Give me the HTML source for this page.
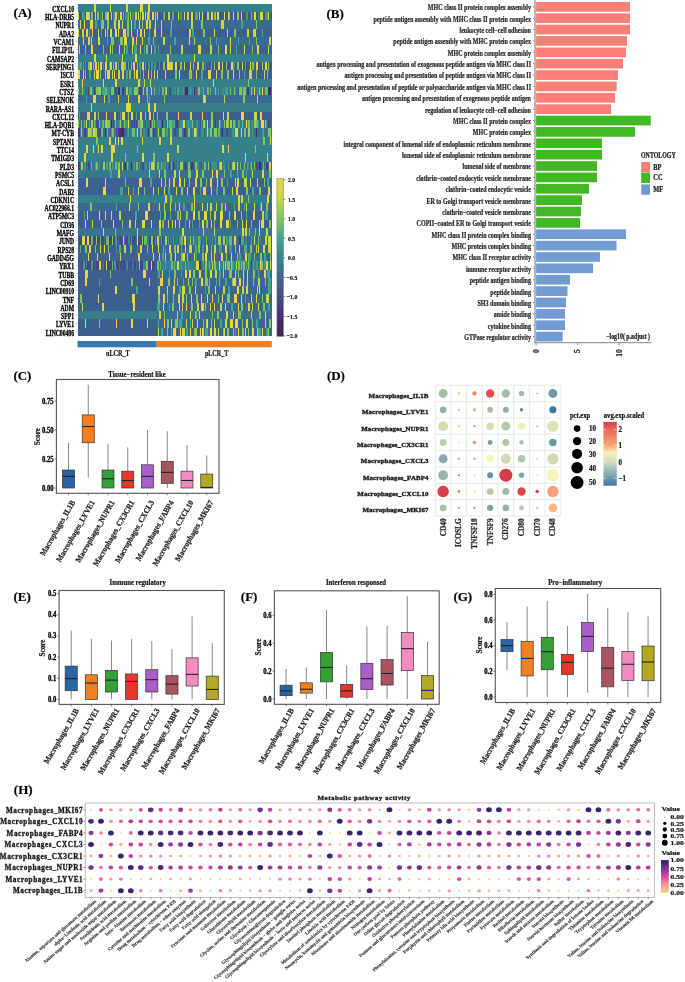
<!DOCTYPE html>
<html><head><meta charset="utf-8"><style>
html,body{margin:0;padding:0;background:#fff;width:685px;height:982px;overflow:hidden}
svg{display:block;will-change:transform;filter:blur(0.3px)}
text{font-family:"Liberation Serif",serif;font-weight:bold;stroke:#222;stroke-width:0.22px}
</style></head><body>
<svg width="685" height="982" viewBox="0 0 685 982">
<text transform="translate(13.60,17.20)" font-size="13" text-anchor="start" fill="#000">(A)</text>
<g shape-rendering="crispEdges">
<rect x="77.50" y="3.80" width="79.20" height="8.50" fill="#35808b"/>
<rect x="156.70" y="3.80" width="115.10" height="8.50" fill="#35808b"/>
<rect x="94.25" y="3.80" width="1.50" height="8.50" fill="#f0d43e"/>
<rect x="109.55" y="3.80" width="1.50" height="8.50" fill="#f0d43e"/>
<rect x="126.35" y="3.80" width="1.50" height="8.50" fill="#f0d43e"/>
<rect x="140.25" y="3.80" width="1.50" height="8.50" fill="#f0d43e"/>
<rect x="142.00" y="3.80" width="1.00" height="8.50" fill="#c8d840"/>
<rect x="148.25" y="3.80" width="1.50" height="8.50" fill="#f0d43e"/>
<rect x="77.50" y="12.11" width="79.20" height="8.50" fill="#3e5a8d"/>
<rect x="156.70" y="12.11" width="115.10" height="8.50" fill="#3e5a8d"/>
<rect x="77.50" y="12.11" width="1.00" height="8.50" fill="#c8d840"/>
<rect x="81.51" y="12.11" width="1.00" height="8.50" fill="#4dae7e"/>
<rect x="82.51" y="12.11" width="2.00" height="8.50" fill="#3b9a89"/>
<rect x="85.51" y="12.11" width="2.00" height="8.50" fill="#f0d43e"/>
<rect x="87.52" y="12.11" width="2.00" height="8.50" fill="#c8d840"/>
<rect x="90.52" y="12.11" width="2.00" height="8.50" fill="#82c858"/>
<rect x="94.53" y="12.11" width="1.00" height="8.50" fill="#f0d43e"/>
<rect x="96.53" y="12.11" width="2.00" height="8.50" fill="#82c858"/>
<rect x="99.53" y="12.11" width="1.00" height="8.50" fill="#3b9a89"/>
<rect x="101.54" y="12.11" width="1.00" height="8.50" fill="#82c858"/>
<rect x="104.54" y="12.11" width="2.00" height="8.50" fill="#82c858"/>
<rect x="106.54" y="12.11" width="2.00" height="8.50" fill="#c8d840"/>
<rect x="110.55" y="12.11" width="1.00" height="8.50" fill="#f0d43e"/>
<rect x="112.55" y="12.11" width="2.00" height="8.50" fill="#3b9a89"/>
<rect x="114.56" y="12.11" width="2.00" height="8.50" fill="#f0d43e"/>
<rect x="117.56" y="12.11" width="1.00" height="8.50" fill="#3b9a89"/>
<rect x="119.56" y="12.11" width="2.00" height="8.50" fill="#f0d43e"/>
<rect x="122.57" y="12.11" width="1.00" height="8.50" fill="#82c858"/>
<rect x="124.57" y="12.11" width="3.00" height="8.50" fill="#3b9a89"/>
<rect x="127.58" y="12.11" width="1.00" height="8.50" fill="#82c858"/>
<rect x="129.58" y="12.11" width="1.00" height="8.50" fill="#c8d840"/>
<rect x="131.58" y="12.11" width="2.00" height="8.50" fill="#3b9a89"/>
<rect x="134.59" y="12.11" width="2.00" height="8.50" fill="#c8d840"/>
<rect x="137.59" y="12.11" width="1.00" height="8.50" fill="#f0d43e"/>
<rect x="139.60" y="12.11" width="1.00" height="8.50" fill="#82c858"/>
<rect x="141.60" y="12.11" width="2.00" height="8.50" fill="#c8d840"/>
<rect x="144.60" y="12.11" width="1.00" height="8.50" fill="#f0d43e"/>
<rect x="146.61" y="12.11" width="2.00" height="8.50" fill="#c8d840"/>
<rect x="148.61" y="12.11" width="1.00" height="8.50" fill="#82c858"/>
<rect x="151.61" y="12.11" width="2.00" height="8.50" fill="#f0d43e"/>
<rect x="154.62" y="12.11" width="1.00" height="8.50" fill="#c8d840"/>
<rect x="156.62" y="12.11" width="1.00" height="8.50" fill="#f0d43e"/>
<rect x="162.63" y="12.11" width="1.00" height="8.50" fill="#3b9a89"/>
<rect x="163.63" y="12.11" width="1.00" height="8.50" fill="#82c858"/>
<rect x="167.64" y="12.11" width="2.00" height="8.50" fill="#c8d840"/>
<rect x="171.65" y="12.11" width="2.00" height="8.50" fill="#4dae7e"/>
<rect x="177.65" y="12.11" width="1.00" height="8.50" fill="#f0d43e"/>
<rect x="179.66" y="12.11" width="2.00" height="8.50" fill="#3b9a89"/>
<rect x="183.66" y="12.11" width="1.00" height="8.50" fill="#f0d43e"/>
<rect x="186.67" y="12.11" width="2.00" height="8.50" fill="#c8d840"/>
<rect x="190.67" y="12.11" width="2.00" height="8.50" fill="#f0d43e"/>
<rect x="194.68" y="12.11" width="3.00" height="8.50" fill="#4dae7e"/>
<rect x="198.69" y="12.11" width="1.00" height="8.50" fill="#f0d43e"/>
<rect x="201.69" y="12.11" width="1.00" height="8.50" fill="#f0d43e"/>
<rect x="206.70" y="12.11" width="2.00" height="8.50" fill="#c8d840"/>
<rect x="210.71" y="12.11" width="2.00" height="8.50" fill="#f0d43e"/>
<rect x="213.71" y="12.11" width="2.00" height="8.50" fill="#82c858"/>
<rect x="216.71" y="12.11" width="2.00" height="8.50" fill="#f0d43e"/>
<rect x="223.73" y="12.11" width="1.00" height="8.50" fill="#f0d43e"/>
<rect x="227.73" y="12.11" width="1.00" height="8.50" fill="#f0d43e"/>
<rect x="228.73" y="12.11" width="1.00" height="8.50" fill="#82c858"/>
<rect x="232.74" y="12.11" width="1.00" height="8.50" fill="#f0d43e"/>
<rect x="236.75" y="12.11" width="2.00" height="8.50" fill="#82c858"/>
<rect x="240.75" y="12.11" width="1.00" height="8.50" fill="#f0d43e"/>
<rect x="245.76" y="12.11" width="2.00" height="8.50" fill="#3b9a89"/>
<rect x="250.77" y="12.11" width="1.00" height="8.50" fill="#82c858"/>
<rect x="253.77" y="12.11" width="2.00" height="8.50" fill="#f0d43e"/>
<rect x="257.78" y="12.11" width="1.00" height="8.50" fill="#3b9a89"/>
<rect x="259.78" y="12.11" width="3.00" height="8.50" fill="#f0d43e"/>
<rect x="264.79" y="12.11" width="3.00" height="8.50" fill="#3b9a89"/>
<rect x="267.79" y="12.11" width="1.00" height="8.50" fill="#f0d43e"/>
<rect x="77.50" y="20.41" width="79.20" height="8.50" fill="#396b8f"/>
<rect x="156.70" y="20.41" width="115.10" height="8.50" fill="#396b8f"/>
<rect x="79.50" y="20.41" width="1.00" height="8.50" fill="#c8d840"/>
<rect x="83.51" y="20.41" width="1.00" height="8.50" fill="#f0d43e"/>
<rect x="89.52" y="20.41" width="3.00" height="8.50" fill="#f0d43e"/>
<rect x="94.53" y="20.41" width="2.00" height="8.50" fill="#40a888"/>
<rect x="100.54" y="20.41" width="3.00" height="8.50" fill="#82c858"/>
<rect x="106.54" y="20.41" width="2.00" height="8.50" fill="#82c858"/>
<rect x="113.56" y="20.41" width="2.00" height="8.50" fill="#c8d840"/>
<rect x="117.56" y="20.41" width="2.00" height="8.50" fill="#f0d43e"/>
<rect x="121.57" y="20.41" width="1.00" height="8.50" fill="#f0d43e"/>
<rect x="126.58" y="20.41" width="2.00" height="8.50" fill="#82c858"/>
<rect x="130.58" y="20.41" width="1.00" height="8.50" fill="#f0d43e"/>
<rect x="133.59" y="20.41" width="2.00" height="8.50" fill="#40a888"/>
<rect x="138.59" y="20.41" width="1.00" height="8.50" fill="#f0d43e"/>
<rect x="141.60" y="20.41" width="1.00" height="8.50" fill="#82c858"/>
<rect x="145.61" y="20.41" width="2.00" height="8.50" fill="#f0d43e"/>
<rect x="148.61" y="20.41" width="2.00" height="8.50" fill="#c8d840"/>
<rect x="154.62" y="20.41" width="1.00" height="8.50" fill="#f0d43e"/>
<rect x="160.63" y="20.41" width="1.00" height="8.50" fill="#c8d840"/>
<rect x="170.64" y="20.41" width="1.00" height="8.50" fill="#82c858"/>
<rect x="190.67" y="20.41" width="2.00" height="8.50" fill="#c8d840"/>
<rect x="200.69" y="20.41" width="2.00" height="8.50" fill="#82c858"/>
<rect x="220.72" y="20.41" width="3.00" height="8.50" fill="#c8d840"/>
<rect x="240.75" y="20.41" width="2.00" height="8.50" fill="#40a888"/>
<rect x="255.78" y="20.41" width="1.00" height="8.50" fill="#82c858"/>
<rect x="77.50" y="28.71" width="79.20" height="8.50" fill="#3c608e"/>
<rect x="156.70" y="28.71" width="115.10" height="8.50" fill="#3c608e"/>
<rect x="77.50" y="28.71" width="1.00" height="8.50" fill="#f0d43e"/>
<rect x="81.51" y="28.71" width="2.00" height="8.50" fill="#c8d840"/>
<rect x="85.51" y="28.71" width="2.00" height="8.50" fill="#f0d43e"/>
<rect x="88.52" y="28.71" width="1.00" height="8.50" fill="#40a888"/>
<rect x="91.52" y="28.71" width="1.00" height="8.50" fill="#f0d43e"/>
<rect x="97.53" y="28.71" width="1.00" height="8.50" fill="#f0d43e"/>
<rect x="100.54" y="28.71" width="1.00" height="8.50" fill="#40a888"/>
<rect x="104.54" y="28.71" width="1.00" height="8.50" fill="#f0d43e"/>
<rect x="106.54" y="28.71" width="1.00" height="8.50" fill="#82c858"/>
<rect x="109.55" y="28.71" width="2.00" height="8.50" fill="#f0d43e"/>
<rect x="114.56" y="28.71" width="2.00" height="8.50" fill="#f0d43e"/>
<rect x="117.56" y="28.71" width="1.00" height="8.50" fill="#f0d43e"/>
<rect x="122.57" y="28.71" width="3.00" height="8.50" fill="#f0d43e"/>
<rect x="126.58" y="28.71" width="2.00" height="8.50" fill="#82c858"/>
<rect x="130.58" y="28.71" width="1.00" height="8.50" fill="#f0d43e"/>
<rect x="136.59" y="28.71" width="1.00" height="8.50" fill="#c8d840"/>
<rect x="139.60" y="28.71" width="2.00" height="8.50" fill="#f0d43e"/>
<rect x="143.60" y="28.71" width="1.00" height="8.50" fill="#f0d43e"/>
<rect x="148.61" y="28.71" width="1.00" height="8.50" fill="#40a888"/>
<rect x="153.62" y="28.71" width="2.00" height="8.50" fill="#f0d43e"/>
<rect x="160.63" y="28.71" width="1.00" height="8.50" fill="#f0d43e"/>
<rect x="169.64" y="28.71" width="2.00" height="8.50" fill="#40a888"/>
<rect x="188.67" y="28.71" width="2.00" height="8.50" fill="#f0d43e"/>
<rect x="191.68" y="28.71" width="2.00" height="8.50" fill="#40a888"/>
<rect x="202.69" y="28.71" width="2.00" height="8.50" fill="#82c858"/>
<rect x="213.71" y="28.71" width="1.00" height="8.50" fill="#f0d43e"/>
<rect x="226.73" y="28.71" width="1.00" height="8.50" fill="#c8d840"/>
<rect x="233.74" y="28.71" width="2.00" height="8.50" fill="#82c858"/>
<rect x="246.76" y="28.71" width="2.00" height="8.50" fill="#c8d840"/>
<rect x="252.77" y="28.71" width="3.00" height="8.50" fill="#c8d840"/>
<rect x="261.78" y="28.71" width="1.00" height="8.50" fill="#40a888"/>
<rect x="77.50" y="37.02" width="79.20" height="8.50" fill="#396b8f"/>
<rect x="156.70" y="37.02" width="115.10" height="8.50" fill="#396b8f"/>
<rect x="82.51" y="37.02" width="1.00" height="8.50" fill="#f0d43e"/>
<rect x="87.52" y="37.02" width="2.00" height="8.50" fill="#f0d43e"/>
<rect x="90.52" y="37.02" width="1.00" height="8.50" fill="#c8d840"/>
<rect x="97.53" y="37.02" width="2.00" height="8.50" fill="#f0d43e"/>
<rect x="106.54" y="37.02" width="1.00" height="8.50" fill="#40a888"/>
<rect x="110.55" y="37.02" width="3.00" height="8.50" fill="#82c858"/>
<rect x="119.56" y="37.02" width="3.00" height="8.50" fill="#82c858"/>
<rect x="123.57" y="37.02" width="3.00" height="8.50" fill="#f0d43e"/>
<rect x="131.58" y="37.02" width="2.00" height="8.50" fill="#f0d43e"/>
<rect x="135.59" y="37.02" width="1.00" height="8.50" fill="#f0d43e"/>
<rect x="141.60" y="37.02" width="1.00" height="8.50" fill="#f0d43e"/>
<rect x="147.61" y="37.02" width="2.00" height="8.50" fill="#40a888"/>
<rect x="152.62" y="37.02" width="1.00" height="8.50" fill="#82c858"/>
<rect x="162.63" y="37.02" width="2.00" height="8.50" fill="#c8d840"/>
<rect x="173.65" y="37.02" width="2.00" height="8.50" fill="#40a888"/>
<rect x="188.67" y="37.02" width="1.00" height="8.50" fill="#f0d43e"/>
<rect x="193.68" y="37.02" width="1.00" height="8.50" fill="#c8d840"/>
<rect x="209.70" y="37.02" width="1.00" height="8.50" fill="#82c858"/>
<rect x="215.71" y="37.02" width="1.00" height="8.50" fill="#40a888"/>
<rect x="229.74" y="37.02" width="1.00" height="8.50" fill="#f0d43e"/>
<rect x="237.75" y="37.02" width="1.00" height="8.50" fill="#40a888"/>
<rect x="248.76" y="37.02" width="1.00" height="8.50" fill="#40a888"/>
<rect x="255.78" y="37.02" width="1.00" height="8.50" fill="#82c858"/>
<rect x="268.80" y="37.02" width="2.00" height="8.50" fill="#c8d840"/>
<rect x="77.50" y="45.32" width="79.20" height="8.50" fill="#3c638f"/>
<rect x="156.70" y="45.32" width="115.10" height="8.50" fill="#3c638f"/>
<rect x="78.50" y="45.32" width="1.00" height="8.50" fill="#f0d43e"/>
<rect x="84.51" y="45.32" width="1.00" height="8.50" fill="#82c858"/>
<rect x="90.52" y="45.32" width="2.00" height="8.50" fill="#f0d43e"/>
<rect x="102.54" y="45.32" width="1.00" height="8.50" fill="#82c858"/>
<rect x="109.55" y="45.32" width="1.00" height="8.50" fill="#f0d43e"/>
<rect x="111.55" y="45.32" width="1.00" height="8.50" fill="#82c858"/>
<rect x="118.56" y="45.32" width="1.00" height="8.50" fill="#f0d43e"/>
<rect x="123.57" y="45.32" width="1.00" height="8.50" fill="#c8d840"/>
<rect x="125.57" y="45.32" width="2.00" height="8.50" fill="#40a888"/>
<rect x="131.58" y="45.32" width="1.00" height="8.50" fill="#f0d43e"/>
<rect x="133.59" y="45.32" width="3.00" height="8.50" fill="#40a888"/>
<rect x="139.60" y="45.32" width="1.00" height="8.50" fill="#f0d43e"/>
<rect x="143.60" y="45.32" width="1.00" height="8.50" fill="#40a888"/>
<rect x="145.61" y="45.32" width="2.00" height="8.50" fill="#82c858"/>
<rect x="150.61" y="45.32" width="1.00" height="8.50" fill="#f0d43e"/>
<rect x="153.62" y="45.32" width="2.00" height="8.50" fill="#40a888"/>
<rect x="157.62" y="45.32" width="1.00" height="8.50" fill="#40a888"/>
<rect x="169.64" y="45.32" width="1.00" height="8.50" fill="#82c858"/>
<rect x="180.66" y="45.32" width="2.00" height="8.50" fill="#c8d840"/>
<rect x="197.69" y="45.32" width="3.00" height="8.50" fill="#f0d43e"/>
<rect x="209.70" y="45.32" width="2.00" height="8.50" fill="#c8d840"/>
<rect x="217.72" y="45.32" width="1.00" height="8.50" fill="#82c858"/>
<rect x="224.73" y="45.32" width="2.00" height="8.50" fill="#f0d43e"/>
<rect x="229.74" y="45.32" width="1.00" height="8.50" fill="#c8d840"/>
<rect x="235.74" y="45.32" width="1.00" height="8.50" fill="#40a888"/>
<rect x="243.76" y="45.32" width="1.00" height="8.50" fill="#f0d43e"/>
<rect x="251.77" y="45.32" width="1.00" height="8.50" fill="#82c858"/>
<rect x="256.78" y="45.32" width="2.00" height="8.50" fill="#f0d43e"/>
<rect x="267.79" y="45.32" width="1.00" height="8.50" fill="#c8d840"/>
<rect x="77.50" y="53.63" width="79.20" height="8.50" fill="#35808b"/>
<rect x="156.70" y="53.63" width="115.10" height="8.50" fill="#35808b"/>
<rect x="94.25" y="53.63" width="1.50" height="8.50" fill="#f0d43e"/>
<rect x="105.95" y="53.63" width="1.50" height="8.50" fill="#c8d840"/>
<rect x="121.65" y="53.63" width="1.50" height="8.50" fill="#f0d43e"/>
<rect x="135.15" y="53.63" width="1.50" height="8.50" fill="#f0d43e"/>
<rect x="167.25" y="53.63" width="1.50" height="8.50" fill="#f0d43e"/>
<rect x="193.95" y="53.63" width="1.50" height="8.50" fill="#f0d43e"/>
<rect x="77.50" y="61.93" width="79.20" height="8.50" fill="#3e5a8d"/>
<rect x="156.70" y="61.93" width="115.10" height="8.50" fill="#3e5a8d"/>
<rect x="77.50" y="61.93" width="2.00" height="8.50" fill="#3b9a89"/>
<rect x="79.50" y="61.93" width="2.00" height="8.50" fill="#4dae7e"/>
<rect x="82.51" y="61.93" width="1.00" height="8.50" fill="#4dae7e"/>
<rect x="84.51" y="61.93" width="1.00" height="8.50" fill="#3b9a89"/>
<rect x="87.52" y="61.93" width="2.00" height="8.50" fill="#82c858"/>
<rect x="89.52" y="61.93" width="2.00" height="8.50" fill="#f0d43e"/>
<rect x="92.52" y="61.93" width="1.00" height="8.50" fill="#82c858"/>
<rect x="94.53" y="61.93" width="2.00" height="8.50" fill="#f0d43e"/>
<rect x="97.53" y="61.93" width="1.00" height="8.50" fill="#c8d840"/>
<rect x="99.53" y="61.93" width="2.00" height="8.50" fill="#f0d43e"/>
<rect x="102.54" y="61.93" width="1.00" height="8.50" fill="#3b9a89"/>
<rect x="104.54" y="61.93" width="2.00" height="8.50" fill="#f0d43e"/>
<rect x="108.55" y="61.93" width="1.00" height="8.50" fill="#4dae7e"/>
<rect x="109.55" y="61.93" width="2.00" height="8.50" fill="#c8d840"/>
<rect x="112.55" y="61.93" width="1.00" height="8.50" fill="#82c858"/>
<rect x="114.56" y="61.93" width="2.00" height="8.50" fill="#c8d840"/>
<rect x="117.56" y="61.93" width="1.00" height="8.50" fill="#4dae7e"/>
<rect x="120.57" y="61.93" width="3.00" height="8.50" fill="#c8d840"/>
<rect x="123.57" y="61.93" width="2.00" height="8.50" fill="#82c858"/>
<rect x="127.58" y="61.93" width="1.00" height="8.50" fill="#4dae7e"/>
<rect x="130.58" y="61.93" width="1.00" height="8.50" fill="#82c858"/>
<rect x="132.59" y="61.93" width="2.00" height="8.50" fill="#f0d43e"/>
<rect x="136.59" y="61.93" width="1.00" height="8.50" fill="#82c858"/>
<rect x="138.59" y="61.93" width="2.00" height="8.50" fill="#3b9a89"/>
<rect x="141.60" y="61.93" width="2.00" height="8.50" fill="#f0d43e"/>
<rect x="144.60" y="61.93" width="1.00" height="8.50" fill="#4dae7e"/>
<rect x="147.61" y="61.93" width="2.00" height="8.50" fill="#3b9a89"/>
<rect x="150.61" y="61.93" width="2.00" height="8.50" fill="#3b9a89"/>
<rect x="153.62" y="61.93" width="2.00" height="8.50" fill="#3b9a89"/>
<rect x="158.63" y="61.93" width="1.00" height="8.50" fill="#3b9a89"/>
<rect x="162.63" y="61.93" width="2.00" height="8.50" fill="#82c858"/>
<rect x="166.64" y="61.93" width="3.00" height="8.50" fill="#f0d43e"/>
<rect x="169.64" y="61.93" width="3.00" height="8.50" fill="#c8d840"/>
<rect x="174.65" y="61.93" width="2.00" height="8.50" fill="#f0d43e"/>
<rect x="179.66" y="61.93" width="2.00" height="8.50" fill="#82c858"/>
<rect x="183.66" y="61.93" width="1.00" height="8.50" fill="#c8d840"/>
<rect x="189.67" y="61.93" width="1.00" height="8.50" fill="#f0d43e"/>
<rect x="192.68" y="61.93" width="1.00" height="8.50" fill="#82c858"/>
<rect x="196.68" y="61.93" width="2.00" height="8.50" fill="#f0d43e"/>
<rect x="201.69" y="61.93" width="2.00" height="8.50" fill="#82c858"/>
<rect x="204.70" y="61.93" width="1.00" height="8.50" fill="#3b9a89"/>
<rect x="210.71" y="61.93" width="1.00" height="8.50" fill="#4dae7e"/>
<rect x="213.71" y="61.93" width="1.00" height="8.50" fill="#82c858"/>
<rect x="217.72" y="61.93" width="2.00" height="8.50" fill="#f0d43e"/>
<rect x="221.72" y="61.93" width="1.00" height="8.50" fill="#f0d43e"/>
<rect x="225.73" y="61.93" width="1.00" height="8.50" fill="#82c858"/>
<rect x="230.74" y="61.93" width="2.00" height="8.50" fill="#f0d43e"/>
<rect x="232.74" y="61.93" width="2.00" height="8.50" fill="#3b9a89"/>
<rect x="236.75" y="61.93" width="2.00" height="8.50" fill="#82c858"/>
<rect x="241.75" y="61.93" width="1.00" height="8.50" fill="#f0d43e"/>
<rect x="244.76" y="61.93" width="1.00" height="8.50" fill="#4dae7e"/>
<rect x="249.77" y="61.93" width="1.00" height="8.50" fill="#f0d43e"/>
<rect x="251.77" y="61.93" width="2.00" height="8.50" fill="#82c858"/>
<rect x="255.78" y="61.93" width="2.00" height="8.50" fill="#f0d43e"/>
<rect x="261.78" y="61.93" width="1.00" height="8.50" fill="#c8d840"/>
<rect x="264.79" y="61.93" width="2.00" height="8.50" fill="#f0d43e"/>
<rect x="267.79" y="61.93" width="1.00" height="8.50" fill="#82c858"/>
<rect x="77.50" y="70.24" width="79.20" height="8.50" fill="#3c608e"/>
<rect x="156.70" y="70.24" width="115.10" height="8.50" fill="#3c608e"/>
<rect x="77.50" y="70.24" width="2.00" height="8.50" fill="#f0d43e"/>
<rect x="82.51" y="70.24" width="1.00" height="8.50" fill="#f0d43e"/>
<rect x="84.51" y="70.24" width="1.00" height="8.50" fill="#82c858"/>
<rect x="88.52" y="70.24" width="2.00" height="8.50" fill="#40a888"/>
<rect x="93.52" y="70.24" width="1.00" height="8.50" fill="#c8d840"/>
<rect x="95.53" y="70.24" width="3.00" height="8.50" fill="#f0d43e"/>
<rect x="99.53" y="70.24" width="1.00" height="8.50" fill="#82c858"/>
<rect x="104.54" y="70.24" width="1.00" height="8.50" fill="#c8d840"/>
<rect x="106.54" y="70.24" width="3.00" height="8.50" fill="#f0d43e"/>
<rect x="111.55" y="70.24" width="1.00" height="8.50" fill="#c8d840"/>
<rect x="113.56" y="70.24" width="1.00" height="8.50" fill="#f0d43e"/>
<rect x="117.56" y="70.24" width="2.00" height="8.50" fill="#c8d840"/>
<rect x="121.57" y="70.24" width="2.00" height="8.50" fill="#f0d43e"/>
<rect x="125.57" y="70.24" width="2.00" height="8.50" fill="#40a888"/>
<rect x="128.58" y="70.24" width="2.00" height="8.50" fill="#82c858"/>
<rect x="133.59" y="70.24" width="1.00" height="8.50" fill="#f0d43e"/>
<rect x="135.59" y="70.24" width="2.00" height="8.50" fill="#f0d43e"/>
<rect x="139.60" y="70.24" width="1.00" height="8.50" fill="#40a888"/>
<rect x="142.60" y="70.24" width="1.00" height="8.50" fill="#82c858"/>
<rect x="147.61" y="70.24" width="1.00" height="8.50" fill="#f0d43e"/>
<rect x="150.61" y="70.24" width="1.00" height="8.50" fill="#82c858"/>
<rect x="153.62" y="70.24" width="1.00" height="8.50" fill="#f0d43e"/>
<rect x="156.62" y="70.24" width="1.00" height="8.50" fill="#c8d840"/>
<rect x="164.63" y="70.24" width="1.00" height="8.50" fill="#f0d43e"/>
<rect x="174.65" y="70.24" width="2.00" height="8.50" fill="#82c858"/>
<rect x="178.66" y="70.24" width="1.00" height="8.50" fill="#f0d43e"/>
<rect x="188.67" y="70.24" width="3.00" height="8.50" fill="#82c858"/>
<rect x="195.68" y="70.24" width="1.00" height="8.50" fill="#f0d43e"/>
<rect x="200.69" y="70.24" width="2.00" height="8.50" fill="#40a888"/>
<rect x="207.70" y="70.24" width="3.00" height="8.50" fill="#f0d43e"/>
<rect x="215.71" y="70.24" width="1.00" height="8.50" fill="#f0d43e"/>
<rect x="220.72" y="70.24" width="2.00" height="8.50" fill="#82c858"/>
<rect x="226.73" y="70.24" width="2.00" height="8.50" fill="#82c858"/>
<rect x="232.74" y="70.24" width="1.00" height="8.50" fill="#f0d43e"/>
<rect x="238.75" y="70.24" width="1.00" height="8.50" fill="#82c858"/>
<rect x="243.76" y="70.24" width="1.00" height="8.50" fill="#40a888"/>
<rect x="248.76" y="70.24" width="3.00" height="8.50" fill="#c8d840"/>
<rect x="255.78" y="70.24" width="1.00" height="8.50" fill="#82c858"/>
<rect x="263.79" y="70.24" width="1.00" height="8.50" fill="#c8d840"/>
<rect x="266.79" y="70.24" width="1.00" height="8.50" fill="#82c858"/>
<rect x="77.50" y="78.55" width="79.20" height="8.50" fill="#35808b"/>
<rect x="156.70" y="78.55" width="115.10" height="8.50" fill="#35808b"/>
<rect x="81.85" y="78.55" width="1.50" height="8.50" fill="#f0d43e"/>
<rect x="102.95" y="78.55" width="1.50" height="8.50" fill="#f0d43e"/>
<rect x="115.35" y="78.55" width="1.50" height="8.50" fill="#f0d43e"/>
<rect x="137.80" y="78.55" width="2.00" height="8.50" fill="#f0d43e"/>
<rect x="143.85" y="78.55" width="1.50" height="8.50" fill="#c8d840"/>
<rect x="149.75" y="78.55" width="1.50" height="8.50" fill="#f0d43e"/>
<rect x="212.95" y="78.55" width="1.50" height="8.50" fill="#f0d43e"/>
<rect x="247.95" y="78.55" width="1.50" height="8.50" fill="#82c858"/>
<rect x="77.50" y="86.85" width="79.20" height="8.50" fill="#367a8c"/>
<rect x="156.70" y="86.85" width="115.10" height="8.50" fill="#367a8c"/>
<rect x="77.50" y="86.85" width="1.00" height="8.50" fill="#75c262"/>
<rect x="81.51" y="86.85" width="1.00" height="8.50" fill="#82c858"/>
<rect x="83.51" y="86.85" width="1.00" height="8.50" fill="#399489"/>
<rect x="84.51" y="86.85" width="2.00" height="8.50" fill="#3a6890"/>
<rect x="87.52" y="86.85" width="1.00" height="8.50" fill="#424d8a"/>
<rect x="89.52" y="86.85" width="2.00" height="8.50" fill="#82c858"/>
<rect x="91.52" y="86.85" width="1.00" height="8.50" fill="#368d8a"/>
<rect x="93.52" y="86.85" width="1.00" height="8.50" fill="#473884"/>
<rect x="95.53" y="86.85" width="3.00" height="8.50" fill="#82c858"/>
<rect x="98.53" y="86.85" width="2.00" height="8.50" fill="#9ece4e"/>
<rect x="101.54" y="86.85" width="3.00" height="8.50" fill="#40a888"/>
<rect x="104.54" y="86.85" width="2.00" height="8.50" fill="#68bb6b"/>
<rect x="106.54" y="86.85" width="1.00" height="8.50" fill="#368d8a"/>
<rect x="107.55" y="86.85" width="1.00" height="8.50" fill="#3b9a89"/>
<rect x="108.55" y="86.85" width="1.00" height="8.50" fill="#399489"/>
<rect x="110.55" y="86.85" width="3.00" height="8.50" fill="#75c262"/>
<rect x="113.56" y="86.85" width="1.00" height="8.50" fill="#3a6890"/>
<rect x="114.56" y="86.85" width="2.00" height="8.50" fill="#424d8a"/>
<rect x="117.56" y="86.85" width="2.00" height="8.50" fill="#472876"/>
<rect x="119.56" y="86.85" width="2.00" height="8.50" fill="#3b9a89"/>
<rect x="121.57" y="86.85" width="2.00" height="8.50" fill="#473884"/>
<rect x="124.57" y="86.85" width="1.00" height="8.50" fill="#3a6890"/>
<rect x="125.57" y="86.85" width="2.00" height="8.50" fill="#9ece4e"/>
<rect x="128.58" y="86.85" width="3.00" height="8.50" fill="#40a888"/>
<rect x="131.58" y="86.85" width="1.00" height="8.50" fill="#3a6890"/>
<rect x="132.59" y="86.85" width="1.00" height="8.50" fill="#368d8a"/>
<rect x="133.59" y="86.85" width="1.00" height="8.50" fill="#9ece4e"/>
<rect x="134.59" y="86.85" width="3.00" height="8.50" fill="#82c858"/>
<rect x="138.59" y="86.85" width="3.00" height="8.50" fill="#424d8a"/>
<rect x="142.60" y="86.85" width="1.00" height="8.50" fill="#9ece4e"/>
<rect x="143.60" y="86.85" width="2.00" height="8.50" fill="#3a6890"/>
<rect x="145.61" y="86.85" width="2.00" height="8.50" fill="#82c858"/>
<rect x="147.61" y="86.85" width="1.00" height="8.50" fill="#3a6890"/>
<rect x="150.61" y="86.85" width="1.00" height="8.50" fill="#d0d740"/>
<rect x="153.62" y="86.85" width="1.00" height="8.50" fill="#68bb6b"/>
<rect x="155.62" y="86.85" width="1.00" height="8.50" fill="#368d8a"/>
<rect x="158.63" y="86.85" width="1.00" height="8.50" fill="#399489"/>
<rect x="159.63" y="86.85" width="1.00" height="8.50" fill="#3a6890"/>
<rect x="161.63" y="86.85" width="2.00" height="8.50" fill="#68bb6b"/>
<rect x="163.63" y="86.85" width="1.00" height="8.50" fill="#3a6890"/>
<rect x="164.63" y="86.85" width="2.00" height="8.50" fill="#9ece4e"/>
<rect x="168.64" y="86.85" width="2.00" height="8.50" fill="#424d8a"/>
<rect x="171.65" y="86.85" width="1.00" height="8.50" fill="#368d8a"/>
<rect x="173.65" y="86.85" width="2.00" height="8.50" fill="#399489"/>
<rect x="175.65" y="86.85" width="1.00" height="8.50" fill="#3a6890"/>
<rect x="176.65" y="86.85" width="2.00" height="8.50" fill="#40a888"/>
<rect x="179.66" y="86.85" width="1.00" height="8.50" fill="#368d8a"/>
<rect x="181.66" y="86.85" width="2.00" height="8.50" fill="#399489"/>
<rect x="184.67" y="86.85" width="3.00" height="8.50" fill="#472876"/>
<rect x="187.67" y="86.85" width="1.00" height="8.50" fill="#368d8a"/>
<rect x="188.67" y="86.85" width="3.00" height="8.50" fill="#399489"/>
<rect x="191.68" y="86.85" width="1.00" height="8.50" fill="#3a6890"/>
<rect x="192.68" y="86.85" width="1.00" height="8.50" fill="#3b9a89"/>
<rect x="193.68" y="86.85" width="1.00" height="8.50" fill="#472876"/>
<rect x="194.68" y="86.85" width="2.00" height="8.50" fill="#3a6890"/>
<rect x="197.69" y="86.85" width="2.00" height="8.50" fill="#82c858"/>
<rect x="200.69" y="86.85" width="1.00" height="8.50" fill="#3b9a89"/>
<rect x="202.69" y="86.85" width="1.00" height="8.50" fill="#68bb6b"/>
<rect x="206.70" y="86.85" width="2.00" height="8.50" fill="#75c262"/>
<rect x="208.70" y="86.85" width="1.00" height="8.50" fill="#3a6890"/>
<rect x="209.70" y="86.85" width="1.00" height="8.50" fill="#68bb6b"/>
<rect x="214.71" y="86.85" width="1.00" height="8.50" fill="#82c858"/>
<rect x="217.72" y="86.85" width="1.00" height="8.50" fill="#40a888"/>
<rect x="218.72" y="86.85" width="1.00" height="8.50" fill="#3a6890"/>
<rect x="221.72" y="86.85" width="1.00" height="8.50" fill="#368d8a"/>
<rect x="222.72" y="86.85" width="1.00" height="8.50" fill="#399489"/>
<rect x="224.73" y="86.85" width="3.00" height="8.50" fill="#40a888"/>
<rect x="229.74" y="86.85" width="1.00" height="8.50" fill="#82c858"/>
<rect x="233.74" y="86.85" width="1.00" height="8.50" fill="#75c262"/>
<rect x="234.74" y="86.85" width="1.00" height="8.50" fill="#368d8a"/>
<rect x="237.75" y="86.85" width="1.00" height="8.50" fill="#424d8a"/>
<rect x="238.75" y="86.85" width="3.00" height="8.50" fill="#82c858"/>
<rect x="242.76" y="86.85" width="3.00" height="8.50" fill="#82c858"/>
<rect x="246.76" y="86.85" width="2.00" height="8.50" fill="#473884"/>
<rect x="250.77" y="86.85" width="1.00" height="8.50" fill="#9ece4e"/>
<rect x="251.77" y="86.85" width="1.00" height="8.50" fill="#368d8a"/>
<rect x="253.77" y="86.85" width="1.00" height="8.50" fill="#f0d43e"/>
<rect x="256.78" y="86.85" width="1.00" height="8.50" fill="#3b9a89"/>
<rect x="258.78" y="86.85" width="1.00" height="8.50" fill="#82c858"/>
<rect x="259.78" y="86.85" width="1.00" height="8.50" fill="#3b9a89"/>
<rect x="261.78" y="86.85" width="1.00" height="8.50" fill="#f0d43e"/>
<rect x="264.79" y="86.85" width="3.00" height="8.50" fill="#68bb6b"/>
<rect x="267.79" y="86.85" width="3.00" height="8.50" fill="#472876"/>
<rect x="77.50" y="95.15" width="79.20" height="8.50" fill="#396b8f"/>
<rect x="156.70" y="95.15" width="115.10" height="8.50" fill="#396b8f"/>
<rect x="85.51" y="95.15" width="1.00" height="8.50" fill="#40a888"/>
<rect x="92.52" y="95.15" width="3.00" height="8.50" fill="#f0d43e"/>
<rect x="103.54" y="95.15" width="1.00" height="8.50" fill="#f0d43e"/>
<rect x="107.55" y="95.15" width="2.00" height="8.50" fill="#40a888"/>
<rect x="117.56" y="95.15" width="1.00" height="8.50" fill="#f0d43e"/>
<rect x="127.58" y="95.15" width="1.00" height="8.50" fill="#f0d43e"/>
<rect x="137.59" y="95.15" width="2.00" height="8.50" fill="#f0d43e"/>
<rect x="146.61" y="95.15" width="1.00" height="8.50" fill="#82c858"/>
<rect x="148.61" y="95.15" width="1.00" height="8.50" fill="#40a888"/>
<rect x="163.63" y="95.15" width="1.00" height="8.50" fill="#82c858"/>
<rect x="202.69" y="95.15" width="3.00" height="8.50" fill="#c8d840"/>
<rect x="223.73" y="95.15" width="1.00" height="8.50" fill="#c8d840"/>
<rect x="242.76" y="95.15" width="2.00" height="8.50" fill="#82c858"/>
<rect x="256.78" y="95.15" width="1.00" height="8.50" fill="#c8d840"/>
<rect x="77.50" y="103.46" width="79.20" height="8.50" fill="#35808b"/>
<rect x="156.70" y="103.46" width="115.10" height="8.50" fill="#35808b"/>
<rect x="90.55" y="103.46" width="1.50" height="8.50" fill="#f0d43e"/>
<rect x="126.25" y="103.46" width="4.50" height="8.50" fill="#f0d43e"/>
<rect x="148.25" y="103.46" width="1.50" height="8.50" fill="#f0d43e"/>
<rect x="154.05" y="103.46" width="1.50" height="8.50" fill="#f0d43e"/>
<rect x="77.50" y="111.77" width="79.20" height="8.50" fill="#3c608e"/>
<rect x="156.70" y="111.77" width="115.10" height="8.50" fill="#3c608e"/>
<rect x="78.50" y="111.77" width="1.00" height="8.50" fill="#40a888"/>
<rect x="86.51" y="111.77" width="3.00" height="8.50" fill="#f0d43e"/>
<rect x="93.52" y="111.77" width="2.00" height="8.50" fill="#c8d840"/>
<rect x="97.53" y="111.77" width="1.00" height="8.50" fill="#82c858"/>
<rect x="105.54" y="111.77" width="1.00" height="8.50" fill="#f0d43e"/>
<rect x="113.56" y="111.77" width="2.00" height="8.50" fill="#f0d43e"/>
<rect x="119.56" y="111.77" width="1.00" height="8.50" fill="#40a888"/>
<rect x="121.57" y="111.77" width="3.00" height="8.50" fill="#f0d43e"/>
<rect x="127.58" y="111.77" width="1.00" height="8.50" fill="#82c858"/>
<rect x="130.58" y="111.77" width="2.00" height="8.50" fill="#f0d43e"/>
<rect x="135.59" y="111.77" width="1.00" height="8.50" fill="#40a888"/>
<rect x="139.60" y="111.77" width="2.00" height="8.50" fill="#f0d43e"/>
<rect x="144.60" y="111.77" width="1.00" height="8.50" fill="#82c858"/>
<rect x="148.61" y="111.77" width="2.00" height="8.50" fill="#f0d43e"/>
<rect x="152.62" y="111.77" width="1.00" height="8.50" fill="#82c858"/>
<rect x="156.62" y="111.77" width="1.00" height="8.50" fill="#82c858"/>
<rect x="165.64" y="111.77" width="2.00" height="8.50" fill="#82c858"/>
<rect x="177.65" y="111.77" width="1.00" height="8.50" fill="#f0d43e"/>
<rect x="189.67" y="111.77" width="2.00" height="8.50" fill="#c8d840"/>
<rect x="201.69" y="111.77" width="1.00" height="8.50" fill="#f0d43e"/>
<rect x="210.71" y="111.77" width="2.00" height="8.50" fill="#82c858"/>
<rect x="222.72" y="111.77" width="1.00" height="8.50" fill="#f0d43e"/>
<rect x="226.73" y="111.77" width="2.00" height="8.50" fill="#c8d840"/>
<rect x="240.75" y="111.77" width="3.00" height="8.50" fill="#f0d43e"/>
<rect x="253.77" y="111.77" width="3.00" height="8.50" fill="#c8d840"/>
<rect x="259.78" y="111.77" width="2.00" height="8.50" fill="#f0d43e"/>
<rect x="77.50" y="120.07" width="79.20" height="8.50" fill="#38748e"/>
<rect x="156.70" y="120.07" width="115.10" height="8.50" fill="#38748e"/>
<rect x="77.50" y="120.07" width="1.00" height="8.50" fill="#82c858"/>
<rect x="80.50" y="120.07" width="1.00" height="8.50" fill="#75c262"/>
<rect x="83.51" y="120.07" width="1.00" height="8.50" fill="#68bb6b"/>
<rect x="85.51" y="120.07" width="1.00" height="8.50" fill="#d0d740"/>
<rect x="87.52" y="120.07" width="1.00" height="8.50" fill="#3c638f"/>
<rect x="88.52" y="120.07" width="1.00" height="8.50" fill="#40a888"/>
<rect x="90.52" y="120.07" width="2.00" height="8.50" fill="#9ece4e"/>
<rect x="93.52" y="120.07" width="1.00" height="8.50" fill="#75c262"/>
<rect x="94.53" y="120.07" width="1.00" height="8.50" fill="#399489"/>
<rect x="95.53" y="120.07" width="3.00" height="8.50" fill="#424d8a"/>
<rect x="98.53" y="120.07" width="1.00" height="8.50" fill="#75c262"/>
<rect x="101.54" y="120.07" width="2.00" height="8.50" fill="#68bb6b"/>
<rect x="104.54" y="120.07" width="2.00" height="8.50" fill="#9ece4e"/>
<rect x="106.54" y="120.07" width="3.00" height="8.50" fill="#82c858"/>
<rect x="110.55" y="120.07" width="1.00" height="8.50" fill="#472876"/>
<rect x="112.55" y="120.07" width="1.00" height="8.50" fill="#424d8a"/>
<rect x="114.56" y="120.07" width="1.00" height="8.50" fill="#75c262"/>
<rect x="115.56" y="120.07" width="1.00" height="8.50" fill="#34868a"/>
<rect x="117.56" y="120.07" width="2.00" height="8.50" fill="#399489"/>
<rect x="119.56" y="120.07" width="1.00" height="8.50" fill="#9ece4e"/>
<rect x="123.57" y="120.07" width="1.00" height="8.50" fill="#82c858"/>
<rect x="124.57" y="120.07" width="3.00" height="8.50" fill="#399489"/>
<rect x="127.58" y="120.07" width="1.00" height="8.50" fill="#f0d43e"/>
<rect x="128.58" y="120.07" width="1.00" height="8.50" fill="#34868a"/>
<rect x="130.58" y="120.07" width="2.00" height="8.50" fill="#424d8a"/>
<rect x="133.59" y="120.07" width="1.00" height="8.50" fill="#473884"/>
<rect x="135.59" y="120.07" width="2.00" height="8.50" fill="#424d8a"/>
<rect x="137.59" y="120.07" width="3.00" height="8.50" fill="#68bb6b"/>
<rect x="140.60" y="120.07" width="2.00" height="8.50" fill="#9ece4e"/>
<rect x="144.60" y="120.07" width="1.00" height="8.50" fill="#424d8a"/>
<rect x="145.61" y="120.07" width="1.00" height="8.50" fill="#399489"/>
<rect x="149.61" y="120.07" width="1.00" height="8.50" fill="#472876"/>
<rect x="150.61" y="120.07" width="1.00" height="8.50" fill="#34868a"/>
<rect x="151.61" y="120.07" width="1.00" height="8.50" fill="#82c858"/>
<rect x="152.62" y="120.07" width="1.00" height="8.50" fill="#399489"/>
<rect x="153.62" y="120.07" width="1.00" height="8.50" fill="#75c262"/>
<rect x="156.62" y="120.07" width="4.01" height="8.50" fill="#399489"/>
<rect x="161.63" y="120.07" width="1.00" height="8.50" fill="#472876"/>
<rect x="163.63" y="120.07" width="1.00" height="8.50" fill="#399489"/>
<rect x="166.64" y="120.07" width="1.00" height="8.50" fill="#9ece4e"/>
<rect x="167.64" y="120.07" width="1.00" height="8.50" fill="#399489"/>
<rect x="168.64" y="120.07" width="3.00" height="8.50" fill="#68bb6b"/>
<rect x="171.65" y="120.07" width="3.00" height="8.50" fill="#40a888"/>
<rect x="174.65" y="120.07" width="1.00" height="8.50" fill="#3c638f"/>
<rect x="175.65" y="120.07" width="2.00" height="8.50" fill="#473884"/>
<rect x="179.66" y="120.07" width="3.00" height="8.50" fill="#399489"/>
<rect x="182.66" y="120.07" width="2.00" height="8.50" fill="#f0d43e"/>
<rect x="184.67" y="120.07" width="1.00" height="8.50" fill="#3c638f"/>
<rect x="185.67" y="120.07" width="5.01" height="8.50" fill="#399489"/>
<rect x="190.67" y="120.07" width="1.00" height="8.50" fill="#34868a"/>
<rect x="191.68" y="120.07" width="1.00" height="8.50" fill="#75c262"/>
<rect x="195.68" y="120.07" width="2.00" height="8.50" fill="#399489"/>
<rect x="199.69" y="120.07" width="1.00" height="8.50" fill="#424d8a"/>
<rect x="200.69" y="120.07" width="1.00" height="8.50" fill="#399489"/>
<rect x="202.69" y="120.07" width="2.00" height="8.50" fill="#9ece4e"/>
<rect x="204.70" y="120.07" width="1.00" height="8.50" fill="#399489"/>
<rect x="206.70" y="120.07" width="1.00" height="8.50" fill="#d0d740"/>
<rect x="207.70" y="120.07" width="1.00" height="8.50" fill="#3c638f"/>
<rect x="210.71" y="120.07" width="2.00" height="8.50" fill="#9ece4e"/>
<rect x="212.71" y="120.07" width="1.00" height="8.50" fill="#3c638f"/>
<rect x="214.71" y="120.07" width="1.00" height="8.50" fill="#473884"/>
<rect x="216.71" y="120.07" width="1.00" height="8.50" fill="#3c638f"/>
<rect x="218.72" y="120.07" width="1.00" height="8.50" fill="#9ece4e"/>
<rect x="219.72" y="120.07" width="1.00" height="8.50" fill="#399489"/>
<rect x="223.73" y="120.07" width="1.00" height="8.50" fill="#82c858"/>
<rect x="225.73" y="120.07" width="3.00" height="8.50" fill="#9ece4e"/>
<rect x="228.73" y="120.07" width="1.00" height="8.50" fill="#3c638f"/>
<rect x="229.74" y="120.07" width="2.00" height="8.50" fill="#9ece4e"/>
<rect x="231.74" y="120.07" width="1.00" height="8.50" fill="#3c638f"/>
<rect x="232.74" y="120.07" width="2.00" height="8.50" fill="#75c262"/>
<rect x="234.74" y="120.07" width="1.00" height="8.50" fill="#399489"/>
<rect x="235.74" y="120.07" width="1.00" height="8.50" fill="#3c638f"/>
<rect x="237.75" y="120.07" width="2.00" height="8.50" fill="#40a888"/>
<rect x="241.75" y="120.07" width="1.00" height="8.50" fill="#68bb6b"/>
<rect x="245.76" y="120.07" width="1.00" height="8.50" fill="#f0d43e"/>
<rect x="246.76" y="120.07" width="1.00" height="8.50" fill="#399489"/>
<rect x="247.76" y="120.07" width="2.00" height="8.50" fill="#75c262"/>
<rect x="249.77" y="120.07" width="1.00" height="8.50" fill="#3c638f"/>
<rect x="250.77" y="120.07" width="2.00" height="8.50" fill="#399489"/>
<rect x="253.77" y="120.07" width="2.00" height="8.50" fill="#9ece4e"/>
<rect x="255.78" y="120.07" width="2.00" height="8.50" fill="#75c262"/>
<rect x="257.78" y="120.07" width="1.00" height="8.50" fill="#399489"/>
<rect x="260.78" y="120.07" width="3.00" height="8.50" fill="#f0d43e"/>
<rect x="264.79" y="120.07" width="1.00" height="8.50" fill="#9ece4e"/>
<rect x="265.79" y="120.07" width="1.00" height="8.50" fill="#399489"/>
<rect x="267.79" y="120.07" width="3.00" height="8.50" fill="#424d8a"/>
<rect x="77.50" y="128.38" width="79.20" height="8.50" fill="#38718e"/>
<rect x="156.70" y="128.38" width="115.10" height="8.50" fill="#38718e"/>
<rect x="77.50" y="128.38" width="2.00" height="8.50" fill="#473884"/>
<rect x="80.50" y="128.38" width="1.00" height="8.50" fill="#d0d740"/>
<rect x="82.51" y="128.38" width="1.00" height="8.50" fill="#35838b"/>
<rect x="83.51" y="128.38" width="2.00" height="8.50" fill="#424d8a"/>
<rect x="86.51" y="128.38" width="1.00" height="8.50" fill="#389089"/>
<rect x="87.52" y="128.38" width="1.00" height="8.50" fill="#f0d43e"/>
<rect x="88.52" y="128.38" width="3.00" height="8.50" fill="#9ece4e"/>
<rect x="91.52" y="128.38" width="1.00" height="8.50" fill="#389089"/>
<rect x="92.52" y="128.38" width="2.00" height="8.50" fill="#d0d740"/>
<rect x="94.53" y="128.38" width="2.00" height="8.50" fill="#9ece4e"/>
<rect x="97.53" y="128.38" width="3.00" height="8.50" fill="#424d8a"/>
<rect x="100.54" y="128.38" width="2.00" height="8.50" fill="#68bb6b"/>
<rect x="104.54" y="128.38" width="1.00" height="8.50" fill="#472876"/>
<rect x="106.54" y="128.38" width="1.00" height="8.50" fill="#68bb6b"/>
<rect x="110.55" y="128.38" width="1.00" height="8.50" fill="#399489"/>
<rect x="111.55" y="128.38" width="2.00" height="8.50" fill="#75c262"/>
<rect x="114.56" y="128.38" width="1.00" height="8.50" fill="#35838b"/>
<rect x="115.56" y="128.38" width="1.00" height="8.50" fill="#424d8a"/>
<rect x="117.56" y="128.38" width="3.00" height="8.50" fill="#473884"/>
<rect x="120.57" y="128.38" width="3.00" height="8.50" fill="#472876"/>
<rect x="123.57" y="128.38" width="1.00" height="8.50" fill="#3c608e"/>
<rect x="126.58" y="128.38" width="1.00" height="8.50" fill="#399489"/>
<rect x="127.58" y="128.38" width="1.00" height="8.50" fill="#40a888"/>
<rect x="130.58" y="128.38" width="1.00" height="8.50" fill="#389089"/>
<rect x="131.58" y="128.38" width="3.00" height="8.50" fill="#68bb6b"/>
<rect x="134.59" y="128.38" width="1.00" height="8.50" fill="#35838b"/>
<rect x="135.59" y="128.38" width="1.00" height="8.50" fill="#389089"/>
<rect x="136.59" y="128.38" width="1.00" height="8.50" fill="#f0d43e"/>
<rect x="139.60" y="128.38" width="2.00" height="8.50" fill="#75c262"/>
<rect x="141.60" y="128.38" width="1.00" height="8.50" fill="#3c608e"/>
<rect x="142.60" y="128.38" width="1.00" height="8.50" fill="#389089"/>
<rect x="143.60" y="128.38" width="1.00" height="8.50" fill="#399489"/>
<rect x="144.60" y="128.38" width="2.00" height="8.50" fill="#35838b"/>
<rect x="147.61" y="128.38" width="1.00" height="8.50" fill="#472876"/>
<rect x="149.61" y="128.38" width="2.00" height="8.50" fill="#82c858"/>
<rect x="151.61" y="128.38" width="1.00" height="8.50" fill="#389089"/>
<rect x="152.62" y="128.38" width="3.00" height="8.50" fill="#424d8a"/>
<rect x="156.62" y="128.38" width="1.00" height="8.50" fill="#35838b"/>
<rect x="157.62" y="128.38" width="1.00" height="8.50" fill="#9ece4e"/>
<rect x="159.63" y="128.38" width="2.00" height="8.50" fill="#3c608e"/>
<rect x="161.63" y="128.38" width="3.00" height="8.50" fill="#82c858"/>
<rect x="165.64" y="128.38" width="2.00" height="8.50" fill="#40a888"/>
<rect x="169.64" y="128.38" width="2.00" height="8.50" fill="#9ece4e"/>
<rect x="173.65" y="128.38" width="2.00" height="8.50" fill="#424d8a"/>
<rect x="178.66" y="128.38" width="3.00" height="8.50" fill="#75c262"/>
<rect x="183.66" y="128.38" width="2.00" height="8.50" fill="#473884"/>
<rect x="187.67" y="128.38" width="2.00" height="8.50" fill="#82c858"/>
<rect x="191.68" y="128.38" width="1.00" height="8.50" fill="#389089"/>
<rect x="193.68" y="128.38" width="2.00" height="8.50" fill="#f0d43e"/>
<rect x="195.68" y="128.38" width="1.00" height="8.50" fill="#68bb6b"/>
<rect x="196.68" y="128.38" width="1.00" height="8.50" fill="#389089"/>
<rect x="198.69" y="128.38" width="1.00" height="8.50" fill="#3c608e"/>
<rect x="200.69" y="128.38" width="2.00" height="8.50" fill="#399489"/>
<rect x="202.69" y="128.38" width="1.00" height="8.50" fill="#389089"/>
<rect x="205.70" y="128.38" width="1.00" height="8.50" fill="#35838b"/>
<rect x="206.70" y="128.38" width="1.00" height="8.50" fill="#d0d740"/>
<rect x="207.70" y="128.38" width="2.00" height="8.50" fill="#389089"/>
<rect x="209.70" y="128.38" width="2.00" height="8.50" fill="#75c262"/>
<rect x="212.71" y="128.38" width="1.00" height="8.50" fill="#35838b"/>
<rect x="213.71" y="128.38" width="3.00" height="8.50" fill="#82c858"/>
<rect x="217.72" y="128.38" width="2.00" height="8.50" fill="#68bb6b"/>
<rect x="220.72" y="128.38" width="1.00" height="8.50" fill="#3c608e"/>
<rect x="221.72" y="128.38" width="1.00" height="8.50" fill="#472876"/>
<rect x="225.73" y="128.38" width="2.00" height="8.50" fill="#424d8a"/>
<rect x="231.74" y="128.38" width="2.00" height="8.50" fill="#399489"/>
<rect x="233.74" y="128.38" width="1.00" height="8.50" fill="#35838b"/>
<rect x="234.74" y="128.38" width="3.00" height="8.50" fill="#f0d43e"/>
<rect x="237.75" y="128.38" width="1.00" height="8.50" fill="#35838b"/>
<rect x="239.75" y="128.38" width="1.00" height="8.50" fill="#35838b"/>
<rect x="240.75" y="128.38" width="1.00" height="8.50" fill="#d0d740"/>
<rect x="243.76" y="128.38" width="2.00" height="8.50" fill="#75c262"/>
<rect x="247.76" y="128.38" width="2.00" height="8.50" fill="#9ece4e"/>
<rect x="251.77" y="128.38" width="1.00" height="8.50" fill="#40a888"/>
<rect x="255.78" y="128.38" width="1.00" height="8.50" fill="#472876"/>
<rect x="261.78" y="128.38" width="1.00" height="8.50" fill="#399489"/>
<rect x="262.79" y="128.38" width="1.00" height="8.50" fill="#40a888"/>
<rect x="266.79" y="128.38" width="1.00" height="8.50" fill="#35838b"/>
<rect x="267.79" y="128.38" width="3.00" height="8.50" fill="#82c858"/>
<rect x="270.80" y="128.38" width="1.00" height="8.50" fill="#35838b"/>
<rect x="77.50" y="136.68" width="79.20" height="8.50" fill="#35808b"/>
<rect x="156.70" y="136.68" width="115.10" height="8.50" fill="#35808b"/>
<rect x="96.45" y="136.68" width="1.50" height="8.50" fill="#82c858"/>
<rect x="109.20" y="136.68" width="2.20" height="8.50" fill="#f0d43e"/>
<rect x="114.80" y="136.68" width="1.20" height="8.50" fill="#f0d43e"/>
<rect x="117.70" y="136.68" width="1.20" height="8.50" fill="#f0d43e"/>
<rect x="121.00" y="136.68" width="2.00" height="8.50" fill="#f0d43e"/>
<rect x="141.65" y="136.68" width="1.50" height="8.50" fill="#f0d43e"/>
<rect x="159.25" y="136.68" width="1.50" height="8.50" fill="#f0d43e"/>
<rect x="170.15" y="136.68" width="1.50" height="8.50" fill="#c8d840"/>
<rect x="263.25" y="136.68" width="1.50" height="8.50" fill="#82c858"/>
<rect x="270.00" y="136.68" width="1.20" height="8.50" fill="#f0d43e"/>
<rect x="77.50" y="144.99" width="79.20" height="8.50" fill="#35808b"/>
<rect x="156.70" y="144.99" width="115.10" height="8.50" fill="#35808b"/>
<rect x="86.25" y="144.99" width="1.50" height="8.50" fill="#f0d43e"/>
<rect x="92.75" y="144.99" width="1.50" height="8.50" fill="#f0d43e"/>
<rect x="97.85" y="144.99" width="1.50" height="8.50" fill="#f0d43e"/>
<rect x="101.25" y="144.99" width="1.50" height="8.50" fill="#f0d43e"/>
<rect x="111.00" y="144.99" width="4.40" height="8.50" fill="#f0d43e"/>
<rect x="136.55" y="144.99" width="1.50" height="8.50" fill="#82c858"/>
<rect x="177.25" y="144.99" width="1.50" height="8.50" fill="#c8d840"/>
<rect x="222.45" y="144.99" width="1.50" height="8.50" fill="#f0d43e"/>
<rect x="227.95" y="144.99" width="1.50" height="8.50" fill="#f0d43e"/>
<rect x="254.85" y="144.99" width="1.50" height="8.50" fill="#82c858"/>
<rect x="77.50" y="153.29" width="79.20" height="8.50" fill="#35808b"/>
<rect x="156.70" y="153.29" width="115.10" height="8.50" fill="#35808b"/>
<rect x="84.05" y="153.29" width="1.50" height="8.50" fill="#f0d43e"/>
<rect x="111.05" y="153.29" width="1.50" height="8.50" fill="#f0d43e"/>
<rect x="124.85" y="153.29" width="1.50" height="8.50" fill="#82c858"/>
<rect x="142.45" y="153.29" width="1.50" height="8.50" fill="#f0d43e"/>
<rect x="153.35" y="153.29" width="1.50" height="8.50" fill="#82c858"/>
<rect x="167.25" y="153.29" width="1.50" height="8.50" fill="#f0d43e"/>
<rect x="244.75" y="153.29" width="1.50" height="8.50" fill="#f0d43e"/>
<rect x="266.55" y="153.29" width="1.50" height="8.50" fill="#f0d43e"/>
<rect x="77.50" y="161.59" width="79.20" height="8.50" fill="#38718e"/>
<rect x="156.70" y="161.59" width="115.10" height="8.50" fill="#38718e"/>
<rect x="77.50" y="161.59" width="2.00" height="8.50" fill="#473884"/>
<rect x="80.50" y="161.59" width="2.00" height="8.50" fill="#9ece4e"/>
<rect x="83.51" y="161.59" width="2.00" height="8.50" fill="#399489"/>
<rect x="87.52" y="161.59" width="2.00" height="8.50" fill="#424d8a"/>
<rect x="90.52" y="161.59" width="1.00" height="8.50" fill="#75c262"/>
<rect x="92.52" y="161.59" width="1.00" height="8.50" fill="#35838b"/>
<rect x="94.53" y="161.59" width="1.00" height="8.50" fill="#40a888"/>
<rect x="95.53" y="161.59" width="2.00" height="8.50" fill="#75c262"/>
<rect x="98.53" y="161.59" width="1.00" height="8.50" fill="#399489"/>
<rect x="102.54" y="161.59" width="2.00" height="8.50" fill="#9ece4e"/>
<rect x="105.54" y="161.59" width="2.00" height="8.50" fill="#40a888"/>
<rect x="108.55" y="161.59" width="2.00" height="8.50" fill="#75c262"/>
<rect x="111.55" y="161.59" width="1.00" height="8.50" fill="#40a888"/>
<rect x="112.55" y="161.59" width="1.00" height="8.50" fill="#35838b"/>
<rect x="114.56" y="161.59" width="2.00" height="8.50" fill="#75c262"/>
<rect x="116.56" y="161.59" width="1.00" height="8.50" fill="#35838b"/>
<rect x="117.56" y="161.59" width="2.00" height="8.50" fill="#82c858"/>
<rect x="121.57" y="161.59" width="1.00" height="8.50" fill="#f0d43e"/>
<rect x="123.57" y="161.59" width="2.00" height="8.50" fill="#473884"/>
<rect x="126.58" y="161.59" width="1.00" height="8.50" fill="#68bb6b"/>
<rect x="127.58" y="161.59" width="1.00" height="8.50" fill="#389089"/>
<rect x="130.58" y="161.59" width="1.00" height="8.50" fill="#473884"/>
<rect x="132.59" y="161.59" width="1.00" height="8.50" fill="#35838b"/>
<rect x="133.59" y="161.59" width="1.00" height="8.50" fill="#40a888"/>
<rect x="135.59" y="161.59" width="2.00" height="8.50" fill="#75c262"/>
<rect x="138.59" y="161.59" width="1.00" height="8.50" fill="#399489"/>
<rect x="141.60" y="161.59" width="2.00" height="8.50" fill="#424d8a"/>
<rect x="144.60" y="161.59" width="2.00" height="8.50" fill="#399489"/>
<rect x="148.61" y="161.59" width="1.00" height="8.50" fill="#82c858"/>
<rect x="150.61" y="161.59" width="3.00" height="8.50" fill="#d0d740"/>
<rect x="153.62" y="161.59" width="1.00" height="8.50" fill="#82c858"/>
<rect x="154.62" y="161.59" width="1.00" height="8.50" fill="#3c608e"/>
<rect x="156.62" y="161.59" width="2.00" height="8.50" fill="#68bb6b"/>
<rect x="158.63" y="161.59" width="2.00" height="8.50" fill="#35838b"/>
<rect x="160.63" y="161.59" width="1.00" height="8.50" fill="#75c262"/>
<rect x="161.63" y="161.59" width="1.00" height="8.50" fill="#35838b"/>
<rect x="162.63" y="161.59" width="3.00" height="8.50" fill="#399489"/>
<rect x="166.64" y="161.59" width="1.00" height="8.50" fill="#389089"/>
<rect x="168.64" y="161.59" width="1.00" height="8.50" fill="#473884"/>
<rect x="170.64" y="161.59" width="1.00" height="8.50" fill="#68bb6b"/>
<rect x="172.65" y="161.59" width="1.00" height="8.50" fill="#473884"/>
<rect x="176.65" y="161.59" width="1.00" height="8.50" fill="#399489"/>
<rect x="179.66" y="161.59" width="3.00" height="8.50" fill="#9ece4e"/>
<rect x="183.66" y="161.59" width="1.00" height="8.50" fill="#3c608e"/>
<rect x="184.67" y="161.59" width="1.00" height="8.50" fill="#473884"/>
<rect x="185.67" y="161.59" width="1.00" height="8.50" fill="#3c608e"/>
<rect x="187.67" y="161.59" width="2.00" height="8.50" fill="#75c262"/>
<rect x="190.67" y="161.59" width="2.00" height="8.50" fill="#473884"/>
<rect x="192.68" y="161.59" width="1.00" height="8.50" fill="#3c608e"/>
<rect x="194.68" y="161.59" width="2.00" height="8.50" fill="#75c262"/>
<rect x="196.68" y="161.59" width="1.00" height="8.50" fill="#399489"/>
<rect x="197.69" y="161.59" width="1.00" height="8.50" fill="#35838b"/>
<rect x="200.69" y="161.59" width="1.00" height="8.50" fill="#424d8a"/>
<rect x="201.69" y="161.59" width="1.00" height="8.50" fill="#389089"/>
<rect x="203.69" y="161.59" width="2.00" height="8.50" fill="#75c262"/>
<rect x="207.70" y="161.59" width="1.00" height="8.50" fill="#9ece4e"/>
<rect x="209.70" y="161.59" width="1.00" height="8.50" fill="#3c608e"/>
<rect x="210.71" y="161.59" width="1.00" height="8.50" fill="#35838b"/>
<rect x="211.71" y="161.59" width="1.00" height="8.50" fill="#40a888"/>
<rect x="212.71" y="161.59" width="1.00" height="8.50" fill="#389089"/>
<rect x="213.71" y="161.59" width="3.00" height="8.50" fill="#399489"/>
<rect x="218.72" y="161.59" width="1.00" height="8.50" fill="#68bb6b"/>
<rect x="219.72" y="161.59" width="2.00" height="8.50" fill="#f0d43e"/>
<rect x="222.72" y="161.59" width="2.00" height="8.50" fill="#399489"/>
<rect x="227.73" y="161.59" width="1.00" height="8.50" fill="#40a888"/>
<rect x="229.74" y="161.59" width="1.00" height="8.50" fill="#3c608e"/>
<rect x="231.74" y="161.59" width="1.00" height="8.50" fill="#82c858"/>
<rect x="232.74" y="161.59" width="2.00" height="8.50" fill="#d0d740"/>
<rect x="236.75" y="161.59" width="1.00" height="8.50" fill="#f0d43e"/>
<rect x="239.75" y="161.59" width="1.00" height="8.50" fill="#68bb6b"/>
<rect x="243.76" y="161.59" width="1.00" height="8.50" fill="#75c262"/>
<rect x="244.76" y="161.59" width="1.00" height="8.50" fill="#35838b"/>
<rect x="246.76" y="161.59" width="1.00" height="8.50" fill="#40a888"/>
<rect x="247.76" y="161.59" width="1.00" height="8.50" fill="#389089"/>
<rect x="249.77" y="161.59" width="1.00" height="8.50" fill="#389089"/>
<rect x="250.77" y="161.59" width="1.00" height="8.50" fill="#82c858"/>
<rect x="253.77" y="161.59" width="1.00" height="8.50" fill="#82c858"/>
<rect x="255.78" y="161.59" width="2.00" height="8.50" fill="#424d8a"/>
<rect x="258.78" y="161.59" width="2.00" height="8.50" fill="#472876"/>
<rect x="262.79" y="161.59" width="1.00" height="8.50" fill="#75c262"/>
<rect x="264.79" y="161.59" width="1.00" height="8.50" fill="#389089"/>
<rect x="265.79" y="161.59" width="2.00" height="8.50" fill="#473884"/>
<rect x="268.80" y="161.59" width="2.00" height="8.50" fill="#d0d740"/>
<rect x="77.50" y="169.90" width="79.20" height="8.50" fill="#367a8c"/>
<rect x="156.70" y="169.90" width="115.10" height="8.50" fill="#38718e"/>
<rect x="109.55" y="169.90" width="2.00" height="8.50" fill="#40a888"/>
<rect x="117.56" y="169.90" width="2.00" height="8.50" fill="#f0d43e"/>
<rect x="148.61" y="169.90" width="1.00" height="8.50" fill="#f0d43e"/>
<rect x="156.62" y="169.90" width="2.00" height="8.50" fill="#38718e"/>
<rect x="158.63" y="169.90" width="1.00" height="8.50" fill="#f0d43e"/>
<rect x="163.63" y="169.90" width="2.00" height="8.50" fill="#82c858"/>
<rect x="173.65" y="169.90" width="2.00" height="8.50" fill="#c8d840"/>
<rect x="178.66" y="169.90" width="1.00" height="8.50" fill="#f0d43e"/>
<rect x="187.67" y="169.90" width="3.00" height="8.50" fill="#82c858"/>
<rect x="195.68" y="169.90" width="2.00" height="8.50" fill="#f0d43e"/>
<rect x="201.69" y="169.90" width="2.00" height="8.50" fill="#82c858"/>
<rect x="211.71" y="169.90" width="1.00" height="8.50" fill="#f0d43e"/>
<rect x="215.71" y="169.90" width="2.00" height="8.50" fill="#f0d43e"/>
<rect x="223.73" y="169.90" width="1.00" height="8.50" fill="#82c858"/>
<rect x="229.74" y="169.90" width="2.00" height="8.50" fill="#40a888"/>
<rect x="236.75" y="169.90" width="1.00" height="8.50" fill="#40a888"/>
<rect x="241.75" y="169.90" width="2.00" height="8.50" fill="#82c858"/>
<rect x="245.76" y="169.90" width="1.00" height="8.50" fill="#40a888"/>
<rect x="251.77" y="169.90" width="1.00" height="8.50" fill="#c8d840"/>
<rect x="261.78" y="169.90" width="2.00" height="8.50" fill="#f0d43e"/>
<rect x="268.80" y="169.90" width="2.00" height="8.50" fill="#82c858"/>
<rect x="77.50" y="178.21" width="79.20" height="8.50" fill="#3c638f"/>
<rect x="156.70" y="178.21" width="115.10" height="8.50" fill="#3c638f"/>
<rect x="85.51" y="178.21" width="2.00" height="8.50" fill="#f0d43e"/>
<rect x="104.54" y="178.21" width="1.00" height="8.50" fill="#f0d43e"/>
<rect x="124.57" y="178.21" width="1.00" height="8.50" fill="#82c858"/>
<rect x="138.59" y="178.21" width="3.00" height="8.50" fill="#f0d43e"/>
<rect x="149.61" y="178.21" width="2.00" height="8.50" fill="#40a888"/>
<rect x="160.63" y="178.21" width="1.00" height="8.50" fill="#c8d840"/>
<rect x="164.63" y="178.21" width="1.00" height="8.50" fill="#c8d840"/>
<rect x="168.64" y="178.21" width="1.00" height="8.50" fill="#f0d43e"/>
<rect x="172.65" y="178.21" width="2.00" height="8.50" fill="#c8d840"/>
<rect x="178.66" y="178.21" width="2.00" height="8.50" fill="#f0d43e"/>
<rect x="183.66" y="178.21" width="1.00" height="8.50" fill="#c8d840"/>
<rect x="188.67" y="178.21" width="1.00" height="8.50" fill="#82c858"/>
<rect x="194.68" y="178.21" width="2.00" height="8.50" fill="#f0d43e"/>
<rect x="199.69" y="178.21" width="2.00" height="8.50" fill="#82c858"/>
<rect x="205.70" y="178.21" width="1.00" height="8.50" fill="#82c858"/>
<rect x="209.70" y="178.21" width="2.00" height="8.50" fill="#f0d43e"/>
<rect x="216.71" y="178.21" width="1.00" height="8.50" fill="#f0d43e"/>
<rect x="220.72" y="178.21" width="2.00" height="8.50" fill="#82c858"/>
<rect x="226.73" y="178.21" width="1.00" height="8.50" fill="#40a888"/>
<rect x="234.74" y="178.21" width="1.00" height="8.50" fill="#f0d43e"/>
<rect x="236.75" y="178.21" width="2.00" height="8.50" fill="#f0d43e"/>
<rect x="243.76" y="178.21" width="3.00" height="8.50" fill="#c8d840"/>
<rect x="249.77" y="178.21" width="1.00" height="8.50" fill="#f0d43e"/>
<rect x="256.78" y="178.21" width="1.00" height="8.50" fill="#c8d840"/>
<rect x="263.79" y="178.21" width="1.00" height="8.50" fill="#82c858"/>
<rect x="266.79" y="178.21" width="2.00" height="8.50" fill="#40a888"/>
<rect x="77.50" y="186.51" width="79.20" height="8.50" fill="#3c638f"/>
<rect x="156.70" y="186.51" width="115.10" height="8.50" fill="#3c638f"/>
<rect x="102.54" y="186.51" width="3.00" height="8.50" fill="#f0d43e"/>
<rect x="119.56" y="186.51" width="3.00" height="8.50" fill="#40a888"/>
<rect x="127.58" y="186.51" width="1.00" height="8.50" fill="#c8d840"/>
<rect x="132.59" y="186.51" width="1.00" height="8.50" fill="#40a888"/>
<rect x="137.59" y="186.51" width="1.00" height="8.50" fill="#f0d43e"/>
<rect x="143.60" y="186.51" width="1.00" height="8.50" fill="#82c858"/>
<rect x="152.62" y="186.51" width="1.00" height="8.50" fill="#f0d43e"/>
<rect x="157.62" y="186.51" width="1.00" height="8.50" fill="#82c858"/>
<rect x="163.63" y="186.51" width="1.00" height="8.50" fill="#f0d43e"/>
<rect x="167.64" y="186.51" width="2.00" height="8.50" fill="#40a888"/>
<rect x="175.65" y="186.51" width="1.00" height="8.50" fill="#f0d43e"/>
<rect x="180.66" y="186.51" width="2.00" height="8.50" fill="#82c858"/>
<rect x="186.67" y="186.51" width="1.00" height="8.50" fill="#f0d43e"/>
<rect x="192.68" y="186.51" width="2.00" height="8.50" fill="#f0d43e"/>
<rect x="199.69" y="186.51" width="1.00" height="8.50" fill="#40a888"/>
<rect x="202.69" y="186.51" width="3.00" height="8.50" fill="#f0d43e"/>
<rect x="210.71" y="186.51" width="1.00" height="8.50" fill="#f0d43e"/>
<rect x="215.71" y="186.51" width="2.00" height="8.50" fill="#40a888"/>
<rect x="222.72" y="186.51" width="2.00" height="8.50" fill="#82c858"/>
<rect x="231.74" y="186.51" width="1.00" height="8.50" fill="#f0d43e"/>
<rect x="235.74" y="186.51" width="2.00" height="8.50" fill="#f0d43e"/>
<rect x="245.76" y="186.51" width="2.00" height="8.50" fill="#82c858"/>
<rect x="251.77" y="186.51" width="2.00" height="8.50" fill="#40a888"/>
<rect x="258.78" y="186.51" width="2.00" height="8.50" fill="#82c858"/>
<rect x="267.79" y="186.51" width="2.00" height="8.50" fill="#f0d43e"/>
<rect x="77.50" y="194.81" width="79.20" height="8.50" fill="#35808b"/>
<rect x="156.70" y="194.81" width="115.10" height="8.50" fill="#367d8c"/>
<rect x="129.95" y="194.81" width="1.50" height="8.50" fill="#f0d43e"/>
<rect x="165.05" y="194.81" width="1.50" height="8.50" fill="#f0d43e"/>
<rect x="170.15" y="194.81" width="1.50" height="8.50" fill="#82c858"/>
<rect x="193.95" y="194.81" width="1.50" height="8.50" fill="#c8d840"/>
<rect x="238.45" y="194.81" width="1.50" height="8.50" fill="#f0d43e"/>
<rect x="241.45" y="194.81" width="1.50" height="8.50" fill="#c8d840"/>
<rect x="247.95" y="194.81" width="1.50" height="8.50" fill="#82c858"/>
<rect x="267.40" y="194.81" width="2.00" height="8.50" fill="#f0d43e"/>
<rect x="77.50" y="203.12" width="79.20" height="8.50" fill="#396b8f"/>
<rect x="156.70" y="203.12" width="115.10" height="8.50" fill="#396b8f"/>
<rect x="89.52" y="203.12" width="2.00" height="8.50" fill="#82c858"/>
<rect x="115.56" y="203.12" width="1.00" height="8.50" fill="#40a888"/>
<rect x="128.58" y="203.12" width="1.00" height="8.50" fill="#f0d43e"/>
<rect x="137.59" y="203.12" width="1.00" height="8.50" fill="#82c858"/>
<rect x="147.61" y="203.12" width="2.00" height="8.50" fill="#f0d43e"/>
<rect x="158.63" y="203.12" width="1.00" height="8.50" fill="#f0d43e"/>
<rect x="163.63" y="203.12" width="1.00" height="8.50" fill="#c8d840"/>
<rect x="169.64" y="203.12" width="1.00" height="8.50" fill="#f0d43e"/>
<rect x="174.65" y="203.12" width="1.00" height="8.50" fill="#82c858"/>
<rect x="178.66" y="203.12" width="1.00" height="8.50" fill="#f0d43e"/>
<rect x="182.66" y="203.12" width="2.00" height="8.50" fill="#40a888"/>
<rect x="190.67" y="203.12" width="2.00" height="8.50" fill="#82c858"/>
<rect x="193.68" y="203.12" width="1.00" height="8.50" fill="#f0d43e"/>
<rect x="201.69" y="203.12" width="1.00" height="8.50" fill="#f0d43e"/>
<rect x="206.70" y="203.12" width="1.00" height="8.50" fill="#f0d43e"/>
<rect x="209.70" y="203.12" width="2.00" height="8.50" fill="#c8d840"/>
<rect x="215.71" y="203.12" width="1.00" height="8.50" fill="#c8d840"/>
<rect x="220.72" y="203.12" width="2.00" height="8.50" fill="#82c858"/>
<rect x="224.73" y="203.12" width="1.00" height="8.50" fill="#f0d43e"/>
<rect x="233.74" y="203.12" width="1.00" height="8.50" fill="#40a888"/>
<rect x="237.75" y="203.12" width="2.00" height="8.50" fill="#f0d43e"/>
<rect x="243.76" y="203.12" width="1.00" height="8.50" fill="#40a888"/>
<rect x="245.76" y="203.12" width="1.00" height="8.50" fill="#c8d840"/>
<rect x="253.77" y="203.12" width="1.00" height="8.50" fill="#f0d43e"/>
<rect x="259.78" y="203.12" width="1.00" height="8.50" fill="#40a888"/>
<rect x="260.78" y="203.12" width="1.00" height="8.50" fill="#f0d43e"/>
<rect x="265.79" y="203.12" width="2.00" height="8.50" fill="#82c858"/>
<rect x="77.50" y="211.43" width="79.20" height="8.50" fill="#3c608e"/>
<rect x="156.70" y="211.43" width="115.10" height="8.50" fill="#3c608e"/>
<rect x="83.51" y="211.43" width="1.00" height="8.50" fill="#40a888"/>
<rect x="86.51" y="211.43" width="1.00" height="8.50" fill="#c8d840"/>
<rect x="98.53" y="211.43" width="1.00" height="8.50" fill="#f0d43e"/>
<rect x="104.54" y="211.43" width="1.00" height="8.50" fill="#c8d840"/>
<rect x="110.55" y="211.43" width="1.00" height="8.50" fill="#c8d840"/>
<rect x="118.56" y="211.43" width="2.00" height="8.50" fill="#c8d840"/>
<rect x="134.59" y="211.43" width="2.00" height="8.50" fill="#40a888"/>
<rect x="144.60" y="211.43" width="3.00" height="8.50" fill="#f0d43e"/>
<rect x="159.63" y="211.43" width="1.00" height="8.50" fill="#40a888"/>
<rect x="163.63" y="211.43" width="2.00" height="8.50" fill="#82c858"/>
<rect x="169.64" y="211.43" width="1.00" height="8.50" fill="#40a888"/>
<rect x="176.65" y="211.43" width="2.00" height="8.50" fill="#82c858"/>
<rect x="179.66" y="211.43" width="1.00" height="8.50" fill="#f0d43e"/>
<rect x="185.67" y="211.43" width="2.00" height="8.50" fill="#82c858"/>
<rect x="192.68" y="211.43" width="2.00" height="8.50" fill="#f0d43e"/>
<rect x="197.69" y="211.43" width="2.00" height="8.50" fill="#82c858"/>
<rect x="203.69" y="211.43" width="3.00" height="8.50" fill="#f0d43e"/>
<rect x="209.70" y="211.43" width="1.00" height="8.50" fill="#82c858"/>
<rect x="213.71" y="211.43" width="2.00" height="8.50" fill="#c8d840"/>
<rect x="219.72" y="211.43" width="3.00" height="8.50" fill="#f0d43e"/>
<rect x="228.73" y="211.43" width="1.00" height="8.50" fill="#82c858"/>
<rect x="233.74" y="211.43" width="2.00" height="8.50" fill="#f0d43e"/>
<rect x="240.75" y="211.43" width="1.00" height="8.50" fill="#82c858"/>
<rect x="245.76" y="211.43" width="1.00" height="8.50" fill="#40a888"/>
<rect x="252.77" y="211.43" width="2.00" height="8.50" fill="#f0d43e"/>
<rect x="261.78" y="211.43" width="2.00" height="8.50" fill="#c8d840"/>
<rect x="264.79" y="211.43" width="3.00" height="8.50" fill="#40a888"/>
<rect x="77.50" y="219.73" width="79.20" height="8.50" fill="#3c608e"/>
<rect x="156.70" y="219.73" width="115.10" height="8.50" fill="#3c608e"/>
<rect x="84.51" y="219.73" width="1.00" height="8.50" fill="#f0d43e"/>
<rect x="91.52" y="219.73" width="1.00" height="8.50" fill="#c8d840"/>
<rect x="100.54" y="219.73" width="1.00" height="8.50" fill="#82c858"/>
<rect x="112.55" y="219.73" width="1.00" height="8.50" fill="#f0d43e"/>
<rect x="121.57" y="219.73" width="1.00" height="8.50" fill="#82c858"/>
<rect x="128.58" y="219.73" width="2.00" height="8.50" fill="#f0d43e"/>
<rect x="134.59" y="219.73" width="1.00" height="8.50" fill="#c8d840"/>
<rect x="141.60" y="219.73" width="3.00" height="8.50" fill="#f0d43e"/>
<rect x="150.61" y="219.73" width="1.00" height="8.50" fill="#f0d43e"/>
<rect x="158.63" y="219.73" width="2.00" height="8.50" fill="#f0d43e"/>
<rect x="161.63" y="219.73" width="2.00" height="8.50" fill="#82c858"/>
<rect x="167.64" y="219.73" width="1.00" height="8.50" fill="#c8d840"/>
<rect x="171.65" y="219.73" width="1.00" height="8.50" fill="#f0d43e"/>
<rect x="174.65" y="219.73" width="1.00" height="8.50" fill="#f0d43e"/>
<rect x="178.66" y="219.73" width="1.00" height="8.50" fill="#c8d840"/>
<rect x="184.67" y="219.73" width="1.00" height="8.50" fill="#40a888"/>
<rect x="188.67" y="219.73" width="1.00" height="8.50" fill="#f0d43e"/>
<rect x="191.68" y="219.73" width="1.00" height="8.50" fill="#40a888"/>
<rect x="198.69" y="219.73" width="1.00" height="8.50" fill="#40a888"/>
<rect x="201.69" y="219.73" width="2.00" height="8.50" fill="#f0d43e"/>
<rect x="205.70" y="219.73" width="2.00" height="8.50" fill="#82c858"/>
<rect x="210.71" y="219.73" width="1.00" height="8.50" fill="#f0d43e"/>
<rect x="213.71" y="219.73" width="1.00" height="8.50" fill="#82c858"/>
<rect x="219.72" y="219.73" width="2.00" height="8.50" fill="#f0d43e"/>
<rect x="225.73" y="219.73" width="3.00" height="8.50" fill="#f0d43e"/>
<rect x="229.74" y="219.73" width="1.00" height="8.50" fill="#40a888"/>
<rect x="236.75" y="219.73" width="1.00" height="8.50" fill="#82c858"/>
<rect x="241.75" y="219.73" width="1.00" height="8.50" fill="#f0d43e"/>
<rect x="245.76" y="219.73" width="1.00" height="8.50" fill="#f0d43e"/>
<rect x="250.77" y="219.73" width="1.00" height="8.50" fill="#82c858"/>
<rect x="258.78" y="219.73" width="1.00" height="8.50" fill="#c8d840"/>
<rect x="260.78" y="219.73" width="3.00" height="8.50" fill="#f0d43e"/>
<rect x="268.80" y="219.73" width="2.00" height="8.50" fill="#82c858"/>
<rect x="77.50" y="228.03" width="79.20" height="8.50" fill="#38748e"/>
<rect x="156.70" y="228.03" width="115.10" height="8.50" fill="#38748e"/>
<rect x="102.95" y="228.03" width="1.50" height="8.50" fill="#f0d43e"/>
<rect x="114.65" y="228.03" width="1.50" height="8.50" fill="#82c858"/>
<rect x="136.55" y="228.03" width="1.50" height="8.50" fill="#f0d43e"/>
<rect x="159.25" y="228.03" width="1.50" height="8.50" fill="#82c858"/>
<rect x="182.25" y="228.03" width="1.50" height="8.50" fill="#f0d43e"/>
<rect x="202.75" y="228.03" width="1.50" height="8.50" fill="#c8d840"/>
<rect x="213.65" y="228.03" width="1.50" height="8.50" fill="#f0d43e"/>
<rect x="242.15" y="228.03" width="1.50" height="8.50" fill="#f0d43e"/>
<rect x="245.05" y="228.03" width="1.50" height="8.50" fill="#c8d840"/>
<rect x="248.75" y="228.03" width="1.50" height="8.50" fill="#82c858"/>
<rect x="254.55" y="228.03" width="1.50" height="8.50" fill="#82c858"/>
<rect x="258.95" y="228.03" width="1.50" height="8.50" fill="#f0d43e"/>
<rect x="266.25" y="228.03" width="1.50" height="8.50" fill="#c8d840"/>
<rect x="77.50" y="236.34" width="79.20" height="8.50" fill="#434a89"/>
<rect x="156.70" y="236.34" width="115.10" height="8.50" fill="#396b8f"/>
<rect x="77.50" y="236.34" width="1.00" height="8.50" fill="#3a6890"/>
<rect x="81.51" y="236.34" width="3.00" height="8.50" fill="#f0d43e"/>
<rect x="86.51" y="236.34" width="2.00" height="8.50" fill="#f0d43e"/>
<rect x="90.52" y="236.34" width="2.00" height="8.50" fill="#68bb6b"/>
<rect x="95.53" y="236.34" width="1.00" height="8.50" fill="#90cb53"/>
<rect x="99.53" y="236.34" width="1.00" height="8.50" fill="#68bb6b"/>
<rect x="103.54" y="236.34" width="1.00" height="8.50" fill="#367a8c"/>
<rect x="105.54" y="236.34" width="3.00" height="8.50" fill="#68bb6b"/>
<rect x="111.55" y="236.34" width="1.00" height="8.50" fill="#90cb53"/>
<rect x="114.56" y="236.34" width="2.00" height="8.50" fill="#3ea188"/>
<rect x="117.56" y="236.34" width="1.00" height="8.50" fill="#367a8c"/>
<rect x="122.57" y="236.34" width="1.00" height="8.50" fill="#f0d43e"/>
<rect x="123.57" y="236.34" width="1.00" height="8.50" fill="#3a6890"/>
<rect x="127.58" y="236.34" width="2.00" height="8.50" fill="#368d8a"/>
<rect x="130.58" y="236.34" width="1.00" height="8.50" fill="#3ea188"/>
<rect x="135.59" y="236.34" width="1.00" height="8.50" fill="#3a6890"/>
<rect x="136.59" y="236.34" width="1.00" height="8.50" fill="#f0d43e"/>
<rect x="141.60" y="236.34" width="1.00" height="8.50" fill="#90cb53"/>
<rect x="143.60" y="236.34" width="3.00" height="8.50" fill="#68bb6b"/>
<rect x="146.61" y="236.34" width="2.00" height="8.50" fill="#367a8c"/>
<rect x="150.61" y="236.34" width="2.00" height="8.50" fill="#90cb53"/>
<rect x="154.62" y="236.34" width="1.00" height="8.50" fill="#3ea188"/>
<rect x="156.62" y="236.34" width="2.00" height="8.50" fill="#d0d740"/>
<rect x="160.63" y="236.34" width="1.00" height="8.50" fill="#40a888"/>
<rect x="161.63" y="236.34" width="1.00" height="8.50" fill="#473884"/>
<rect x="164.63" y="236.34" width="2.00" height="8.50" fill="#9ece4e"/>
<rect x="167.64" y="236.34" width="1.00" height="8.50" fill="#3b9a89"/>
<rect x="169.64" y="236.34" width="1.00" height="8.50" fill="#34868a"/>
<rect x="172.65" y="236.34" width="1.00" height="8.50" fill="#40a888"/>
<rect x="175.65" y="236.34" width="1.00" height="8.50" fill="#34868a"/>
<rect x="178.66" y="236.34" width="2.00" height="8.50" fill="#3b9a89"/>
<rect x="180.66" y="236.34" width="2.00" height="8.50" fill="#68bb6b"/>
<rect x="183.66" y="236.34" width="2.00" height="8.50" fill="#f0d43e"/>
<rect x="187.67" y="236.34" width="1.00" height="8.50" fill="#34868a"/>
<rect x="189.67" y="236.34" width="1.00" height="8.50" fill="#9ece4e"/>
<rect x="192.68" y="236.34" width="1.00" height="8.50" fill="#82c858"/>
<rect x="194.68" y="236.34" width="2.00" height="8.50" fill="#34868a"/>
<rect x="197.69" y="236.34" width="2.00" height="8.50" fill="#68bb6b"/>
<rect x="199.69" y="236.34" width="1.00" height="8.50" fill="#3b9a89"/>
<rect x="202.69" y="236.34" width="1.00" height="8.50" fill="#34868a"/>
<rect x="205.70" y="236.34" width="1.00" height="8.50" fill="#68bb6b"/>
<rect x="208.70" y="236.34" width="1.00" height="8.50" fill="#34868a"/>
<rect x="211.71" y="236.34" width="1.00" height="8.50" fill="#40a888"/>
<rect x="214.71" y="236.34" width="1.00" height="8.50" fill="#40a888"/>
<rect x="217.72" y="236.34" width="3.00" height="8.50" fill="#9ece4e"/>
<rect x="222.72" y="236.34" width="2.00" height="8.50" fill="#9ece4e"/>
<rect x="225.73" y="236.34" width="2.00" height="8.50" fill="#40a888"/>
<rect x="228.73" y="236.34" width="3.00" height="8.50" fill="#68bb6b"/>
<rect x="233.74" y="236.34" width="2.00" height="8.50" fill="#f0d43e"/>
<rect x="238.75" y="236.34" width="2.00" height="8.50" fill="#473884"/>
<rect x="240.75" y="236.34" width="3.00" height="8.50" fill="#40a888"/>
<rect x="244.76" y="236.34" width="2.00" height="8.50" fill="#34868a"/>
<rect x="250.77" y="236.34" width="1.00" height="8.50" fill="#40a888"/>
<rect x="253.77" y="236.34" width="1.00" height="8.50" fill="#f0d43e"/>
<rect x="257.78" y="236.34" width="1.00" height="8.50" fill="#68bb6b"/>
<rect x="259.78" y="236.34" width="1.00" height="8.50" fill="#34868a"/>
<rect x="264.79" y="236.34" width="2.00" height="8.50" fill="#d0d740"/>
<rect x="267.79" y="236.34" width="3.00" height="8.50" fill="#d0d740"/>
<rect x="77.50" y="244.65" width="79.20" height="8.50" fill="#3d5d8e"/>
<rect x="156.70" y="244.65" width="115.10" height="8.50" fill="#3b658f"/>
<rect x="79.50" y="244.65" width="1.00" height="8.50" fill="#4dae7e"/>
<rect x="84.51" y="244.65" width="2.00" height="8.50" fill="#82c858"/>
<rect x="88.52" y="244.65" width="2.00" height="8.50" fill="#f0d43e"/>
<rect x="94.53" y="244.65" width="1.00" height="8.50" fill="#82c858"/>
<rect x="99.53" y="244.65" width="1.00" height="8.50" fill="#c8d840"/>
<rect x="103.54" y="244.65" width="1.00" height="8.50" fill="#f0d43e"/>
<rect x="107.55" y="244.65" width="1.00" height="8.50" fill="#82c858"/>
<rect x="115.56" y="244.65" width="1.00" height="8.50" fill="#3b9a89"/>
<rect x="118.56" y="244.65" width="2.00" height="8.50" fill="#4dae7e"/>
<rect x="123.57" y="244.65" width="2.00" height="8.50" fill="#c8d840"/>
<rect x="129.58" y="244.65" width="2.00" height="8.50" fill="#82c858"/>
<rect x="136.59" y="244.65" width="1.00" height="8.50" fill="#3b9a89"/>
<rect x="139.60" y="244.65" width="2.00" height="8.50" fill="#f0d43e"/>
<rect x="146.61" y="244.65" width="1.00" height="8.50" fill="#82c858"/>
<rect x="151.61" y="244.65" width="1.00" height="8.50" fill="#f0d43e"/>
<rect x="156.62" y="244.65" width="1.00" height="8.50" fill="#3b658f"/>
<rect x="157.62" y="244.65" width="1.00" height="8.50" fill="#f0d43e"/>
<rect x="162.63" y="244.65" width="1.00" height="8.50" fill="#4dae7e"/>
<rect x="164.63" y="244.65" width="1.00" height="8.50" fill="#3b9a89"/>
<rect x="168.64" y="244.65" width="2.00" height="8.50" fill="#f0d43e"/>
<rect x="173.65" y="244.65" width="2.00" height="8.50" fill="#82c858"/>
<rect x="176.65" y="244.65" width="2.00" height="8.50" fill="#c8d840"/>
<rect x="180.66" y="244.65" width="1.00" height="8.50" fill="#4dae7e"/>
<rect x="184.67" y="244.65" width="1.00" height="8.50" fill="#f0d43e"/>
<rect x="188.67" y="244.65" width="3.00" height="8.50" fill="#c8d840"/>
<rect x="194.68" y="244.65" width="2.00" height="8.50" fill="#4dae7e"/>
<rect x="197.69" y="244.65" width="2.00" height="8.50" fill="#82c858"/>
<rect x="201.69" y="244.65" width="2.00" height="8.50" fill="#3b9a89"/>
<rect x="205.70" y="244.65" width="2.00" height="8.50" fill="#f0d43e"/>
<rect x="210.71" y="244.65" width="1.00" height="8.50" fill="#82c858"/>
<rect x="213.71" y="244.65" width="2.00" height="8.50" fill="#c8d840"/>
<rect x="218.72" y="244.65" width="3.00" height="8.50" fill="#3b9a89"/>
<rect x="224.73" y="244.65" width="2.00" height="8.50" fill="#f0d43e"/>
<rect x="228.73" y="244.65" width="3.00" height="8.50" fill="#3b9a89"/>
<rect x="234.74" y="244.65" width="1.00" height="8.50" fill="#82c858"/>
<rect x="238.75" y="244.65" width="1.00" height="8.50" fill="#f0d43e"/>
<rect x="243.76" y="244.65" width="3.00" height="8.50" fill="#4dae7e"/>
<rect x="249.77" y="244.65" width="2.00" height="8.50" fill="#82c858"/>
<rect x="255.78" y="244.65" width="1.00" height="8.50" fill="#c8d840"/>
<rect x="257.78" y="244.65" width="1.00" height="8.50" fill="#f0d43e"/>
<rect x="262.79" y="244.65" width="2.00" height="8.50" fill="#f0d43e"/>
<rect x="267.79" y="244.65" width="3.00" height="8.50" fill="#c8d840"/>
<rect x="77.50" y="252.95" width="79.20" height="8.50" fill="#3b658f"/>
<rect x="156.70" y="252.95" width="115.10" height="8.50" fill="#3a6890"/>
<rect x="87.52" y="252.95" width="1.00" height="8.50" fill="#f0d43e"/>
<rect x="96.53" y="252.95" width="1.00" height="8.50" fill="#c8d840"/>
<rect x="108.55" y="252.95" width="1.00" height="8.50" fill="#f0d43e"/>
<rect x="119.56" y="252.95" width="1.00" height="8.50" fill="#c8d840"/>
<rect x="137.59" y="252.95" width="2.00" height="8.50" fill="#f0d43e"/>
<rect x="152.62" y="252.95" width="1.00" height="8.50" fill="#f0d43e"/>
<rect x="156.62" y="252.95" width="2.00" height="8.50" fill="#3a6890"/>
<rect x="158.63" y="252.95" width="1.00" height="8.50" fill="#f0d43e"/>
<rect x="161.63" y="252.95" width="2.00" height="8.50" fill="#40a888"/>
<rect x="164.63" y="252.95" width="1.00" height="8.50" fill="#c8d840"/>
<rect x="169.64" y="252.95" width="2.00" height="8.50" fill="#82c858"/>
<rect x="174.65" y="252.95" width="1.00" height="8.50" fill="#f0d43e"/>
<rect x="180.66" y="252.95" width="2.00" height="8.50" fill="#82c858"/>
<rect x="182.66" y="252.95" width="2.00" height="8.50" fill="#f0d43e"/>
<rect x="186.67" y="252.95" width="1.00" height="8.50" fill="#82c858"/>
<rect x="193.68" y="252.95" width="1.00" height="8.50" fill="#f0d43e"/>
<rect x="195.68" y="252.95" width="1.00" height="8.50" fill="#40a888"/>
<rect x="201.69" y="252.95" width="2.00" height="8.50" fill="#82c858"/>
<rect x="204.70" y="252.95" width="2.00" height="8.50" fill="#f0d43e"/>
<rect x="210.71" y="252.95" width="1.00" height="8.50" fill="#c8d840"/>
<rect x="213.71" y="252.95" width="1.00" height="8.50" fill="#f0d43e"/>
<rect x="220.72" y="252.95" width="2.00" height="8.50" fill="#f0d43e"/>
<rect x="225.73" y="252.95" width="1.00" height="8.50" fill="#82c858"/>
<rect x="230.74" y="252.95" width="1.00" height="8.50" fill="#f0d43e"/>
<rect x="236.75" y="252.95" width="1.00" height="8.50" fill="#82c858"/>
<rect x="238.75" y="252.95" width="2.00" height="8.50" fill="#40a888"/>
<rect x="244.76" y="252.95" width="2.00" height="8.50" fill="#f0d43e"/>
<rect x="247.76" y="252.95" width="3.00" height="8.50" fill="#40a888"/>
<rect x="253.77" y="252.95" width="1.00" height="8.50" fill="#82c858"/>
<rect x="259.78" y="252.95" width="2.00" height="8.50" fill="#82c858"/>
<rect x="263.79" y="252.95" width="2.00" height="8.50" fill="#40a888"/>
<rect x="269.80" y="252.95" width="1.00" height="8.50" fill="#82c858"/>
<rect x="77.50" y="261.25" width="79.20" height="8.50" fill="#444688"/>
<rect x="156.70" y="261.25" width="115.10" height="8.50" fill="#35808b"/>
<rect x="78.50" y="261.25" width="2.00" height="8.50" fill="#3a6890"/>
<rect x="82.51" y="261.25" width="2.00" height="8.50" fill="#3ea188"/>
<rect x="85.51" y="261.25" width="1.00" height="8.50" fill="#368d8a"/>
<rect x="90.52" y="261.25" width="2.00" height="8.50" fill="#3ea188"/>
<rect x="94.53" y="261.25" width="1.00" height="8.50" fill="#3a6890"/>
<rect x="98.53" y="261.25" width="2.00" height="8.50" fill="#f0d43e"/>
<rect x="101.54" y="261.25" width="2.00" height="8.50" fill="#367a8c"/>
<rect x="105.54" y="261.25" width="1.00" height="8.50" fill="#f0d43e"/>
<rect x="111.55" y="261.25" width="1.00" height="8.50" fill="#68bb6b"/>
<rect x="113.56" y="261.25" width="2.00" height="8.50" fill="#3ea188"/>
<rect x="118.56" y="261.25" width="1.00" height="8.50" fill="#367a8c"/>
<rect x="121.57" y="261.25" width="1.00" height="8.50" fill="#3a6890"/>
<rect x="125.57" y="261.25" width="2.00" height="8.50" fill="#368d8a"/>
<rect x="128.58" y="261.25" width="1.00" height="8.50" fill="#3a6890"/>
<rect x="131.58" y="261.25" width="2.00" height="8.50" fill="#367a8c"/>
<rect x="135.59" y="261.25" width="2.00" height="8.50" fill="#3a6890"/>
<rect x="138.59" y="261.25" width="1.00" height="8.50" fill="#90cb53"/>
<rect x="142.60" y="261.25" width="3.00" height="8.50" fill="#368d8a"/>
<rect x="145.61" y="261.25" width="2.00" height="8.50" fill="#90cb53"/>
<rect x="150.61" y="261.25" width="1.00" height="8.50" fill="#f0d43e"/>
<rect x="154.62" y="261.25" width="1.00" height="8.50" fill="#367a8c"/>
<rect x="156.62" y="261.25" width="2.00" height="8.50" fill="#82c858"/>
<rect x="159.63" y="261.25" width="1.00" height="8.50" fill="#68bb6b"/>
<rect x="162.63" y="261.25" width="1.00" height="8.50" fill="#34868a"/>
<rect x="164.63" y="261.25" width="1.00" height="8.50" fill="#40a888"/>
<rect x="168.64" y="261.25" width="1.00" height="8.50" fill="#34868a"/>
<rect x="170.64" y="261.25" width="2.00" height="8.50" fill="#68bb6b"/>
<rect x="173.65" y="261.25" width="1.00" height="8.50" fill="#68bb6b"/>
<rect x="176.65" y="261.25" width="2.00" height="8.50" fill="#d0d740"/>
<rect x="179.66" y="261.25" width="2.00" height="8.50" fill="#3b9a89"/>
<rect x="181.66" y="261.25" width="2.00" height="8.50" fill="#34868a"/>
<rect x="184.67" y="261.25" width="1.00" height="8.50" fill="#68bb6b"/>
<rect x="187.67" y="261.25" width="1.00" height="8.50" fill="#40a888"/>
<rect x="190.67" y="261.25" width="3.00" height="8.50" fill="#34868a"/>
<rect x="194.68" y="261.25" width="1.00" height="8.50" fill="#34868a"/>
<rect x="195.68" y="261.25" width="3.00" height="8.50" fill="#f0d43e"/>
<rect x="198.69" y="261.25" width="2.00" height="8.50" fill="#473884"/>
<rect x="202.69" y="261.25" width="1.00" height="8.50" fill="#40a888"/>
<rect x="204.70" y="261.25" width="2.00" height="8.50" fill="#82c858"/>
<rect x="208.70" y="261.25" width="1.00" height="8.50" fill="#68bb6b"/>
<rect x="211.71" y="261.25" width="1.00" height="8.50" fill="#d0d740"/>
<rect x="213.71" y="261.25" width="2.00" height="8.50" fill="#82c858"/>
<rect x="216.71" y="261.25" width="1.00" height="8.50" fill="#34868a"/>
<rect x="218.72" y="261.25" width="1.00" height="8.50" fill="#f0d43e"/>
<rect x="222.72" y="261.25" width="1.00" height="8.50" fill="#9ece4e"/>
<rect x="224.73" y="261.25" width="1.00" height="8.50" fill="#d0d740"/>
<rect x="226.73" y="261.25" width="3.00" height="8.50" fill="#82c858"/>
<rect x="230.74" y="261.25" width="1.00" height="8.50" fill="#9ece4e"/>
<rect x="231.74" y="261.25" width="2.00" height="8.50" fill="#40a888"/>
<rect x="235.74" y="261.25" width="1.00" height="8.50" fill="#d0d740"/>
<rect x="237.75" y="261.25" width="2.00" height="8.50" fill="#82c858"/>
<rect x="240.75" y="261.25" width="1.00" height="8.50" fill="#9ece4e"/>
<rect x="242.76" y="261.25" width="2.00" height="8.50" fill="#82c858"/>
<rect x="245.76" y="261.25" width="1.00" height="8.50" fill="#40a888"/>
<rect x="247.76" y="261.25" width="1.00" height="8.50" fill="#82c858"/>
<rect x="250.77" y="261.25" width="1.00" height="8.50" fill="#473884"/>
<rect x="252.77" y="261.25" width="1.00" height="8.50" fill="#40a888"/>
<rect x="255.78" y="261.25" width="2.00" height="8.50" fill="#3b9a89"/>
<rect x="259.78" y="261.25" width="1.00" height="8.50" fill="#f0d43e"/>
<rect x="260.78" y="261.25" width="2.00" height="8.50" fill="#82c858"/>
<rect x="263.79" y="261.25" width="2.00" height="8.50" fill="#3b9a89"/>
<rect x="265.79" y="261.25" width="2.00" height="8.50" fill="#f0d43e"/>
<rect x="269.80" y="261.25" width="1.00" height="8.50" fill="#d0d740"/>
<rect x="77.50" y="269.56" width="79.20" height="8.50" fill="#3c608e"/>
<rect x="156.70" y="269.56" width="115.10" height="8.50" fill="#3a6890"/>
<rect x="84.51" y="269.56" width="3.00" height="8.50" fill="#f0d43e"/>
<rect x="109.55" y="269.56" width="1.00" height="8.50" fill="#82c858"/>
<rect x="142.60" y="269.56" width="3.00" height="8.50" fill="#f0d43e"/>
<rect x="156.62" y="269.56" width="1.00" height="8.50" fill="#3a6890"/>
<rect x="157.62" y="269.56" width="2.00" height="8.50" fill="#40a888"/>
<rect x="161.63" y="269.56" width="1.00" height="8.50" fill="#f0d43e"/>
<rect x="168.64" y="269.56" width="1.00" height="8.50" fill="#40a888"/>
<rect x="173.65" y="269.56" width="2.00" height="8.50" fill="#82c858"/>
<rect x="180.66" y="269.56" width="1.00" height="8.50" fill="#40a888"/>
<rect x="184.67" y="269.56" width="2.00" height="8.50" fill="#f0d43e"/>
<rect x="188.67" y="269.56" width="2.00" height="8.50" fill="#f0d43e"/>
<rect x="192.68" y="269.56" width="2.00" height="8.50" fill="#82c858"/>
<rect x="198.69" y="269.56" width="2.00" height="8.50" fill="#f0d43e"/>
<rect x="204.70" y="269.56" width="2.00" height="8.50" fill="#82c858"/>
<rect x="209.70" y="269.56" width="2.00" height="8.50" fill="#f0d43e"/>
<rect x="214.71" y="269.56" width="2.00" height="8.50" fill="#c8d840"/>
<rect x="218.72" y="269.56" width="2.00" height="8.50" fill="#40a888"/>
<rect x="222.72" y="269.56" width="1.00" height="8.50" fill="#c8d840"/>
<rect x="228.73" y="269.56" width="3.00" height="8.50" fill="#82c858"/>
<rect x="234.74" y="269.56" width="1.00" height="8.50" fill="#c8d840"/>
<rect x="237.75" y="269.56" width="1.00" height="8.50" fill="#82c858"/>
<rect x="242.76" y="269.56" width="1.00" height="8.50" fill="#f0d43e"/>
<rect x="246.76" y="269.56" width="1.00" height="8.50" fill="#f0d43e"/>
<rect x="252.77" y="269.56" width="2.00" height="8.50" fill="#82c858"/>
<rect x="257.78" y="269.56" width="1.00" height="8.50" fill="#40a888"/>
<rect x="263.79" y="269.56" width="2.00" height="8.50" fill="#f0d43e"/>
<rect x="266.79" y="269.56" width="3.00" height="8.50" fill="#40a888"/>
<rect x="77.50" y="277.87" width="79.20" height="8.50" fill="#3c608e"/>
<rect x="156.70" y="277.87" width="115.10" height="8.50" fill="#3a6890"/>
<rect x="84.51" y="277.87" width="2.00" height="8.50" fill="#f0d43e"/>
<rect x="98.53" y="277.87" width="1.00" height="8.50" fill="#40a888"/>
<rect x="130.58" y="277.87" width="2.00" height="8.50" fill="#82c858"/>
<rect x="148.61" y="277.87" width="1.00" height="8.50" fill="#f0d43e"/>
<rect x="156.62" y="277.87" width="3.00" height="8.50" fill="#3a6890"/>
<rect x="159.63" y="277.87" width="3.00" height="8.50" fill="#f0d43e"/>
<rect x="167.64" y="277.87" width="2.00" height="8.50" fill="#82c858"/>
<rect x="173.65" y="277.87" width="1.00" height="8.50" fill="#f0d43e"/>
<rect x="176.65" y="277.87" width="1.00" height="8.50" fill="#82c858"/>
<rect x="182.66" y="277.87" width="1.00" height="8.50" fill="#40a888"/>
<rect x="187.67" y="277.87" width="1.00" height="8.50" fill="#c8d840"/>
<rect x="191.68" y="277.87" width="1.00" height="8.50" fill="#82c858"/>
<rect x="194.68" y="277.87" width="2.00" height="8.50" fill="#40a888"/>
<rect x="200.69" y="277.87" width="2.00" height="8.50" fill="#f0d43e"/>
<rect x="204.70" y="277.87" width="3.00" height="8.50" fill="#82c858"/>
<rect x="208.70" y="277.87" width="1.00" height="8.50" fill="#82c858"/>
<rect x="215.71" y="277.87" width="1.00" height="8.50" fill="#40a888"/>
<rect x="218.72" y="277.87" width="1.00" height="8.50" fill="#82c858"/>
<rect x="224.73" y="277.87" width="2.00" height="8.50" fill="#40a888"/>
<rect x="231.74" y="277.87" width="1.00" height="8.50" fill="#82c858"/>
<rect x="232.74" y="277.87" width="3.00" height="8.50" fill="#f0d43e"/>
<rect x="238.75" y="277.87" width="2.00" height="8.50" fill="#f0d43e"/>
<rect x="242.76" y="277.87" width="1.00" height="8.50" fill="#c8d840"/>
<rect x="246.76" y="277.87" width="1.00" height="8.50" fill="#f0d43e"/>
<rect x="252.77" y="277.87" width="1.00" height="8.50" fill="#82c858"/>
<rect x="257.78" y="277.87" width="2.00" height="8.50" fill="#c8d840"/>
<rect x="264.79" y="277.87" width="1.00" height="8.50" fill="#82c858"/>
<rect x="267.79" y="277.87" width="3.00" height="8.50" fill="#40a888"/>
<rect x="77.50" y="286.17" width="79.20" height="8.50" fill="#3c608e"/>
<rect x="156.70" y="286.17" width="115.10" height="8.50" fill="#3a6890"/>
<rect x="114.56" y="286.17" width="2.00" height="8.50" fill="#f0d43e"/>
<rect x="135.59" y="286.17" width="2.00" height="8.50" fill="#40a888"/>
<rect x="156.62" y="286.17" width="1.00" height="8.50" fill="#3a6890"/>
<rect x="157.62" y="286.17" width="2.00" height="8.50" fill="#f0d43e"/>
<rect x="166.64" y="286.17" width="1.00" height="8.50" fill="#c8d840"/>
<rect x="172.65" y="286.17" width="2.00" height="8.50" fill="#f0d43e"/>
<rect x="178.66" y="286.17" width="2.00" height="8.50" fill="#40a888"/>
<rect x="181.66" y="286.17" width="3.00" height="8.50" fill="#f0d43e"/>
<rect x="188.67" y="286.17" width="2.00" height="8.50" fill="#82c858"/>
<rect x="194.68" y="286.17" width="1.00" height="8.50" fill="#f0d43e"/>
<rect x="204.70" y="286.17" width="1.00" height="8.50" fill="#40a888"/>
<rect x="207.70" y="286.17" width="2.00" height="8.50" fill="#82c858"/>
<rect x="214.71" y="286.17" width="1.00" height="8.50" fill="#f0d43e"/>
<rect x="222.72" y="286.17" width="2.00" height="8.50" fill="#c8d840"/>
<rect x="227.73" y="286.17" width="2.00" height="8.50" fill="#40a888"/>
<rect x="236.75" y="286.17" width="2.00" height="8.50" fill="#f0d43e"/>
<rect x="241.75" y="286.17" width="2.00" height="8.50" fill="#c8d840"/>
<rect x="245.76" y="286.17" width="2.00" height="8.50" fill="#f0d43e"/>
<rect x="256.78" y="286.17" width="1.00" height="8.50" fill="#c8d840"/>
<rect x="258.78" y="286.17" width="1.00" height="8.50" fill="#f0d43e"/>
<rect x="267.79" y="286.17" width="3.00" height="8.50" fill="#40a888"/>
<rect x="77.50" y="294.48" width="79.20" height="8.50" fill="#3c608e"/>
<rect x="156.70" y="294.48" width="115.10" height="8.50" fill="#3a6890"/>
<rect x="79.50" y="294.48" width="2.00" height="8.50" fill="#82c858"/>
<rect x="97.53" y="294.48" width="1.00" height="8.50" fill="#f0d43e"/>
<rect x="131.58" y="294.48" width="3.00" height="8.50" fill="#f0d43e"/>
<rect x="156.62" y="294.48" width="1.00" height="8.50" fill="#3a6890"/>
<rect x="157.62" y="294.48" width="2.00" height="8.50" fill="#82c858"/>
<rect x="162.63" y="294.48" width="2.00" height="8.50" fill="#f0d43e"/>
<rect x="166.64" y="294.48" width="1.00" height="8.50" fill="#82c858"/>
<rect x="172.65" y="294.48" width="1.00" height="8.50" fill="#82c858"/>
<rect x="177.65" y="294.48" width="2.00" height="8.50" fill="#f0d43e"/>
<rect x="181.66" y="294.48" width="2.00" height="8.50" fill="#c8d840"/>
<rect x="185.67" y="294.48" width="1.00" height="8.50" fill="#82c858"/>
<rect x="190.67" y="294.48" width="1.00" height="8.50" fill="#f0d43e"/>
<rect x="195.68" y="294.48" width="2.00" height="8.50" fill="#82c858"/>
<rect x="200.69" y="294.48" width="1.00" height="8.50" fill="#f0d43e"/>
<rect x="206.70" y="294.48" width="1.00" height="8.50" fill="#f0d43e"/>
<rect x="211.71" y="294.48" width="1.00" height="8.50" fill="#f0d43e"/>
<rect x="217.72" y="294.48" width="1.00" height="8.50" fill="#82c858"/>
<rect x="221.72" y="294.48" width="1.00" height="8.50" fill="#f0d43e"/>
<rect x="226.73" y="294.48" width="3.00" height="8.50" fill="#82c858"/>
<rect x="233.74" y="294.48" width="3.00" height="8.50" fill="#f0d43e"/>
<rect x="240.75" y="294.48" width="1.00" height="8.50" fill="#f0d43e"/>
<rect x="244.76" y="294.48" width="1.00" height="8.50" fill="#40a888"/>
<rect x="250.77" y="294.48" width="1.00" height="8.50" fill="#c8d840"/>
<rect x="255.78" y="294.48" width="1.00" height="8.50" fill="#f0d43e"/>
<rect x="261.78" y="294.48" width="1.00" height="8.50" fill="#82c858"/>
<rect x="265.79" y="294.48" width="3.00" height="8.50" fill="#c8d840"/>
<rect x="77.50" y="302.78" width="79.20" height="8.50" fill="#3c608e"/>
<rect x="156.70" y="302.78" width="115.10" height="8.50" fill="#3a6890"/>
<rect x="81.51" y="302.78" width="1.00" height="8.50" fill="#f0d43e"/>
<rect x="101.54" y="302.78" width="2.00" height="8.50" fill="#f0d43e"/>
<rect x="132.59" y="302.78" width="2.00" height="8.50" fill="#f0d43e"/>
<rect x="156.62" y="302.78" width="3.00" height="8.50" fill="#40a888"/>
<rect x="162.63" y="302.78" width="1.00" height="8.50" fill="#f0d43e"/>
<rect x="168.64" y="302.78" width="1.00" height="8.50" fill="#40a888"/>
<rect x="171.65" y="302.78" width="2.00" height="8.50" fill="#82c858"/>
<rect x="178.66" y="302.78" width="1.00" height="8.50" fill="#f0d43e"/>
<rect x="181.66" y="302.78" width="1.00" height="8.50" fill="#c8d840"/>
<rect x="185.67" y="302.78" width="1.00" height="8.50" fill="#f0d43e"/>
<rect x="190.67" y="302.78" width="2.00" height="8.50" fill="#82c858"/>
<rect x="196.68" y="302.78" width="2.00" height="8.50" fill="#c8d840"/>
<rect x="200.69" y="302.78" width="3.00" height="8.50" fill="#f0d43e"/>
<rect x="204.70" y="302.78" width="1.00" height="8.50" fill="#82c858"/>
<rect x="209.70" y="302.78" width="1.00" height="8.50" fill="#c8d840"/>
<rect x="213.71" y="302.78" width="1.00" height="8.50" fill="#f0d43e"/>
<rect x="219.72" y="302.78" width="2.00" height="8.50" fill="#c8d840"/>
<rect x="224.73" y="302.78" width="1.00" height="8.50" fill="#f0d43e"/>
<rect x="230.74" y="302.78" width="2.00" height="8.50" fill="#40a888"/>
<rect x="237.75" y="302.78" width="1.00" height="8.50" fill="#f0d43e"/>
<rect x="240.75" y="302.78" width="2.00" height="8.50" fill="#82c858"/>
<rect x="247.76" y="302.78" width="2.00" height="8.50" fill="#f0d43e"/>
<rect x="251.77" y="302.78" width="1.00" height="8.50" fill="#c8d840"/>
<rect x="257.78" y="302.78" width="1.00" height="8.50" fill="#f0d43e"/>
<rect x="262.79" y="302.78" width="2.00" height="8.50" fill="#82c858"/>
<rect x="267.79" y="302.78" width="2.00" height="8.50" fill="#40a888"/>
<rect x="77.50" y="311.08" width="79.20" height="8.50" fill="#35808b"/>
<rect x="156.70" y="311.08" width="115.10" height="8.50" fill="#396e8f"/>
<rect x="156.62" y="311.08" width="2.00" height="8.50" fill="#396e8f"/>
<rect x="158.63" y="311.08" width="2.00" height="8.50" fill="#f0d43e"/>
<rect x="163.63" y="311.08" width="1.00" height="8.50" fill="#82c858"/>
<rect x="176.65" y="311.08" width="1.00" height="8.50" fill="#c8d840"/>
<rect x="180.66" y="311.08" width="2.00" height="8.50" fill="#40a888"/>
<rect x="189.67" y="311.08" width="1.00" height="8.50" fill="#f0d43e"/>
<rect x="194.68" y="311.08" width="2.00" height="8.50" fill="#82c858"/>
<rect x="198.69" y="311.08" width="1.00" height="8.50" fill="#f0d43e"/>
<rect x="211.71" y="311.08" width="1.00" height="8.50" fill="#82c858"/>
<rect x="216.71" y="311.08" width="2.00" height="8.50" fill="#82c858"/>
<rect x="225.73" y="311.08" width="2.00" height="8.50" fill="#f0d43e"/>
<rect x="232.74" y="311.08" width="1.00" height="8.50" fill="#f0d43e"/>
<rect x="237.75" y="311.08" width="3.00" height="8.50" fill="#82c858"/>
<rect x="250.77" y="311.08" width="1.00" height="8.50" fill="#c8d840"/>
<rect x="258.78" y="311.08" width="2.00" height="8.50" fill="#82c858"/>
<rect x="264.79" y="311.08" width="1.00" height="8.50" fill="#f0d43e"/>
<rect x="77.50" y="319.39" width="79.20" height="8.50" fill="#3c608e"/>
<rect x="156.70" y="319.39" width="115.10" height="8.50" fill="#3a6890"/>
<rect x="84.51" y="319.39" width="1.00" height="8.50" fill="#f0d43e"/>
<rect x="98.53" y="319.39" width="1.00" height="8.50" fill="#82c858"/>
<rect x="115.56" y="319.39" width="1.00" height="8.50" fill="#f0d43e"/>
<rect x="130.58" y="319.39" width="2.00" height="8.50" fill="#f0d43e"/>
<rect x="146.61" y="319.39" width="1.00" height="8.50" fill="#f0d43e"/>
<rect x="156.62" y="319.39" width="1.00" height="8.50" fill="#3a6890"/>
<rect x="157.62" y="319.39" width="1.00" height="8.50" fill="#40a888"/>
<rect x="163.63" y="319.39" width="1.00" height="8.50" fill="#f0d43e"/>
<rect x="166.64" y="319.39" width="2.00" height="8.50" fill="#82c858"/>
<rect x="170.64" y="319.39" width="1.00" height="8.50" fill="#f0d43e"/>
<rect x="174.65" y="319.39" width="3.00" height="8.50" fill="#82c858"/>
<rect x="178.66" y="319.39" width="3.00" height="8.50" fill="#40a888"/>
<rect x="185.67" y="319.39" width="1.00" height="8.50" fill="#c8d840"/>
<rect x="189.67" y="319.39" width="1.00" height="8.50" fill="#40a888"/>
<rect x="191.68" y="319.39" width="1.00" height="8.50" fill="#c8d840"/>
<rect x="196.68" y="319.39" width="1.00" height="8.50" fill="#f0d43e"/>
<rect x="202.69" y="319.39" width="1.00" height="8.50" fill="#82c858"/>
<rect x="205.70" y="319.39" width="2.00" height="8.50" fill="#f0d43e"/>
<rect x="210.71" y="319.39" width="1.00" height="8.50" fill="#82c858"/>
<rect x="213.71" y="319.39" width="1.00" height="8.50" fill="#c8d840"/>
<rect x="219.72" y="319.39" width="2.00" height="8.50" fill="#40a888"/>
<rect x="224.73" y="319.39" width="2.00" height="8.50" fill="#c8d840"/>
<rect x="229.74" y="319.39" width="3.00" height="8.50" fill="#f0d43e"/>
<rect x="234.74" y="319.39" width="3.00" height="8.50" fill="#f0d43e"/>
<rect x="241.75" y="319.39" width="1.00" height="8.50" fill="#82c858"/>
<rect x="245.76" y="319.39" width="2.00" height="8.50" fill="#f0d43e"/>
<rect x="251.77" y="319.39" width="1.00" height="8.50" fill="#82c858"/>
<rect x="255.78" y="319.39" width="2.00" height="8.50" fill="#40a888"/>
<rect x="264.79" y="319.39" width="1.00" height="8.50" fill="#c8d840"/>
<rect x="268.80" y="319.39" width="2.00" height="8.50" fill="#82c858"/>
<rect x="77.50" y="327.69" width="79.20" height="8.50" fill="#3c608e"/>
<rect x="156.70" y="327.69" width="115.10" height="8.50" fill="#3a6890"/>
<rect x="156.62" y="327.69" width="1.00" height="8.50" fill="#3a6890"/>
<rect x="157.62" y="327.69" width="1.00" height="8.50" fill="#c8d840"/>
<rect x="160.63" y="327.69" width="2.00" height="8.50" fill="#40a888"/>
<rect x="166.64" y="327.69" width="1.00" height="8.50" fill="#82c858"/>
<rect x="170.64" y="327.69" width="1.00" height="8.50" fill="#40a888"/>
<rect x="172.65" y="327.69" width="3.00" height="8.50" fill="#f0d43e"/>
<rect x="179.66" y="327.69" width="1.00" height="8.50" fill="#f0d43e"/>
<rect x="181.66" y="327.69" width="3.00" height="8.50" fill="#c8d840"/>
<rect x="185.67" y="327.69" width="2.00" height="8.50" fill="#40a888"/>
<rect x="189.67" y="327.69" width="1.00" height="8.50" fill="#f0d43e"/>
<rect x="193.68" y="327.69" width="3.00" height="8.50" fill="#82c858"/>
<rect x="199.69" y="327.69" width="1.00" height="8.50" fill="#f0d43e"/>
<rect x="201.69" y="327.69" width="2.00" height="8.50" fill="#c8d840"/>
<rect x="204.70" y="327.69" width="3.00" height="8.50" fill="#40a888"/>
<rect x="209.70" y="327.69" width="2.00" height="8.50" fill="#f0d43e"/>
<rect x="213.71" y="327.69" width="2.00" height="8.50" fill="#f0d43e"/>
<rect x="217.72" y="327.69" width="1.00" height="8.50" fill="#c8d840"/>
<rect x="222.72" y="327.69" width="1.00" height="8.50" fill="#82c858"/>
<rect x="223.73" y="327.69" width="1.00" height="8.50" fill="#f0d43e"/>
<rect x="226.73" y="327.69" width="2.00" height="8.50" fill="#82c858"/>
<rect x="232.74" y="327.69" width="1.00" height="8.50" fill="#82c858"/>
<rect x="234.74" y="327.69" width="1.00" height="8.50" fill="#40a888"/>
<rect x="237.75" y="327.69" width="1.00" height="8.50" fill="#f0d43e"/>
<rect x="241.75" y="327.69" width="2.00" height="8.50" fill="#82c858"/>
<rect x="244.76" y="327.69" width="1.00" height="8.50" fill="#c8d840"/>
<rect x="247.76" y="327.69" width="1.00" height="8.50" fill="#82c858"/>
<rect x="251.77" y="327.69" width="2.00" height="8.50" fill="#f0d43e"/>
<rect x="256.78" y="327.69" width="1.00" height="8.50" fill="#c8d840"/>
<rect x="257.78" y="327.69" width="3.00" height="8.50" fill="#40a888"/>
<rect x="261.78" y="327.69" width="1.00" height="8.50" fill="#f0d43e"/>
<rect x="265.79" y="327.69" width="2.00" height="8.50" fill="#40a888"/>
<rect x="267.79" y="327.69" width="1.00" height="8.50" fill="#82c858"/>
</g>
<text transform="translate(74.00,11.85) scale(0.757,1)" font-size="7.5" text-anchor="end" fill="#000" style="stroke:#000;stroke-width:0.32px">CXCL10</text>
<line x1="76.30" y1="7.95" x2="77.50" y2="7.95" stroke="#666" stroke-width="0.5"/>
<text transform="translate(74.00,20.16) scale(0.757,1)" font-size="7.5" text-anchor="end" fill="#000" style="stroke:#000;stroke-width:0.32px">HLA-DRB5</text>
<line x1="76.30" y1="16.26" x2="77.50" y2="16.26" stroke="#666" stroke-width="0.5"/>
<text transform="translate(74.00,28.46) scale(0.757,1)" font-size="7.5" text-anchor="end" fill="#000" style="stroke:#000;stroke-width:0.32px">NUPR1</text>
<line x1="76.30" y1="24.56" x2="77.50" y2="24.56" stroke="#666" stroke-width="0.5"/>
<text transform="translate(74.00,36.77) scale(0.757,1)" font-size="7.5" text-anchor="end" fill="#000" style="stroke:#000;stroke-width:0.32px">ADA2</text>
<line x1="76.30" y1="32.87" x2="77.50" y2="32.87" stroke="#666" stroke-width="0.5"/>
<text transform="translate(74.00,45.07) scale(0.757,1)" font-size="7.5" text-anchor="end" fill="#000" style="stroke:#000;stroke-width:0.32px">VCAM1</text>
<line x1="76.30" y1="41.17" x2="77.50" y2="41.17" stroke="#666" stroke-width="0.5"/>
<text transform="translate(74.00,53.38) scale(0.757,1)" font-size="7.5" text-anchor="end" fill="#000" style="stroke:#000;stroke-width:0.32px">FILIP1L</text>
<line x1="76.30" y1="49.48" x2="77.50" y2="49.48" stroke="#666" stroke-width="0.5"/>
<text transform="translate(74.00,61.68) scale(0.757,1)" font-size="7.5" text-anchor="end" fill="#000" style="stroke:#000;stroke-width:0.32px">CAMSAP2</text>
<line x1="76.30" y1="57.78" x2="77.50" y2="57.78" stroke="#666" stroke-width="0.5"/>
<text transform="translate(74.00,69.99) scale(0.757,1)" font-size="7.5" text-anchor="end" fill="#000" style="stroke:#000;stroke-width:0.32px">SERPING1</text>
<line x1="76.30" y1="66.09" x2="77.50" y2="66.09" stroke="#666" stroke-width="0.5"/>
<text transform="translate(74.00,78.29) scale(0.757,1)" font-size="7.5" text-anchor="end" fill="#000" style="stroke:#000;stroke-width:0.32px">ISCU</text>
<line x1="76.30" y1="74.39" x2="77.50" y2="74.39" stroke="#666" stroke-width="0.5"/>
<text transform="translate(74.00,86.60) scale(0.757,1)" font-size="7.5" text-anchor="end" fill="#000" style="stroke:#000;stroke-width:0.32px">ESR1</text>
<line x1="76.30" y1="82.70" x2="77.50" y2="82.70" stroke="#666" stroke-width="0.5"/>
<text transform="translate(74.00,94.90) scale(0.757,1)" font-size="7.5" text-anchor="end" fill="#000" style="stroke:#000;stroke-width:0.32px">CTSZ</text>
<line x1="76.30" y1="91.00" x2="77.50" y2="91.00" stroke="#666" stroke-width="0.5"/>
<text transform="translate(74.00,103.21) scale(0.757,1)" font-size="7.5" text-anchor="end" fill="#000" style="stroke:#000;stroke-width:0.32px">SELENOK</text>
<line x1="76.30" y1="99.31" x2="77.50" y2="99.31" stroke="#666" stroke-width="0.5"/>
<text transform="translate(74.00,111.51) scale(0.757,1)" font-size="7.5" text-anchor="end" fill="#000" style="stroke:#000;stroke-width:0.32px">RARA-AS1</text>
<line x1="76.30" y1="107.61" x2="77.50" y2="107.61" stroke="#666" stroke-width="0.5"/>
<text transform="translate(74.00,119.82) scale(0.757,1)" font-size="7.5" text-anchor="end" fill="#000" style="stroke:#000;stroke-width:0.32px">CXCL12</text>
<line x1="76.30" y1="115.92" x2="77.50" y2="115.92" stroke="#666" stroke-width="0.5"/>
<text transform="translate(74.00,128.12) scale(0.757,1)" font-size="7.5" text-anchor="end" fill="#000" style="stroke:#000;stroke-width:0.32px">HLA-DQB1</text>
<line x1="76.30" y1="124.22" x2="77.50" y2="124.22" stroke="#666" stroke-width="0.5"/>
<text transform="translate(74.00,136.43) scale(0.757,1)" font-size="7.5" text-anchor="end" fill="#000" style="stroke:#000;stroke-width:0.32px">MT-CYB</text>
<line x1="76.30" y1="132.53" x2="77.50" y2="132.53" stroke="#666" stroke-width="0.5"/>
<text transform="translate(74.00,144.73) scale(0.757,1)" font-size="7.5" text-anchor="end" fill="#000" style="stroke:#000;stroke-width:0.32px">SPTAN1</text>
<line x1="76.30" y1="140.83" x2="77.50" y2="140.83" stroke="#666" stroke-width="0.5"/>
<text transform="translate(74.00,153.04) scale(0.757,1)" font-size="7.5" text-anchor="end" fill="#000" style="stroke:#000;stroke-width:0.32px">TTC14</text>
<line x1="76.30" y1="149.14" x2="77.50" y2="149.14" stroke="#666" stroke-width="0.5"/>
<text transform="translate(74.00,161.34) scale(0.757,1)" font-size="7.5" text-anchor="end" fill="#000" style="stroke:#000;stroke-width:0.32px">TMIGD3</text>
<line x1="76.30" y1="157.44" x2="77.50" y2="157.44" stroke="#666" stroke-width="0.5"/>
<text transform="translate(74.00,169.65) scale(0.757,1)" font-size="7.5" text-anchor="end" fill="#000" style="stroke:#000;stroke-width:0.32px">PLD3</text>
<line x1="76.30" y1="165.75" x2="77.50" y2="165.75" stroke="#666" stroke-width="0.5"/>
<text transform="translate(74.00,177.95) scale(0.757,1)" font-size="7.5" text-anchor="end" fill="#000" style="stroke:#000;stroke-width:0.32px">PSMC5</text>
<line x1="76.30" y1="174.05" x2="77.50" y2="174.05" stroke="#666" stroke-width="0.5"/>
<text transform="translate(74.00,186.26) scale(0.757,1)" font-size="7.5" text-anchor="end" fill="#000" style="stroke:#000;stroke-width:0.32px">ACSL1</text>
<line x1="76.30" y1="182.36" x2="77.50" y2="182.36" stroke="#666" stroke-width="0.5"/>
<text transform="translate(74.00,194.56) scale(0.757,1)" font-size="7.5" text-anchor="end" fill="#000" style="stroke:#000;stroke-width:0.32px">DAB2</text>
<line x1="76.30" y1="190.66" x2="77.50" y2="190.66" stroke="#666" stroke-width="0.5"/>
<text transform="translate(74.00,202.87) scale(0.757,1)" font-size="7.5" text-anchor="end" fill="#000" style="stroke:#000;stroke-width:0.32px">CDKN1C</text>
<line x1="76.30" y1="198.97" x2="77.50" y2="198.97" stroke="#666" stroke-width="0.5"/>
<text transform="translate(74.00,211.17) scale(0.757,1)" font-size="7.5" text-anchor="end" fill="#000" style="stroke:#000;stroke-width:0.32px">AC022966.1</text>
<line x1="76.30" y1="207.27" x2="77.50" y2="207.27" stroke="#666" stroke-width="0.5"/>
<text transform="translate(74.00,219.48) scale(0.757,1)" font-size="7.5" text-anchor="end" fill="#000" style="stroke:#000;stroke-width:0.32px">ATP5MC3</text>
<line x1="76.30" y1="215.58" x2="77.50" y2="215.58" stroke="#666" stroke-width="0.5"/>
<text transform="translate(74.00,227.78) scale(0.757,1)" font-size="7.5" text-anchor="end" fill="#000" style="stroke:#000;stroke-width:0.32px">CD36</text>
<line x1="76.30" y1="223.88" x2="77.50" y2="223.88" stroke="#666" stroke-width="0.5"/>
<text transform="translate(74.00,236.09) scale(0.757,1)" font-size="7.5" text-anchor="end" fill="#000" style="stroke:#000;stroke-width:0.32px">MAFG</text>
<line x1="76.30" y1="232.19" x2="77.50" y2="232.19" stroke="#666" stroke-width="0.5"/>
<text transform="translate(74.00,244.39) scale(0.757,1)" font-size="7.5" text-anchor="end" fill="#000" style="stroke:#000;stroke-width:0.32px">JUND</text>
<line x1="76.30" y1="240.49" x2="77.50" y2="240.49" stroke="#666" stroke-width="0.5"/>
<text transform="translate(74.00,252.70) scale(0.757,1)" font-size="7.5" text-anchor="end" fill="#000" style="stroke:#000;stroke-width:0.32px">RPS28</text>
<line x1="76.30" y1="248.80" x2="77.50" y2="248.80" stroke="#666" stroke-width="0.5"/>
<text transform="translate(74.00,261.00) scale(0.757,1)" font-size="7.5" text-anchor="end" fill="#000" style="stroke:#000;stroke-width:0.32px">GADD45G</text>
<line x1="76.30" y1="257.10" x2="77.50" y2="257.10" stroke="#666" stroke-width="0.5"/>
<text transform="translate(74.00,269.31) scale(0.757,1)" font-size="7.5" text-anchor="end" fill="#000" style="stroke:#000;stroke-width:0.32px">YBX1</text>
<line x1="76.30" y1="265.41" x2="77.50" y2="265.41" stroke="#666" stroke-width="0.5"/>
<text transform="translate(74.00,277.61) scale(0.757,1)" font-size="7.5" text-anchor="end" fill="#000" style="stroke:#000;stroke-width:0.32px">TUBB</text>
<line x1="76.30" y1="273.71" x2="77.50" y2="273.71" stroke="#666" stroke-width="0.5"/>
<text transform="translate(74.00,285.92) scale(0.757,1)" font-size="7.5" text-anchor="end" fill="#000" style="stroke:#000;stroke-width:0.32px">CD69</text>
<line x1="76.30" y1="282.02" x2="77.50" y2="282.02" stroke="#666" stroke-width="0.5"/>
<text transform="translate(74.00,294.22) scale(0.757,1)" font-size="7.5" text-anchor="end" fill="#000" style="stroke:#000;stroke-width:0.32px">LINC00910</text>
<line x1="76.30" y1="290.32" x2="77.50" y2="290.32" stroke="#666" stroke-width="0.5"/>
<text transform="translate(74.00,302.53) scale(0.757,1)" font-size="7.5" text-anchor="end" fill="#000" style="stroke:#000;stroke-width:0.32px">TNF</text>
<line x1="76.30" y1="298.63" x2="77.50" y2="298.63" stroke="#666" stroke-width="0.5"/>
<text transform="translate(74.00,310.83) scale(0.757,1)" font-size="7.5" text-anchor="end" fill="#000" style="stroke:#000;stroke-width:0.32px">ADM</text>
<line x1="76.30" y1="306.93" x2="77.50" y2="306.93" stroke="#666" stroke-width="0.5"/>
<text transform="translate(74.00,319.14) scale(0.757,1)" font-size="7.5" text-anchor="end" fill="#000" style="stroke:#000;stroke-width:0.32px">SPP1</text>
<line x1="76.30" y1="315.24" x2="77.50" y2="315.24" stroke="#666" stroke-width="0.5"/>
<text transform="translate(74.00,327.44) scale(0.757,1)" font-size="7.5" text-anchor="end" fill="#000" style="stroke:#000;stroke-width:0.32px">LYVE1</text>
<line x1="76.30" y1="323.54" x2="77.50" y2="323.54" stroke="#666" stroke-width="0.5"/>
<text transform="translate(74.00,335.75) scale(0.757,1)" font-size="7.5" text-anchor="end" fill="#000" style="stroke:#000;stroke-width:0.32px">LINC00486</text>
<line x1="76.30" y1="331.85" x2="77.50" y2="331.85" stroke="#666" stroke-width="0.5"/>
<rect x="77.50" y="341.00" width="79.20" height="6.30" fill="#3a78b4"/>
<rect x="156.70" y="341.00" width="115.10" height="6.30" fill="#f07e24"/>
<text transform="translate(117.80,356.00) scale(0.850,1)" font-size="7.2" text-anchor="middle" fill="#111">nLCR_T</text>
<text transform="translate(216.60,356.00) scale(0.850,1)" font-size="7.2" text-anchor="middle" fill="#111">pLCR_T</text>
<defs><linearGradient id="gA" x1="0" y1="1" x2="0" y2="0"><stop offset="0.0" stop-color="rgb(60, 32, 80)"/><stop offset="0.125" stop-color="rgb(74, 42, 128)"/><stop offset="0.25" stop-color="rgb(66, 77, 138)"/><stop offset="0.375" stop-color="rgb(58, 104, 144)"/><stop offset="0.5" stop-color="rgb(52, 134, 138)"/><stop offset="0.625" stop-color="rgb(64, 168, 136)"/><stop offset="0.75" stop-color="rgb(130, 200, 88)"/><stop offset="0.875" stop-color="rgb(200, 216, 64)"/><stop offset="1.0" stop-color="rgb(240, 212, 62)"/></linearGradient></defs>
<rect x="276.90" y="178.50" width="6.60" height="157.90" fill="url(#gA)" stroke="#888" stroke-width="0.6"/>
<line x1="283.50" y1="179.80" x2="285.30" y2="179.80" stroke="#333" stroke-width="0.6"/>
<text transform="translate(288.00,182.20) scale(0.850,1)" font-size="6.8" text-anchor="start" fill="#111">2.0</text>
<line x1="283.50" y1="199.30" x2="285.30" y2="199.30" stroke="#333" stroke-width="0.6"/>
<text transform="translate(288.00,201.70) scale(0.850,1)" font-size="6.8" text-anchor="start" fill="#111">1.5</text>
<line x1="283.50" y1="218.80" x2="285.30" y2="218.80" stroke="#333" stroke-width="0.6"/>
<text transform="translate(288.00,221.20) scale(0.850,1)" font-size="6.8" text-anchor="start" fill="#111">1.0</text>
<line x1="283.50" y1="238.30" x2="285.30" y2="238.30" stroke="#333" stroke-width="0.6"/>
<text transform="translate(288.00,240.70) scale(0.850,1)" font-size="6.8" text-anchor="start" fill="#111">0.5</text>
<line x1="283.50" y1="257.80" x2="285.30" y2="257.80" stroke="#333" stroke-width="0.6"/>
<text transform="translate(288.00,260.20) scale(0.850,1)" font-size="6.8" text-anchor="start" fill="#111">0.0</text>
<line x1="283.50" y1="277.30" x2="285.30" y2="277.30" stroke="#333" stroke-width="0.6"/>
<text transform="translate(286.80,279.70) scale(0.850,1)" font-size="6.8" text-anchor="start" fill="#111">−0.5</text>
<line x1="283.50" y1="296.80" x2="285.30" y2="296.80" stroke="#333" stroke-width="0.6"/>
<text transform="translate(286.80,299.20) scale(0.850,1)" font-size="6.8" text-anchor="start" fill="#111">−1.0</text>
<line x1="283.50" y1="316.30" x2="285.30" y2="316.30" stroke="#333" stroke-width="0.6"/>
<text transform="translate(286.80,318.70) scale(0.850,1)" font-size="6.8" text-anchor="start" fill="#111">−1.5</text>
<line x1="283.50" y1="335.80" x2="285.30" y2="335.80" stroke="#333" stroke-width="0.6"/>
<text transform="translate(286.80,338.20) scale(0.850,1)" font-size="6.8" text-anchor="start" fill="#111">−2.0</text>
<text transform="translate(326.40,17.60)" font-size="13" text-anchor="start" fill="#000">(B)</text>
<rect x="536.10" y="2.00" width="93.90" height="9.70" fill="#fa7f78"/>
<text transform="translate(531.00,10.25) scale(0.810,1)" font-size="7.5" text-anchor="end" fill="#2a2a2a">MHC class II protein complex assembly</text>
<line x1="533.00" y1="6.85" x2="534.50" y2="6.85" stroke="#333" stroke-width="0.6"/>
<rect x="536.10" y="13.37" width="93.90" height="9.70" fill="#fa7f78"/>
<text transform="translate(531.00,21.62) scale(0.810,1)" font-size="7.5" text-anchor="end" fill="#2a2a2a">peptide antigen assembly with MHC class II protein complex</text>
<line x1="533.00" y1="18.22" x2="534.50" y2="18.22" stroke="#333" stroke-width="0.6"/>
<rect x="536.10" y="24.74" width="93.90" height="9.70" fill="#fa7f78"/>
<text transform="translate(531.00,32.99) scale(0.810,1)" font-size="7.5" text-anchor="end" fill="#2a2a2a">leukocyte cell−cell adhesion</text>
<line x1="533.00" y1="29.59" x2="534.50" y2="29.59" stroke="#333" stroke-width="0.6"/>
<rect x="536.10" y="36.11" width="90.90" height="9.70" fill="#fa7f78"/>
<text transform="translate(531.00,44.36) scale(0.810,1)" font-size="7.5" text-anchor="end" fill="#2a2a2a">peptide antigen assembly with MHC protein complex</text>
<line x1="533.00" y1="40.96" x2="534.50" y2="40.96" stroke="#333" stroke-width="0.6"/>
<rect x="536.10" y="47.48" width="89.90" height="9.70" fill="#fa7f78"/>
<text transform="translate(531.00,55.73) scale(0.810,1)" font-size="7.5" text-anchor="end" fill="#2a2a2a">MHC protein complex assembly</text>
<line x1="533.00" y1="52.33" x2="534.50" y2="52.33" stroke="#333" stroke-width="0.6"/>
<rect x="536.10" y="58.85" width="86.90" height="9.70" fill="#fa7f78"/>
<text transform="translate(531.00,67.10) scale(0.810,1)" font-size="7.5" text-anchor="end" fill="#2a2a2a">antigen processing and presentation of exogenous peptide antigen via MHC class II</text>
<line x1="533.00" y1="63.70" x2="534.50" y2="63.70" stroke="#333" stroke-width="0.6"/>
<rect x="536.10" y="70.22" width="81.90" height="9.70" fill="#fa7f78"/>
<text transform="translate(531.00,78.47) scale(0.810,1)" font-size="7.5" text-anchor="end" fill="#2a2a2a">antigen processing and presentation of peptide antigen via MHC class II</text>
<line x1="533.00" y1="75.07" x2="534.50" y2="75.07" stroke="#333" stroke-width="0.6"/>
<rect x="536.10" y="81.59" width="80.60" height="9.70" fill="#fa7f78"/>
<text transform="translate(531.00,89.84) scale(0.810,1)" font-size="7.5" text-anchor="end" fill="#2a2a2a">antigen processing and presentation of peptide or polysaccharide antigen via MHC class II</text>
<line x1="533.00" y1="86.44" x2="534.50" y2="86.44" stroke="#333" stroke-width="0.6"/>
<rect x="536.10" y="92.96" width="78.90" height="9.70" fill="#fa7f78"/>
<text transform="translate(531.00,101.21) scale(0.810,1)" font-size="7.5" text-anchor="end" fill="#2a2a2a">antigen processing and presentation of exogenous peptide antigen</text>
<line x1="533.00" y1="97.81" x2="534.50" y2="97.81" stroke="#333" stroke-width="0.6"/>
<rect x="536.10" y="104.33" width="74.90" height="9.70" fill="#fa7f78"/>
<text transform="translate(531.00,112.58) scale(0.810,1)" font-size="7.5" text-anchor="end" fill="#2a2a2a">regulation of leukocyte cell−cell adhesion</text>
<line x1="533.00" y1="109.18" x2="534.50" y2="109.18" stroke="#333" stroke-width="0.6"/>
<rect x="536.10" y="115.70" width="114.70" height="9.70" fill="#42b824"/>
<text transform="translate(531.00,123.95) scale(0.810,1)" font-size="7.5" text-anchor="end" fill="#2a2a2a">MHC class II protein complex</text>
<line x1="533.00" y1="120.55" x2="534.50" y2="120.55" stroke="#333" stroke-width="0.6"/>
<rect x="536.10" y="127.07" width="98.90" height="9.70" fill="#42b824"/>
<text transform="translate(531.00,135.32) scale(0.810,1)" font-size="7.5" text-anchor="end" fill="#2a2a2a">MHC protein complex</text>
<line x1="533.00" y1="131.92" x2="534.50" y2="131.92" stroke="#333" stroke-width="0.6"/>
<rect x="536.10" y="138.44" width="65.90" height="9.70" fill="#42b824"/>
<text transform="translate(531.00,146.69) scale(0.810,1)" font-size="7.5" text-anchor="end" fill="#2a2a2a">integral component of lumenal side of endoplasmic reticulum membrane</text>
<line x1="533.00" y1="143.29" x2="534.50" y2="143.29" stroke="#333" stroke-width="0.6"/>
<rect x="536.10" y="149.81" width="65.90" height="9.70" fill="#42b824"/>
<text transform="translate(531.00,158.06) scale(0.810,1)" font-size="7.5" text-anchor="end" fill="#2a2a2a">lumenal side of endoplasmic reticulum membrane</text>
<line x1="533.00" y1="154.66" x2="534.50" y2="154.66" stroke="#333" stroke-width="0.6"/>
<rect x="536.10" y="161.18" width="60.90" height="9.70" fill="#42b824"/>
<text transform="translate(531.00,169.43) scale(0.810,1)" font-size="7.5" text-anchor="end" fill="#2a2a2a">lumenal side of membrane</text>
<line x1="533.00" y1="166.03" x2="534.50" y2="166.03" stroke="#333" stroke-width="0.6"/>
<rect x="536.10" y="172.55" width="60.90" height="9.70" fill="#42b824"/>
<text transform="translate(531.00,180.80) scale(0.810,1)" font-size="7.5" text-anchor="end" fill="#2a2a2a">clathrin−coated endocytic vesicle membrane</text>
<line x1="533.00" y1="177.40" x2="534.50" y2="177.40" stroke="#333" stroke-width="0.6"/>
<rect x="536.10" y="183.92" width="52.90" height="9.70" fill="#42b824"/>
<text transform="translate(531.00,192.17) scale(0.810,1)" font-size="7.5" text-anchor="end" fill="#2a2a2a">clathrin−coated endocytic vesicle</text>
<line x1="533.00" y1="188.77" x2="534.50" y2="188.77" stroke="#333" stroke-width="0.6"/>
<rect x="536.10" y="195.29" width="45.90" height="9.70" fill="#42b824"/>
<text transform="translate(531.00,203.54) scale(0.810,1)" font-size="7.5" text-anchor="end" fill="#2a2a2a">ER to Golgi transport vesicle membrane</text>
<line x1="533.00" y1="200.14" x2="534.50" y2="200.14" stroke="#333" stroke-width="0.6"/>
<rect x="536.10" y="206.66" width="44.90" height="9.70" fill="#42b824"/>
<text transform="translate(531.00,214.91) scale(0.810,1)" font-size="7.5" text-anchor="end" fill="#2a2a2a">clathrin−coated vesicle membrane</text>
<line x1="533.00" y1="211.51" x2="534.50" y2="211.51" stroke="#333" stroke-width="0.6"/>
<rect x="536.10" y="218.03" width="43.90" height="9.70" fill="#42b824"/>
<text transform="translate(531.00,226.28) scale(0.810,1)" font-size="7.5" text-anchor="end" fill="#2a2a2a">COPII−coated ER to Golgi transport vesicle</text>
<line x1="533.00" y1="222.88" x2="534.50" y2="222.88" stroke="#333" stroke-width="0.6"/>
<rect x="536.10" y="229.40" width="89.90" height="9.70" fill="#739bd3"/>
<text transform="translate(531.00,237.65) scale(0.810,1)" font-size="7.5" text-anchor="end" fill="#2a2a2a">MHC class II protein complex binding</text>
<line x1="533.00" y1="234.25" x2="534.50" y2="234.25" stroke="#333" stroke-width="0.6"/>
<rect x="536.10" y="240.77" width="80.40" height="9.70" fill="#739bd3"/>
<text transform="translate(531.00,249.02) scale(0.810,1)" font-size="7.5" text-anchor="end" fill="#2a2a2a">MHC protein complex binding</text>
<line x1="533.00" y1="245.62" x2="534.50" y2="245.62" stroke="#333" stroke-width="0.6"/>
<rect x="536.10" y="252.14" width="63.90" height="9.70" fill="#739bd3"/>
<text transform="translate(531.00,260.39) scale(0.810,1)" font-size="7.5" text-anchor="end" fill="#2a2a2a">MHC class II receptor activity</text>
<line x1="533.00" y1="256.99" x2="534.50" y2="256.99" stroke="#333" stroke-width="0.6"/>
<rect x="536.10" y="263.51" width="56.90" height="9.70" fill="#739bd3"/>
<text transform="translate(531.00,271.76) scale(0.810,1)" font-size="7.5" text-anchor="end" fill="#2a2a2a">immune receptor activity</text>
<line x1="533.00" y1="268.36" x2="534.50" y2="268.36" stroke="#333" stroke-width="0.6"/>
<rect x="536.10" y="274.88" width="33.90" height="9.70" fill="#739bd3"/>
<text transform="translate(531.00,283.13) scale(0.810,1)" font-size="7.5" text-anchor="end" fill="#2a2a2a">peptide antigen binding</text>
<line x1="533.00" y1="279.73" x2="534.50" y2="279.73" stroke="#333" stroke-width="0.6"/>
<rect x="536.10" y="286.25" width="31.40" height="9.70" fill="#739bd3"/>
<text transform="translate(531.00,294.50) scale(0.810,1)" font-size="7.5" text-anchor="end" fill="#2a2a2a">peptide binding</text>
<line x1="533.00" y1="291.10" x2="534.50" y2="291.10" stroke="#333" stroke-width="0.6"/>
<rect x="536.10" y="297.62" width="29.90" height="9.70" fill="#739bd3"/>
<text transform="translate(531.00,305.87) scale(0.810,1)" font-size="7.5" text-anchor="end" fill="#2a2a2a">SH3 domain binding</text>
<line x1="533.00" y1="302.47" x2="534.50" y2="302.47" stroke="#333" stroke-width="0.6"/>
<rect x="536.10" y="308.99" width="28.90" height="9.70" fill="#739bd3"/>
<text transform="translate(531.00,317.24) scale(0.810,1)" font-size="7.5" text-anchor="end" fill="#2a2a2a">amide binding</text>
<line x1="533.00" y1="313.84" x2="534.50" y2="313.84" stroke="#333" stroke-width="0.6"/>
<rect x="536.10" y="320.36" width="28.90" height="9.70" fill="#739bd3"/>
<text transform="translate(531.00,328.61) scale(0.810,1)" font-size="7.5" text-anchor="end" fill="#2a2a2a">cytokine binding</text>
<line x1="533.00" y1="325.21" x2="534.50" y2="325.21" stroke="#333" stroke-width="0.6"/>
<rect x="536.10" y="331.73" width="26.60" height="9.70" fill="#739bd3"/>
<text transform="translate(531.00,339.98) scale(0.810,1)" font-size="7.5" text-anchor="end" fill="#2a2a2a">GTPase regulator activity</text>
<line x1="533.00" y1="336.58" x2="534.50" y2="336.58" stroke="#333" stroke-width="0.6"/>
<line x1="535.00" y1="0.00" x2="535.00" y2="343.00" stroke="#9a9a9a" stroke-width="1.4"/>
<line x1="534.30" y1="342.60" x2="651.50" y2="342.60" stroke="#9a9a9a" stroke-width="1.4"/>
<line x1="536.10" y1="343.20" x2="536.10" y2="345.20" stroke="#333" stroke-width="0.6"/>
<text transform="translate(538.50,349.20) rotate(-90)" font-size="7.5" text-anchor="end" fill="#222">0</text>
<line x1="577.60" y1="343.20" x2="577.60" y2="345.20" stroke="#333" stroke-width="0.6"/>
<text transform="translate(580.00,349.20) rotate(-90)" font-size="7.5" text-anchor="end" fill="#222">5</text>
<line x1="619.10" y1="343.20" x2="619.10" y2="345.20" stroke="#333" stroke-width="0.6"/>
<text transform="translate(621.50,349.20) rotate(-90)" font-size="7.5" text-anchor="end" fill="#222">10</text>
<text transform="translate(650.00,338.50) scale(0.780,1)" font-size="7.5" text-anchor="end" fill="#111">−log10( p.adjust )</text>
<text transform="translate(641.00,157.70) scale(0.790,1)" font-size="7.5" text-anchor="start" fill="#111">ONTOLOGY</text>
<rect x="641.20" y="162.00" width="8.80" height="10.40" fill="#fa7f78"/>
<text transform="translate(653.30,169.70) scale(0.850,1)" font-size="7.5" text-anchor="start" fill="#111">BP</text>
<rect x="641.20" y="172.60" width="8.80" height="10.40" fill="#42b824"/>
<text transform="translate(653.30,180.30) scale(0.850,1)" font-size="7.5" text-anchor="start" fill="#111">CC</text>
<rect x="641.20" y="184.40" width="8.80" height="10.40" fill="#739bd3"/>
<text transform="translate(653.30,192.10) scale(0.850,1)" font-size="7.5" text-anchor="start" fill="#111">MF</text>
<text transform="translate(13.40,380.10)" font-size="13" text-anchor="start" fill="#000">(C)</text>
<text transform="translate(137.00,377.40) scale(0.900,1)" font-size="7.5" text-anchor="middle" fill="#111">Tissue−resident like</text>
<line x1="68.50" y1="470.02" x2="68.50" y2="442.76" stroke="#555" stroke-width="0.7"/>
<line x1="68.50" y1="488.00" x2="68.50" y2="488.00" stroke="#555" stroke-width="0.7"/>
<rect x="62.50" y="470.02" width="12.00" height="17.98" fill="#2a64a4" stroke="#333" stroke-width="0.7"/>
<line x1="62.50" y1="476.40" x2="74.50" y2="476.40" stroke="#222" stroke-width="1.1"/>
<line x1="88.25" y1="414.92" x2="88.25" y2="384.76" stroke="#555" stroke-width="0.7"/>
<line x1="88.25" y1="442.76" x2="88.25" y2="477.56" stroke="#555" stroke-width="0.7"/>
<rect x="82.25" y="414.92" width="12.00" height="27.84" fill="#f47f20" stroke="#333" stroke-width="0.7"/>
<line x1="82.25" y1="426.52" x2="94.25" y2="426.52" stroke="#222" stroke-width="1.1"/>
<line x1="108.00" y1="470.02" x2="108.00" y2="443.92" stroke="#555" stroke-width="0.7"/>
<line x1="108.00" y1="488.00" x2="108.00" y2="488.00" stroke="#555" stroke-width="0.7"/>
<rect x="102.00" y="470.02" width="12.00" height="17.98" fill="#35a036" stroke="#333" stroke-width="0.7"/>
<line x1="102.00" y1="478.72" x2="114.00" y2="478.72" stroke="#222" stroke-width="1.1"/>
<line x1="127.75" y1="471.18" x2="127.75" y2="447.40" stroke="#555" stroke-width="0.7"/>
<line x1="127.75" y1="488.00" x2="127.75" y2="488.00" stroke="#555" stroke-width="0.7"/>
<rect x="121.75" y="471.18" width="12.00" height="16.82" fill="#e4382b" stroke="#333" stroke-width="0.7"/>
<line x1="121.75" y1="480.46" x2="133.75" y2="480.46" stroke="#222" stroke-width="1.1"/>
<line x1="147.50" y1="464.80" x2="147.50" y2="430.00" stroke="#555" stroke-width="0.7"/>
<line x1="147.50" y1="488.00" x2="147.50" y2="488.00" stroke="#555" stroke-width="0.7"/>
<rect x="141.50" y="464.80" width="12.00" height="23.20" fill="#ab5ec9" stroke="#333" stroke-width="0.7"/>
<line x1="141.50" y1="476.40" x2="153.50" y2="476.40" stroke="#222" stroke-width="1.1"/>
<line x1="167.25" y1="461.32" x2="167.25" y2="431.16" stroke="#555" stroke-width="0.7"/>
<line x1="167.25" y1="483.36" x2="167.25" y2="488.00" stroke="#555" stroke-width="0.7"/>
<rect x="161.25" y="461.32" width="12.00" height="22.04" fill="#a9545e" stroke="#333" stroke-width="0.7"/>
<line x1="161.25" y1="472.34" x2="173.25" y2="472.34" stroke="#222" stroke-width="1.1"/>
<line x1="187.00" y1="471.18" x2="187.00" y2="445.08" stroke="#555" stroke-width="0.7"/>
<line x1="187.00" y1="488.00" x2="187.00" y2="488.00" stroke="#555" stroke-width="0.7"/>
<rect x="181.00" y="471.18" width="12.00" height="16.82" fill="#f58ac0" stroke="#333" stroke-width="0.7"/>
<line x1="181.00" y1="480.46" x2="193.00" y2="480.46" stroke="#222" stroke-width="1.1"/>
<line x1="206.75" y1="474.08" x2="206.75" y2="455.52" stroke="#555" stroke-width="0.7"/>
<line x1="206.75" y1="488.00" x2="206.75" y2="488.00" stroke="#555" stroke-width="0.7"/>
<rect x="200.75" y="474.08" width="12.00" height="13.92" fill="#b3a824" stroke="#333" stroke-width="0.7"/>
<line x1="200.75" y1="487.42" x2="212.75" y2="487.42" stroke="#222" stroke-width="1.1"/>
<rect x="56.40" y="379.50" width="162.60" height="113.80" fill="none" stroke="#555" stroke-width="1.1"/>
<line x1="54.40" y1="488.00" x2="56.40" y2="488.00" stroke="#333" stroke-width="0.6"/>
<text transform="translate(53.60,490.60) scale(0.900,1)" font-size="7.4" text-anchor="end" fill="#000" style="stroke:#000;stroke-width:0.3px">0.00</text>
<line x1="54.40" y1="459.00" x2="56.40" y2="459.00" stroke="#333" stroke-width="0.6"/>
<text transform="translate(53.60,461.60) scale(0.900,1)" font-size="7.4" text-anchor="end" fill="#000" style="stroke:#000;stroke-width:0.3px">0.25</text>
<line x1="54.40" y1="430.00" x2="56.40" y2="430.00" stroke="#333" stroke-width="0.6"/>
<text transform="translate(53.60,432.60) scale(0.900,1)" font-size="7.4" text-anchor="end" fill="#000" style="stroke:#000;stroke-width:0.3px">0.50</text>
<line x1="54.40" y1="401.00" x2="56.40" y2="401.00" stroke="#333" stroke-width="0.6"/>
<text transform="translate(53.60,403.60) scale(0.900,1)" font-size="7.4" text-anchor="end" fill="#000" style="stroke:#000;stroke-width:0.3px">0.75</text>
<text transform="translate(40.20,436.60) rotate(-90) scale(0.950,1)" font-size="7.6" text-anchor="middle" fill="#111">Score</text>
<line x1="68.50" y1="493.30" x2="68.50" y2="495.30" stroke="#333" stroke-width="0.6"/>
<text transform="translate(75.40,502.30) rotate(-60) scale(0.920,1)" font-size="8.0" text-anchor="end" fill="#222">Macrophages_IL1B</text>
<line x1="88.25" y1="493.30" x2="88.25" y2="495.30" stroke="#333" stroke-width="0.6"/>
<text transform="translate(95.15,502.30) rotate(-60) scale(0.920,1)" font-size="8.0" text-anchor="end" fill="#222">Macrophages_LYVE1</text>
<line x1="108.00" y1="493.30" x2="108.00" y2="495.30" stroke="#333" stroke-width="0.6"/>
<text transform="translate(114.90,502.30) rotate(-60) scale(0.920,1)" font-size="8.0" text-anchor="end" fill="#222">Macrophages_NUPR1</text>
<line x1="127.75" y1="493.30" x2="127.75" y2="495.30" stroke="#333" stroke-width="0.6"/>
<text transform="translate(134.65,502.30) rotate(-60) scale(0.920,1)" font-size="8.0" text-anchor="end" fill="#222">Macrophages_CX3CR1</text>
<line x1="147.50" y1="493.30" x2="147.50" y2="495.30" stroke="#333" stroke-width="0.6"/>
<text transform="translate(154.40,502.30) rotate(-60) scale(0.920,1)" font-size="8.0" text-anchor="end" fill="#222">Macrophages_CXCL3</text>
<line x1="167.25" y1="493.30" x2="167.25" y2="495.30" stroke="#333" stroke-width="0.6"/>
<text transform="translate(174.15,502.30) rotate(-60) scale(0.920,1)" font-size="8.0" text-anchor="end" fill="#222">Macrophages_FABP4</text>
<line x1="187.00" y1="493.30" x2="187.00" y2="495.30" stroke="#333" stroke-width="0.6"/>
<text transform="translate(193.90,502.30) rotate(-60) scale(0.920,1)" font-size="8.0" text-anchor="end" fill="#222">Macrophages_CXCL10</text>
<line x1="206.75" y1="493.30" x2="206.75" y2="495.30" stroke="#333" stroke-width="0.6"/>
<text transform="translate(213.65,502.30) rotate(-60) scale(0.920,1)" font-size="8.0" text-anchor="end" fill="#222">Macrophages_MKI67</text>
<text transform="translate(13.40,601.20)" font-size="13" text-anchor="start" fill="#000">(E)</text>
<text transform="translate(137.70,585.40) scale(0.900,1)" font-size="7.5" text-anchor="middle" fill="#111">Immune regulatory</text>
<line x1="71.20" y1="666.12" x2="71.20" y2="630.50" stroke="#555" stroke-width="0.7"/>
<line x1="71.20" y1="690.71" x2="71.20" y2="699.40" stroke="#555" stroke-width="0.7"/>
<rect x="65.15" y="666.12" width="12.10" height="24.59" fill="#2a64a4" stroke="#333" stroke-width="0.7"/>
<line x1="65.15" y1="678.62" x2="77.25" y2="678.62" stroke="#222" stroke-width="1.1"/>
<line x1="91.35" y1="674.81" x2="91.35" y2="638.77" stroke="#555" stroke-width="0.7"/>
<line x1="91.35" y1="699.40" x2="91.35" y2="699.40" stroke="#555" stroke-width="0.7"/>
<rect x="85.30" y="674.81" width="12.10" height="24.59" fill="#f47f20" stroke="#333" stroke-width="0.7"/>
<line x1="85.30" y1="683.08" x2="97.40" y2="683.08" stroke="#222" stroke-width="1.1"/>
<line x1="111.50" y1="670.36" x2="111.50" y2="640.46" stroke="#555" stroke-width="0.7"/>
<line x1="111.50" y1="691.98" x2="111.50" y2="699.40" stroke="#555" stroke-width="0.7"/>
<rect x="105.45" y="670.36" width="12.10" height="21.62" fill="#35a036" stroke="#333" stroke-width="0.7"/>
<line x1="105.45" y1="680.11" x2="117.55" y2="680.11" stroke="#222" stroke-width="1.1"/>
<line x1="131.65" y1="673.96" x2="131.65" y2="638.77" stroke="#555" stroke-width="0.7"/>
<line x1="131.65" y1="699.40" x2="131.65" y2="699.40" stroke="#555" stroke-width="0.7"/>
<rect x="125.60" y="673.96" width="12.10" height="25.44" fill="#e4382b" stroke="#333" stroke-width="0.7"/>
<line x1="125.60" y1="681.38" x2="137.70" y2="681.38" stroke="#222" stroke-width="1.1"/>
<line x1="151.80" y1="669.72" x2="151.80" y2="641.10" stroke="#555" stroke-width="0.7"/>
<line x1="151.80" y1="691.98" x2="151.80" y2="699.40" stroke="#555" stroke-width="0.7"/>
<rect x="145.75" y="669.72" width="12.10" height="22.26" fill="#ab5ec9" stroke="#333" stroke-width="0.7"/>
<line x1="145.75" y1="679.68" x2="157.85" y2="679.68" stroke="#222" stroke-width="1.1"/>
<line x1="171.95" y1="675.66" x2="171.95" y2="649.16" stroke="#555" stroke-width="0.7"/>
<line x1="171.95" y1="694.10" x2="171.95" y2="699.40" stroke="#555" stroke-width="0.7"/>
<rect x="165.90" y="675.66" width="12.10" height="18.44" fill="#a9545e" stroke="#333" stroke-width="0.7"/>
<line x1="165.90" y1="684.14" x2="178.00" y2="684.14" stroke="#222" stroke-width="1.1"/>
<line x1="192.10" y1="657.85" x2="192.10" y2="616.30" stroke="#555" stroke-width="0.7"/>
<line x1="192.10" y1="686.04" x2="192.10" y2="699.40" stroke="#555" stroke-width="0.7"/>
<rect x="186.05" y="657.85" width="12.10" height="28.20" fill="#f58ac0" stroke="#333" stroke-width="0.7"/>
<line x1="186.05" y1="674.38" x2="198.15" y2="674.38" stroke="#222" stroke-width="1.1"/>
<line x1="212.25" y1="676.08" x2="212.25" y2="643.01" stroke="#555" stroke-width="0.7"/>
<line x1="212.25" y1="699.40" x2="212.25" y2="699.40" stroke="#555" stroke-width="0.7"/>
<rect x="206.20" y="676.08" width="12.10" height="23.32" fill="#b3a824" stroke="#333" stroke-width="0.7"/>
<line x1="206.20" y1="689.44" x2="218.30" y2="689.44" stroke="#222" stroke-width="1.1"/>
<rect x="59.10" y="590.50" width="165.20" height="113.90" fill="none" stroke="#555" stroke-width="1.1"/>
<line x1="57.10" y1="699.40" x2="59.10" y2="699.40" stroke="#333" stroke-width="0.6"/>
<text transform="translate(56.30,702.00) scale(0.900,1)" font-size="7.4" text-anchor="end" fill="#000" style="stroke:#000;stroke-width:0.3px">0.0</text>
<line x1="57.10" y1="678.20" x2="59.10" y2="678.20" stroke="#333" stroke-width="0.6"/>
<text transform="translate(56.30,680.80) scale(0.900,1)" font-size="7.4" text-anchor="end" fill="#000" style="stroke:#000;stroke-width:0.3px">0.1</text>
<line x1="57.10" y1="657.00" x2="59.10" y2="657.00" stroke="#333" stroke-width="0.6"/>
<text transform="translate(56.30,659.60) scale(0.900,1)" font-size="7.4" text-anchor="end" fill="#000" style="stroke:#000;stroke-width:0.3px">0.2</text>
<line x1="57.10" y1="635.80" x2="59.10" y2="635.80" stroke="#333" stroke-width="0.6"/>
<text transform="translate(56.30,638.40) scale(0.900,1)" font-size="7.4" text-anchor="end" fill="#000" style="stroke:#000;stroke-width:0.3px">0.3</text>
<line x1="57.10" y1="614.60" x2="59.10" y2="614.60" stroke="#333" stroke-width="0.6"/>
<text transform="translate(56.30,617.20) scale(0.900,1)" font-size="7.4" text-anchor="end" fill="#000" style="stroke:#000;stroke-width:0.3px">0.4</text>
<line x1="57.10" y1="593.40" x2="59.10" y2="593.40" stroke="#333" stroke-width="0.6"/>
<text transform="translate(56.30,596.00) scale(0.900,1)" font-size="7.4" text-anchor="end" fill="#000" style="stroke:#000;stroke-width:0.3px">0.5</text>
<text transform="translate(45.40,648.00) rotate(-90) scale(0.950,1)" font-size="7.6" text-anchor="middle" fill="#111">Score</text>
<line x1="71.20" y1="704.40" x2="71.20" y2="706.40" stroke="#333" stroke-width="0.6"/>
<text transform="translate(79.20,710.40) rotate(-60) scale(0.920,1)" font-size="8.0" text-anchor="end" fill="#222">Macrophages_IL1B</text>
<line x1="91.35" y1="704.40" x2="91.35" y2="706.40" stroke="#333" stroke-width="0.6"/>
<text transform="translate(99.35,710.40) rotate(-60) scale(0.920,1)" font-size="8.0" text-anchor="end" fill="#222">Macrophages_LYVE1</text>
<line x1="111.50" y1="704.40" x2="111.50" y2="706.40" stroke="#333" stroke-width="0.6"/>
<text transform="translate(119.50,710.40) rotate(-60) scale(0.920,1)" font-size="8.0" text-anchor="end" fill="#222">Macrophages_NUPR1</text>
<line x1="131.65" y1="704.40" x2="131.65" y2="706.40" stroke="#333" stroke-width="0.6"/>
<text transform="translate(139.65,710.40) rotate(-60) scale(0.920,1)" font-size="8.0" text-anchor="end" fill="#222">Macrophages_CX3CR1</text>
<line x1="151.80" y1="704.40" x2="151.80" y2="706.40" stroke="#333" stroke-width="0.6"/>
<text transform="translate(159.80,710.40) rotate(-60) scale(0.920,1)" font-size="8.0" text-anchor="end" fill="#222">Macrophages_CXCL3</text>
<line x1="171.95" y1="704.40" x2="171.95" y2="706.40" stroke="#333" stroke-width="0.6"/>
<text transform="translate(179.95,710.40) rotate(-60) scale(0.920,1)" font-size="8.0" text-anchor="end" fill="#222">Macrophages_FABP4</text>
<line x1="192.10" y1="704.40" x2="192.10" y2="706.40" stroke="#333" stroke-width="0.6"/>
<text transform="translate(200.10,710.40) rotate(-60) scale(0.920,1)" font-size="8.0" text-anchor="end" fill="#222">Macrophages_CXCL10</text>
<line x1="212.25" y1="704.40" x2="212.25" y2="706.40" stroke="#333" stroke-width="0.6"/>
<text transform="translate(220.25,710.40) rotate(-60) scale(0.920,1)" font-size="8.0" text-anchor="end" fill="#222">Macrophages_MKI67</text>
<text transform="translate(240.80,601.20)" font-size="13" text-anchor="start" fill="#000">(F)</text>
<text transform="translate(356.00,585.40) scale(0.900,1)" font-size="7.5" text-anchor="middle" fill="#111">Interferon responsed</text>
<line x1="286.10" y1="685.19" x2="286.10" y2="669.01" stroke="#555" stroke-width="0.7"/>
<line x1="286.10" y1="695.65" x2="286.10" y2="699.00" stroke="#555" stroke-width="0.7"/>
<rect x="280.05" y="685.19" width="12.10" height="10.46" fill="#2a64a4" stroke="#333" stroke-width="0.7"/>
<line x1="280.05" y1="690.91" x2="292.15" y2="690.91" stroke="#222" stroke-width="1.1"/>
<line x1="306.30" y1="682.82" x2="306.30" y2="667.47" stroke="#555" stroke-width="0.7"/>
<line x1="306.30" y1="693.14" x2="306.30" y2="699.00" stroke="#555" stroke-width="0.7"/>
<rect x="300.25" y="682.82" width="12.10" height="10.32" fill="#f47f20" stroke="#333" stroke-width="0.7"/>
<line x1="300.25" y1="689.24" x2="312.35" y2="689.24" stroke="#222" stroke-width="1.1"/>
<line x1="326.50" y1="652.55" x2="326.50" y2="609.72" stroke="#555" stroke-width="0.7"/>
<line x1="326.50" y1="681.84" x2="326.50" y2="699.00" stroke="#555" stroke-width="0.7"/>
<rect x="320.45" y="652.55" width="12.10" height="29.29" fill="#35a036" stroke="#333" stroke-width="0.7"/>
<line x1="320.45" y1="667.47" x2="332.55" y2="667.47" stroke="#222" stroke-width="1.1"/>
<line x1="346.70" y1="684.49" x2="346.70" y2="665.38" stroke="#555" stroke-width="0.7"/>
<line x1="346.70" y1="697.19" x2="346.70" y2="699.00" stroke="#555" stroke-width="0.7"/>
<rect x="340.65" y="684.49" width="12.10" height="12.69" fill="#e4382b" stroke="#333" stroke-width="0.7"/>
<line x1="340.65" y1="690.91" x2="352.75" y2="690.91" stroke="#222" stroke-width="1.1"/>
<line x1="366.90" y1="663.29" x2="366.90" y2="626.46" stroke="#555" stroke-width="0.7"/>
<line x1="366.90" y1="689.51" x2="366.90" y2="699.00" stroke="#555" stroke-width="0.7"/>
<rect x="360.85" y="663.29" width="12.10" height="26.23" fill="#ab5ec9" stroke="#333" stroke-width="0.7"/>
<line x1="360.85" y1="678.63" x2="372.95" y2="678.63" stroke="#222" stroke-width="1.1"/>
<line x1="387.10" y1="659.52" x2="387.10" y2="625.76" stroke="#555" stroke-width="0.7"/>
<line x1="387.10" y1="685.05" x2="387.10" y2="699.00" stroke="#555" stroke-width="0.7"/>
<rect x="381.05" y="659.52" width="12.10" height="25.53" fill="#a9545e" stroke="#333" stroke-width="0.7"/>
<line x1="381.05" y1="673.47" x2="393.15" y2="673.47" stroke="#222" stroke-width="1.1"/>
<line x1="407.30" y1="632.60" x2="407.30" y2="596.19" stroke="#555" stroke-width="0.7"/>
<line x1="407.30" y1="670.54" x2="407.30" y2="699.00" stroke="#555" stroke-width="0.7"/>
<rect x="401.25" y="632.60" width="12.10" height="37.94" fill="#f58ac0" stroke="#333" stroke-width="0.7"/>
<line x1="401.25" y1="648.64" x2="413.35" y2="648.64" stroke="#222" stroke-width="1.1"/>
<line x1="427.50" y1="675.56" x2="427.50" y2="641.53" stroke="#555" stroke-width="0.7"/>
<line x1="427.50" y1="699.00" x2="427.50" y2="699.00" stroke="#555" stroke-width="0.7"/>
<rect x="421.45" y="675.56" width="12.10" height="23.44" fill="#b3a824" stroke="#333" stroke-width="0.7"/>
<line x1="421.45" y1="690.35" x2="433.55" y2="690.35" stroke="#222" stroke-width="1.1"/>
<rect x="274.40" y="590.80" width="164.80" height="113.50" fill="none" stroke="#555" stroke-width="1.1"/>
<line x1="272.40" y1="699.00" x2="274.40" y2="699.00" stroke="#333" stroke-width="0.6"/>
<text transform="translate(271.60,701.60) scale(0.900,1)" font-size="7.4" text-anchor="end" fill="#000" style="stroke:#000;stroke-width:0.3px">0.0</text>
<line x1="272.40" y1="671.10" x2="274.40" y2="671.10" stroke="#333" stroke-width="0.6"/>
<text transform="translate(271.60,673.70) scale(0.900,1)" font-size="7.4" text-anchor="end" fill="#000" style="stroke:#000;stroke-width:0.3px">0.2</text>
<line x1="272.40" y1="643.20" x2="274.40" y2="643.20" stroke="#333" stroke-width="0.6"/>
<text transform="translate(271.60,645.80) scale(0.900,1)" font-size="7.4" text-anchor="end" fill="#000" style="stroke:#000;stroke-width:0.3px">0.4</text>
<line x1="272.40" y1="615.30" x2="274.40" y2="615.30" stroke="#333" stroke-width="0.6"/>
<text transform="translate(271.60,617.90) scale(0.900,1)" font-size="7.4" text-anchor="end" fill="#000" style="stroke:#000;stroke-width:0.3px">0.6</text>
<text transform="translate(261.00,647.00) rotate(-90) scale(0.950,1)" font-size="7.6" text-anchor="middle" fill="#111">Score</text>
<line x1="286.10" y1="704.30" x2="286.10" y2="706.30" stroke="#333" stroke-width="0.6"/>
<text transform="translate(294.10,710.30) rotate(-60) scale(0.920,1)" font-size="8.0" text-anchor="end" fill="#222">Macrophages_IL1B</text>
<line x1="306.30" y1="704.30" x2="306.30" y2="706.30" stroke="#333" stroke-width="0.6"/>
<text transform="translate(314.30,710.30) rotate(-60) scale(0.920,1)" font-size="8.0" text-anchor="end" fill="#222">Macrophages_LYVE1</text>
<line x1="326.50" y1="704.30" x2="326.50" y2="706.30" stroke="#333" stroke-width="0.6"/>
<text transform="translate(334.50,710.30) rotate(-60) scale(0.920,1)" font-size="8.0" text-anchor="end" fill="#222">Macrophages_NUPR1</text>
<line x1="346.70" y1="704.30" x2="346.70" y2="706.30" stroke="#333" stroke-width="0.6"/>
<text transform="translate(354.70,710.30) rotate(-60) scale(0.920,1)" font-size="8.0" text-anchor="end" fill="#222">Macrophages_CX3CR1</text>
<line x1="366.90" y1="704.30" x2="366.90" y2="706.30" stroke="#333" stroke-width="0.6"/>
<text transform="translate(374.90,710.30) rotate(-60) scale(0.920,1)" font-size="8.0" text-anchor="end" fill="#222">Macrophages_CXCL3</text>
<line x1="387.10" y1="704.30" x2="387.10" y2="706.30" stroke="#333" stroke-width="0.6"/>
<text transform="translate(395.10,710.30) rotate(-60) scale(0.920,1)" font-size="8.0" text-anchor="end" fill="#222">Macrophages_FABP4</text>
<line x1="407.30" y1="704.30" x2="407.30" y2="706.30" stroke="#333" stroke-width="0.6"/>
<text transform="translate(415.30,710.30) rotate(-60) scale(0.920,1)" font-size="8.0" text-anchor="end" fill="#222">Macrophages_CXCL10</text>
<line x1="427.50" y1="704.30" x2="427.50" y2="706.30" stroke="#333" stroke-width="0.6"/>
<text transform="translate(435.50,710.30) rotate(-60) scale(0.920,1)" font-size="8.0" text-anchor="end" fill="#222">Macrophages_MKI67</text>
<text transform="translate(453.40,601.20)" font-size="13" text-anchor="start" fill="#000">(G)</text>
<text transform="translate(575.20,585.00) scale(0.900,1)" font-size="7.5" text-anchor="middle" fill="#111">Pro−inflammatory</text>
<line x1="507.00" y1="639.61" x2="507.00" y2="622.14" stroke="#555" stroke-width="0.7"/>
<line x1="507.00" y1="651.67" x2="507.00" y2="669.78" stroke="#555" stroke-width="0.7"/>
<rect x="500.95" y="639.61" width="12.10" height="12.07" fill="#2a64a4" stroke="#333" stroke-width="0.7"/>
<line x1="500.95" y1="645.64" x2="513.05" y2="645.64" stroke="#222" stroke-width="1.1"/>
<line x1="527.15" y1="641.27" x2="527.15" y2="606.35" stroke="#555" stroke-width="0.7"/>
<line x1="527.15" y1="675.94" x2="527.15" y2="697.00" stroke="#555" stroke-width="0.7"/>
<rect x="521.10" y="641.27" width="12.10" height="34.67" fill="#f47f20" stroke="#333" stroke-width="0.7"/>
<line x1="521.10" y1="658.48" x2="533.20" y2="658.48" stroke="#222" stroke-width="1.1"/>
<line x1="547.30" y1="637.29" x2="547.30" y2="600.96" stroke="#555" stroke-width="0.7"/>
<line x1="547.30" y1="669.78" x2="547.30" y2="697.00" stroke="#555" stroke-width="0.7"/>
<rect x="541.25" y="637.29" width="12.10" height="32.49" fill="#35a036" stroke="#333" stroke-width="0.7"/>
<line x1="541.25" y1="651.67" x2="553.35" y2="651.67" stroke="#222" stroke-width="1.1"/>
<line x1="567.45" y1="654.37" x2="567.45" y2="626.12" stroke="#555" stroke-width="0.7"/>
<line x1="567.45" y1="674.53" x2="567.45" y2="697.00" stroke="#555" stroke-width="0.7"/>
<rect x="561.40" y="654.37" width="12.10" height="20.16" fill="#e4382b" stroke="#333" stroke-width="0.7"/>
<line x1="561.40" y1="662.33" x2="573.50" y2="662.33" stroke="#222" stroke-width="1.1"/>
<line x1="587.60" y1="622.53" x2="587.60" y2="593.89" stroke="#555" stroke-width="0.7"/>
<line x1="587.60" y1="651.42" x2="587.60" y2="692.76" stroke="#555" stroke-width="0.7"/>
<rect x="581.55" y="622.53" width="12.10" height="28.89" fill="#ab5ec9" stroke="#333" stroke-width="0.7"/>
<line x1="581.55" y1="636.40" x2="593.65" y2="636.40" stroke="#222" stroke-width="1.1"/>
<line x1="607.75" y1="647.31" x2="607.75" y2="607.76" stroke="#555" stroke-width="0.7"/>
<line x1="607.75" y1="686.86" x2="607.75" y2="697.00" stroke="#555" stroke-width="0.7"/>
<rect x="601.70" y="647.31" width="12.10" height="39.55" fill="#a9545e" stroke="#333" stroke-width="0.7"/>
<line x1="601.70" y1="668.24" x2="613.80" y2="668.24" stroke="#222" stroke-width="1.1"/>
<line x1="627.90" y1="651.42" x2="627.90" y2="612.13" stroke="#555" stroke-width="0.7"/>
<line x1="627.90" y1="680.44" x2="627.90" y2="697.00" stroke="#555" stroke-width="0.7"/>
<rect x="621.85" y="651.42" width="12.10" height="29.02" fill="#f58ac0" stroke="#333" stroke-width="0.7"/>
<line x1="621.85" y1="664.26" x2="633.95" y2="664.26" stroke="#222" stroke-width="1.1"/>
<line x1="648.05" y1="646.03" x2="648.05" y2="616.49" stroke="#555" stroke-width="0.7"/>
<line x1="648.05" y1="680.69" x2="648.05" y2="697.00" stroke="#555" stroke-width="0.7"/>
<rect x="642.00" y="646.03" width="12.10" height="34.67" fill="#b3a824" stroke="#333" stroke-width="0.7"/>
<line x1="642.00" y1="661.95" x2="654.10" y2="661.95" stroke="#222" stroke-width="1.1"/>
<rect x="495.30" y="588.50" width="165.40" height="114.00" fill="none" stroke="#555" stroke-width="1.1"/>
<line x1="493.30" y1="697.00" x2="495.30" y2="697.00" stroke="#333" stroke-width="0.6"/>
<text transform="translate(492.50,699.60) scale(0.900,1)" font-size="7.4" text-anchor="end" fill="#000" style="stroke:#000;stroke-width:0.3px">0.0</text>
<line x1="493.30" y1="671.32" x2="495.30" y2="671.32" stroke="#333" stroke-width="0.6"/>
<text transform="translate(492.50,673.92) scale(0.900,1)" font-size="7.4" text-anchor="end" fill="#000" style="stroke:#000;stroke-width:0.3px">0.2</text>
<line x1="493.30" y1="645.64" x2="495.30" y2="645.64" stroke="#333" stroke-width="0.6"/>
<text transform="translate(492.50,648.24) scale(0.900,1)" font-size="7.4" text-anchor="end" fill="#000" style="stroke:#000;stroke-width:0.3px">0.4</text>
<line x1="493.30" y1="619.96" x2="495.30" y2="619.96" stroke="#333" stroke-width="0.6"/>
<text transform="translate(492.50,622.56) scale(0.900,1)" font-size="7.4" text-anchor="end" fill="#000" style="stroke:#000;stroke-width:0.3px">0.6</text>
<line x1="493.30" y1="594.28" x2="495.30" y2="594.28" stroke="#333" stroke-width="0.6"/>
<text transform="translate(492.50,596.88) scale(0.900,1)" font-size="7.4" text-anchor="end" fill="#000" style="stroke:#000;stroke-width:0.3px">0.8</text>
<text transform="translate(481.60,645.00) rotate(-90) scale(0.950,1)" font-size="7.6" text-anchor="middle" fill="#111">Score</text>
<line x1="507.00" y1="702.50" x2="507.00" y2="704.50" stroke="#333" stroke-width="0.6"/>
<text transform="translate(515.40,710.50) rotate(-60) scale(0.920,1)" font-size="8.0" text-anchor="end" fill="#222">Macrophages_IL1B</text>
<line x1="527.15" y1="702.50" x2="527.15" y2="704.50" stroke="#333" stroke-width="0.6"/>
<text transform="translate(535.55,710.50) rotate(-60) scale(0.920,1)" font-size="8.0" text-anchor="end" fill="#222">Macrophages_LYVE1</text>
<line x1="547.30" y1="702.50" x2="547.30" y2="704.50" stroke="#333" stroke-width="0.6"/>
<text transform="translate(555.70,710.50) rotate(-60) scale(0.920,1)" font-size="8.0" text-anchor="end" fill="#222">Macrophages_NUPR1</text>
<line x1="567.45" y1="702.50" x2="567.45" y2="704.50" stroke="#333" stroke-width="0.6"/>
<text transform="translate(575.85,710.50) rotate(-60) scale(0.920,1)" font-size="8.0" text-anchor="end" fill="#222">Macrophages_CX3CR1</text>
<line x1="587.60" y1="702.50" x2="587.60" y2="704.50" stroke="#333" stroke-width="0.6"/>
<text transform="translate(596.00,710.50) rotate(-60) scale(0.920,1)" font-size="8.0" text-anchor="end" fill="#222">Macrophages_CXCL3</text>
<line x1="607.75" y1="702.50" x2="607.75" y2="704.50" stroke="#333" stroke-width="0.6"/>
<text transform="translate(616.15,710.50) rotate(-60) scale(0.920,1)" font-size="8.0" text-anchor="end" fill="#222">Macrophages_FABP4</text>
<line x1="627.90" y1="702.50" x2="627.90" y2="704.50" stroke="#333" stroke-width="0.6"/>
<text transform="translate(636.30,710.50) rotate(-60) scale(0.920,1)" font-size="8.0" text-anchor="end" fill="#222">Macrophages_CXCL10</text>
<line x1="648.05" y1="702.50" x2="648.05" y2="704.50" stroke="#333" stroke-width="0.6"/>
<text transform="translate(656.45,710.50) rotate(-60) scale(0.920,1)" font-size="8.0" text-anchor="end" fill="#222">Macrophages_MKI67</text>
<text transform="translate(326.90,380.10)" font-size="13" text-anchor="start" fill="#000">(D)</text>
<line x1="435.30" y1="385.30" x2="435.30" y2="516.00" stroke="#e3e3e3" stroke-width="0.8"/>
<line x1="435.30" y1="385.30" x2="560.70" y2="385.30" stroke="#e3e3e3" stroke-width="0.8"/>
<line x1="450.98" y1="385.30" x2="450.98" y2="516.00" stroke="#e3e3e3" stroke-width="0.8"/>
<line x1="435.30" y1="401.64" x2="560.70" y2="401.64" stroke="#e3e3e3" stroke-width="0.8"/>
<line x1="466.65" y1="385.30" x2="466.65" y2="516.00" stroke="#e3e3e3" stroke-width="0.8"/>
<line x1="435.30" y1="417.98" x2="560.70" y2="417.98" stroke="#e3e3e3" stroke-width="0.8"/>
<line x1="482.33" y1="385.30" x2="482.33" y2="516.00" stroke="#e3e3e3" stroke-width="0.8"/>
<line x1="435.30" y1="434.31" x2="560.70" y2="434.31" stroke="#e3e3e3" stroke-width="0.8"/>
<line x1="498.00" y1="385.30" x2="498.00" y2="516.00" stroke="#e3e3e3" stroke-width="0.8"/>
<line x1="435.30" y1="450.65" x2="560.70" y2="450.65" stroke="#e3e3e3" stroke-width="0.8"/>
<line x1="513.68" y1="385.30" x2="513.68" y2="516.00" stroke="#e3e3e3" stroke-width="0.8"/>
<line x1="435.30" y1="466.99" x2="560.70" y2="466.99" stroke="#e3e3e3" stroke-width="0.8"/>
<line x1="529.35" y1="385.30" x2="529.35" y2="516.00" stroke="#e3e3e3" stroke-width="0.8"/>
<line x1="435.30" y1="483.32" x2="560.70" y2="483.32" stroke="#e3e3e3" stroke-width="0.8"/>
<line x1="545.03" y1="385.30" x2="545.03" y2="516.00" stroke="#e3e3e3" stroke-width="0.8"/>
<line x1="435.30" y1="499.66" x2="560.70" y2="499.66" stroke="#e3e3e3" stroke-width="0.8"/>
<line x1="560.70" y1="385.30" x2="560.70" y2="516.00" stroke="#e3e3e3" stroke-width="0.8"/>
<line x1="435.30" y1="516.00" x2="560.70" y2="516.00" stroke="#e3e3e3" stroke-width="0.8"/>
<circle cx="443.14" cy="393.47" r="4.45" fill="#a3bfa5"/>
<circle cx="458.81" cy="393.47" r="1.20" fill="#fbc586"/>
<circle cx="474.49" cy="393.47" r="2.15" fill="#f08060"/>
<circle cx="490.16" cy="393.47" r="4.15" fill="#e44e4e"/>
<circle cx="505.84" cy="393.47" r="4.15" fill="#a3bfa5"/>
<circle cx="521.51" cy="393.47" r="2.65" fill="#a3bfa5"/>
<circle cx="537.19" cy="393.47" r="0.80" fill="#7fa8a0"/>
<circle cx="552.86" cy="393.47" r="4.45" fill="#6e97a6"/>
<text transform="translate(428.50,397.97)" font-size="6.9" text-anchor="end" fill="#1a1a1a" style="letter-spacing:0.09px;stroke:#1a1a1a;stroke-width:0.36px">Macrophages_IL1B</text>
<circle cx="443.14" cy="409.81" r="3.35" fill="#8fb3ad"/>
<circle cx="458.81" cy="409.81" r="1.00" fill="#a6c08f"/>
<circle cx="474.49" cy="409.81" r="1.70" fill="#b1c7a0"/>
<circle cx="490.16" cy="409.81" r="2.95" fill="#a8c2a6"/>
<circle cx="505.84" cy="409.81" r="2.95" fill="#8db0ad"/>
<circle cx="521.51" cy="409.81" r="1.70" fill="#5f8da6"/>
<circle cx="537.19" cy="409.81" r="0.60" fill="#d5e2d0"/>
<circle cx="552.86" cy="409.81" r="3.55" fill="#3c7aa0"/>
<text transform="translate(428.50,414.31)" font-size="6.9" text-anchor="end" fill="#1a1a1a" style="letter-spacing:0.09px;stroke:#1a1a1a;stroke-width:0.36px">Macrophages_LYVE1</text>
<circle cx="443.14" cy="426.14" r="4.95" fill="#d5dbb3"/>
<circle cx="458.81" cy="426.14" r="1.40" fill="#fbd98e"/>
<circle cx="474.49" cy="426.14" r="0.90" fill="#4f88a8"/>
<circle cx="490.16" cy="426.14" r="3.75" fill="#d5dbb3"/>
<circle cx="505.84" cy="426.14" r="4.45" fill="#b6caa9"/>
<circle cx="521.51" cy="426.14" r="3.75" fill="#eeeeb8"/>
<circle cx="537.19" cy="426.14" r="1.00" fill="#9fbfa8"/>
<circle cx="552.86" cy="426.14" r="5.70" fill="#e0e1b7"/>
<text transform="translate(428.50,430.64)" font-size="6.9" text-anchor="end" fill="#1a1a1a" style="letter-spacing:0.09px;stroke:#1a1a1a;stroke-width:0.36px">Macrophages_NUPR1</text>
<circle cx="443.14" cy="442.48" r="3.45" fill="#bccfa9"/>
<circle cx="458.81" cy="442.48" r="0.80" fill="#d6d88a"/>
<circle cx="474.49" cy="442.48" r="1.70" fill="#f4906a"/>
<circle cx="490.16" cy="442.48" r="2.45" fill="#7ba2ad"/>
<circle cx="505.84" cy="442.48" r="3.45" fill="#adc6a6"/>
<circle cx="521.51" cy="442.48" r="2.15" fill="#a3bfa5"/>
<circle cx="537.19" cy="442.48" r="0.80" fill="#f8f2b0"/>
<circle cx="552.86" cy="442.48" r="3.75" fill="#6e97a6"/>
<text transform="translate(428.50,446.98)" font-size="6.9" text-anchor="end" fill="#1a1a1a" style="letter-spacing:0.09px;stroke:#1a1a1a;stroke-width:0.36px">Macrophages_CX3CR1</text>
<circle cx="443.14" cy="458.82" r="4.45" fill="#86aab0"/>
<circle cx="458.81" cy="458.82" r="1.20" fill="#98b7aa"/>
<circle cx="474.49" cy="458.82" r="1.00" fill="#6a9ab0"/>
<circle cx="490.16" cy="458.82" r="3.75" fill="#f9f4b8"/>
<circle cx="505.84" cy="458.82" r="4.95" fill="#d1dab2"/>
<circle cx="521.51" cy="458.82" r="3.75" fill="#adc6a6"/>
<circle cx="537.19" cy="458.82" r="0.80" fill="#8fb3ad"/>
<circle cx="552.86" cy="458.82" r="5.60" fill="#d3d9b0"/>
<text transform="translate(428.50,463.32)" font-size="6.9" text-anchor="end" fill="#1a1a1a" style="letter-spacing:0.09px;stroke:#1a1a1a;stroke-width:0.36px">Macrophages_CXCL3</text>
<circle cx="443.14" cy="475.16" r="4.95" fill="#96b6ad"/>
<circle cx="458.81" cy="475.16" r="1.00" fill="#4e86a8"/>
<circle cx="474.49" cy="475.16" r="0.60" fill="#8fb3ad"/>
<circle cx="490.16" cy="475.16" r="2.95" fill="#5f8fa8"/>
<circle cx="505.84" cy="475.16" r="6.50" fill="#d33c48"/>
<circle cx="521.51" cy="475.16" r="2.65" fill="#7aa3ad"/>
<circle cx="537.19" cy="475.16" r="0.80" fill="#cfe0d6"/>
<circle cx="552.86" cy="475.16" r="6.10" fill="#f5f3b9"/>
<text transform="translate(428.50,479.66)" font-size="6.9" text-anchor="end" fill="#1a1a1a" style="letter-spacing:0.09px;stroke:#1a1a1a;stroke-width:0.36px">Macrophages_FABP4</text>
<circle cx="443.14" cy="491.49" r="5.70" fill="#d53d48"/>
<circle cx="458.81" cy="491.49" r="1.40" fill="#f2875d"/>
<circle cx="474.49" cy="491.49" r="1.40" fill="#eeeeaa"/>
<circle cx="490.16" cy="491.49" r="3.35" fill="#b6caa3"/>
<circle cx="505.84" cy="491.49" r="3.55" fill="#9ebba8"/>
<circle cx="521.51" cy="491.49" r="4.15" fill="#de4448"/>
<circle cx="537.19" cy="491.49" r="1.75" fill="#d93c48"/>
<circle cx="552.86" cy="491.49" r="5.70" fill="#f7a07a"/>
<text transform="translate(428.50,495.99)" font-size="6.9" text-anchor="end" fill="#1a1a1a" style="letter-spacing:0.09px;stroke:#1a1a1a;stroke-width:0.36px">Macrophages_CXCL10</text>
<circle cx="443.14" cy="507.83" r="3.35" fill="#a3bfa5"/>
<circle cx="458.81" cy="507.83" r="0.80" fill="#3e7ca8"/>
<circle cx="474.49" cy="507.83" r="1.20" fill="#86aab0"/>
<circle cx="490.16" cy="507.83" r="3.15" fill="#7aa3ad"/>
<circle cx="505.84" cy="507.83" r="3.35" fill="#8fb3ad"/>
<circle cx="521.51" cy="507.83" r="2.45" fill="#b6caa3"/>
<circle cx="537.19" cy="507.83" r="1.20" fill="#b6caa3"/>
<circle cx="552.86" cy="507.83" r="4.45" fill="#fbb882"/>
<text transform="translate(428.50,512.33)" font-size="6.9" text-anchor="end" fill="#1a1a1a" style="letter-spacing:0.09px;stroke:#1a1a1a;stroke-width:0.36px">Macrophages_MKI67</text>
<text transform="translate(445.74,518.30) rotate(-90) scale(0.960,1)" font-size="7.7" text-anchor="end" fill="#222">CD40</text>
<text transform="translate(461.41,518.30) rotate(-90) scale(0.960,1)" font-size="7.7" text-anchor="end" fill="#222">ICOSLG</text>
<text transform="translate(477.09,518.30) rotate(-90) scale(0.960,1)" font-size="7.7" text-anchor="end" fill="#222">TNFSF18</text>
<text transform="translate(492.76,518.30) rotate(-90) scale(0.960,1)" font-size="7.7" text-anchor="end" fill="#222">TNFSF9</text>
<text transform="translate(508.44,518.30) rotate(-90) scale(0.960,1)" font-size="7.7" text-anchor="end" fill="#222">CD276</text>
<text transform="translate(524.11,518.30) rotate(-90) scale(0.960,1)" font-size="7.7" text-anchor="end" fill="#222">CD80</text>
<text transform="translate(539.79,518.30) rotate(-90) scale(0.960,1)" font-size="7.7" text-anchor="end" fill="#222">CD70</text>
<text transform="translate(555.46,518.30) rotate(-90) scale(0.960,1)" font-size="7.7" text-anchor="end" fill="#222">CD48</text>
<text transform="translate(569.90,418.00) scale(0.920,1)" font-size="7.2" text-anchor="start" fill="#111">pct.exp</text>
<circle cx="577.10" cy="428.60" r="3.30" fill="#000"/>
<text transform="translate(588.90,431.40) scale(0.880,1)" font-size="8.0" text-anchor="start" fill="#111">10</text>
<circle cx="577.10" cy="441.10" r="4.20" fill="#000"/>
<text transform="translate(588.90,443.90) scale(0.880,1)" font-size="8.0" text-anchor="start" fill="#111">20</text>
<circle cx="577.10" cy="453.90" r="5.00" fill="#000"/>
<text transform="translate(588.90,456.70) scale(0.880,1)" font-size="8.0" text-anchor="start" fill="#111">30</text>
<circle cx="577.10" cy="467.70" r="5.80" fill="#000"/>
<text transform="translate(588.90,470.50) scale(0.880,1)" font-size="8.0" text-anchor="start" fill="#111">40</text>
<circle cx="577.10" cy="482.50" r="6.45" fill="#000"/>
<text transform="translate(588.90,485.30) scale(0.880,1)" font-size="8.0" text-anchor="start" fill="#111">50</text>
<text transform="translate(603.80,418.00) scale(0.920,1)" font-size="7.2" text-anchor="start" fill="#111">avg.exp.scaled</text>
<defs><linearGradient id="gD" x1="0" y1="0" x2="0" y2="1"><stop offset="0" stop-color="#d73f4c"/><stop offset="0.12" stop-color="#e9685c"/><stop offset="0.37" stop-color="#fca772"/><stop offset="0.48" stop-color="#f9f0b4"/><stop offset="0.63" stop-color="#d1dcc0"/><stop offset="0.88" stop-color="#6a9bb2"/><stop offset="1" stop-color="#3b78a4"/></linearGradient></defs>
<rect x="603.40" y="421.90" width="13.40" height="63.80" fill="url(#gD)"/>
<line x1="603.40" y1="429.60" x2="606.00" y2="429.60" stroke="#fff" stroke-width="0.6"/>
<line x1="614.20" y1="429.60" x2="616.80" y2="429.60" stroke="#fff" stroke-width="0.6"/>
<text transform="translate(618.60,432.40) scale(0.880,1)" font-size="8.0" text-anchor="start" fill="#111">2</text>
<line x1="603.40" y1="445.30" x2="606.00" y2="445.30" stroke="#fff" stroke-width="0.6"/>
<line x1="614.20" y1="445.30" x2="616.80" y2="445.30" stroke="#fff" stroke-width="0.6"/>
<text transform="translate(618.60,448.10) scale(0.880,1)" font-size="8.0" text-anchor="start" fill="#111">1</text>
<line x1="603.40" y1="461.80" x2="606.00" y2="461.80" stroke="#fff" stroke-width="0.6"/>
<line x1="614.20" y1="461.80" x2="616.80" y2="461.80" stroke="#fff" stroke-width="0.6"/>
<text transform="translate(618.60,464.60) scale(0.880,1)" font-size="8.0" text-anchor="start" fill="#111">0</text>
<line x1="603.40" y1="478.20" x2="606.00" y2="478.20" stroke="#fff" stroke-width="0.6"/>
<line x1="614.20" y1="478.20" x2="616.80" y2="478.20" stroke="#fff" stroke-width="0.6"/>
<text transform="translate(618.60,481.00) scale(0.880,1)" font-size="8.0" text-anchor="start" fill="#111">−1</text>
<text transform="translate(13.80,793.60)" font-size="13" text-anchor="start" fill="#000">(H)</text>
<rect x="85.30" y="803.00" width="569.10" height="94.40" fill="none" stroke="#b5b5b5" stroke-width="0.9"/>
<text transform="translate(364.10,799.80)" font-size="7.1" text-anchor="middle" fill="#111" style="letter-spacing:0.42px;stroke-width:0.34px">Metabolic pathway activity</text>
<text transform="translate(83.20,812.50)" font-size="7.2" text-anchor="end" fill="#111" style="letter-spacing:0.58px;stroke-width:0.32px">Macrophages_MKI67</text>
<line x1="83.30" y1="809.80" x2="85.30" y2="809.80" stroke="#555" stroke-width="0.6"/>
<ellipse cx="91.00" cy="809.80" rx="1.07" ry="0.92" fill="#f2cd81"/>
<ellipse cx="100.95" cy="809.80" rx="2.16" ry="1.86" fill="#dc5899"/>
<ellipse cx="110.90" cy="809.80" rx="1.74" ry="1.50" fill="#fa9896"/>
<ellipse cx="120.85" cy="809.80" rx="1.74" ry="1.50" fill="#fa9896"/>
<ellipse cx="130.80" cy="809.80" rx="1.74" ry="1.50" fill="#fa9896"/>
<ellipse cx="140.75" cy="809.80" rx="2.16" ry="1.86" fill="#dc5899"/>
<ellipse cx="150.70" cy="809.80" rx="2.77" ry="2.39" fill="#5b2c7e"/>
<ellipse cx="160.65" cy="809.80" rx="2.24" ry="1.93" fill="#d4489a"/>
<ellipse cx="170.60" cy="809.80" rx="1.96" ry="1.69" fill="#eb7898"/>
<ellipse cx="180.55" cy="809.80" rx="2.56" ry="2.21" fill="#8c3992"/>
<ellipse cx="190.50" cy="809.80" rx="1.74" ry="1.50" fill="#fa9896"/>
<ellipse cx="200.45" cy="809.80" rx="1.86" ry="1.60" fill="#f28897"/>
<ellipse cx="210.40" cy="809.80" rx="1.96" ry="1.69" fill="#eb7898"/>
<ellipse cx="220.35" cy="809.80" rx="2.33" ry="2.01" fill="#c24498"/>
<ellipse cx="230.30" cy="809.80" rx="1.74" ry="1.50" fill="#fa9896"/>
<ellipse cx="240.25" cy="809.80" rx="2.06" ry="1.78" fill="#e36898"/>
<ellipse cx="250.20" cy="809.80" rx="1.74" ry="1.50" fill="#fa9896"/>
<ellipse cx="260.15" cy="809.80" rx="2.70" ry="2.33" fill="#6b3087"/>
<ellipse cx="270.10" cy="809.80" rx="2.33" ry="2.01" fill="#c24498"/>
<ellipse cx="280.05" cy="809.80" rx="1.61" ry="1.39" fill="#f9a491"/>
<ellipse cx="290.00" cy="809.80" rx="1.66" ry="1.43" fill="#fa9f93"/>
<ellipse cx="299.95" cy="809.80" rx="1.86" ry="1.60" fill="#f28897"/>
<ellipse cx="309.90" cy="809.80" rx="1.74" ry="1.50" fill="#fa9896"/>
<ellipse cx="319.85" cy="809.80" rx="1.74" ry="1.50" fill="#fa9896"/>
<ellipse cx="329.80" cy="809.80" rx="2.56" ry="2.21" fill="#8c3992"/>
<ellipse cx="339.75" cy="809.80" rx="2.16" ry="1.86" fill="#dc5899"/>
<ellipse cx="349.70" cy="809.80" rx="1.96" ry="1.69" fill="#eb7898"/>
<ellipse cx="359.65" cy="809.80" rx="1.74" ry="1.50" fill="#fa9896"/>
<ellipse cx="369.60" cy="809.80" rx="1.86" ry="1.60" fill="#f28897"/>
<ellipse cx="379.55" cy="809.80" rx="1.29" ry="1.11" fill="#f6be86"/>
<ellipse cx="389.50" cy="809.80" rx="2.90" ry="2.50" fill="#3c236d"/>
<ellipse cx="399.45" cy="809.80" rx="1.07" ry="0.92" fill="#f2cd81"/>
<ellipse cx="409.40" cy="809.80" rx="1.86" ry="1.60" fill="#f28897"/>
<ellipse cx="419.35" cy="809.80" rx="1.37" ry="1.18" fill="#f8b888"/>
<ellipse cx="429.30" cy="809.80" rx="2.33" ry="2.01" fill="#c24498"/>
<ellipse cx="439.25" cy="809.80" rx="1.74" ry="1.50" fill="#fa9896"/>
<ellipse cx="449.20" cy="809.80" rx="1.86" ry="1.60" fill="#f28897"/>
<ellipse cx="459.15" cy="809.80" rx="1.74" ry="1.50" fill="#fa9896"/>
<ellipse cx="469.10" cy="809.80" rx="1.21" ry="1.04" fill="#f5c484"/>
<ellipse cx="479.05" cy="809.80" rx="2.49" ry="2.14" fill="#9e3d94"/>
<ellipse cx="489.00" cy="809.80" rx="2.90" ry="2.50" fill="#3c236d"/>
<ellipse cx="498.95" cy="809.80" rx="2.90" ry="2.50" fill="#3c236d"/>
<ellipse cx="508.90" cy="809.80" rx="2.33" ry="2.01" fill="#c24498"/>
<ellipse cx="518.85" cy="809.80" rx="1.66" ry="1.43" fill="#fa9f93"/>
<ellipse cx="528.80" cy="809.80" rx="1.74" ry="1.50" fill="#fa9896"/>
<ellipse cx="538.75" cy="809.80" rx="1.07" ry="0.92" fill="#f2cd81"/>
<ellipse cx="548.70" cy="809.80" rx="1.07" ry="0.92" fill="#f2cd81"/>
<ellipse cx="558.65" cy="809.80" rx="1.37" ry="1.18" fill="#f8b888"/>
<ellipse cx="568.60" cy="809.80" rx="1.74" ry="1.50" fill="#fa9896"/>
<ellipse cx="578.55" cy="809.80" rx="1.29" ry="1.11" fill="#f6be86"/>
<ellipse cx="588.50" cy="809.80" rx="2.90" ry="2.50" fill="#3c236d"/>
<ellipse cx="598.45" cy="809.80" rx="2.90" ry="2.50" fill="#3c236d"/>
<ellipse cx="608.40" cy="809.80" rx="2.06" ry="1.78" fill="#e36898"/>
<ellipse cx="618.35" cy="809.80" rx="1.86" ry="1.60" fill="#f28897"/>
<ellipse cx="628.30" cy="809.80" rx="1.90" ry="1.64" fill="#ef8297"/>
<ellipse cx="638.25" cy="809.80" rx="2.06" ry="1.78" fill="#e36898"/>
<ellipse cx="648.20" cy="809.80" rx="1.96" ry="1.69" fill="#eb7898"/>
<text transform="translate(83.20,824.05)" font-size="7.2" text-anchor="end" fill="#111" style="letter-spacing:0.58px;stroke-width:0.32px">Macrophages_CXCL10</text>
<line x1="83.30" y1="821.35" x2="85.30" y2="821.35" stroke="#555" stroke-width="0.6"/>
<ellipse cx="91.00" cy="821.35" rx="2.83" ry="2.44" fill="#4c2776"/>
<ellipse cx="100.95" cy="821.35" rx="2.90" ry="2.50" fill="#3c236d"/>
<ellipse cx="110.90" cy="821.35" rx="1.86" ry="1.60" fill="#f28897"/>
<ellipse cx="120.85" cy="821.35" rx="2.06" ry="1.78" fill="#e36898"/>
<ellipse cx="130.80" cy="821.35" rx="2.41" ry="2.08" fill="#b04096"/>
<ellipse cx="140.75" cy="821.35" rx="2.24" ry="1.93" fill="#d4489a"/>
<ellipse cx="150.70" cy="821.35" rx="2.16" ry="1.86" fill="#dc5899"/>
<ellipse cx="160.65" cy="821.35" rx="2.24" ry="1.93" fill="#d4489a"/>
<ellipse cx="170.60" cy="821.35" rx="2.16" ry="1.86" fill="#dc5899"/>
<ellipse cx="180.55" cy="821.35" rx="2.16" ry="1.86" fill="#dc5899"/>
<ellipse cx="190.50" cy="821.35" rx="2.24" ry="1.93" fill="#d4489a"/>
<ellipse cx="200.45" cy="821.35" rx="1.96" ry="1.69" fill="#eb7898"/>
<ellipse cx="210.40" cy="821.35" rx="1.86" ry="1.60" fill="#f28897"/>
<ellipse cx="220.35" cy="821.35" rx="2.16" ry="1.86" fill="#dc5899"/>
<ellipse cx="230.30" cy="821.35" rx="1.86" ry="1.60" fill="#f28897"/>
<ellipse cx="240.25" cy="821.35" rx="2.16" ry="1.86" fill="#dc5899"/>
<ellipse cx="250.20" cy="821.35" rx="1.56" ry="1.34" fill="#f9a98e"/>
<ellipse cx="260.15" cy="821.35" rx="1.86" ry="1.60" fill="#f28897"/>
<ellipse cx="270.10" cy="821.35" rx="2.24" ry="1.93" fill="#d4489a"/>
<ellipse cx="280.05" cy="821.35" rx="1.86" ry="1.60" fill="#f28897"/>
<ellipse cx="290.00" cy="821.35" rx="2.02" ry="1.74" fill="#e66e98"/>
<ellipse cx="299.95" cy="821.35" rx="1.86" ry="1.60" fill="#f28897"/>
<ellipse cx="309.90" cy="821.35" rx="1.86" ry="1.60" fill="#f28897"/>
<ellipse cx="319.85" cy="821.35" rx="2.06" ry="1.78" fill="#e36898"/>
<ellipse cx="329.80" cy="821.35" rx="1.74" ry="1.50" fill="#fa9896"/>
<ellipse cx="339.75" cy="821.35" rx="2.90" ry="2.50" fill="#3c236d"/>
<ellipse cx="349.70" cy="821.35" rx="2.16" ry="1.86" fill="#dc5899"/>
<ellipse cx="359.65" cy="821.35" rx="1.86" ry="1.60" fill="#f28897"/>
<ellipse cx="369.60" cy="821.35" rx="2.63" ry="2.27" fill="#7a3590"/>
<ellipse cx="379.55" cy="821.35" rx="1.86" ry="1.60" fill="#f28897"/>
<ellipse cx="389.50" cy="821.35" rx="1.66" ry="1.43" fill="#fa9f93"/>
<ellipse cx="399.45" cy="821.35" rx="1.86" ry="1.60" fill="#f28897"/>
<ellipse cx="409.40" cy="821.35" rx="2.16" ry="1.86" fill="#dc5899"/>
<ellipse cx="419.35" cy="821.35" rx="1.96" ry="1.69" fill="#eb7898"/>
<ellipse cx="429.30" cy="821.35" rx="2.16" ry="1.86" fill="#dc5899"/>
<ellipse cx="439.25" cy="821.35" rx="2.90" ry="2.50" fill="#3c236d"/>
<ellipse cx="449.20" cy="821.35" rx="2.90" ry="2.50" fill="#3c236d"/>
<ellipse cx="459.15" cy="821.35" rx="1.96" ry="1.69" fill="#eb7898"/>
<ellipse cx="469.10" cy="821.35" rx="1.37" ry="1.18" fill="#f8b888"/>
<ellipse cx="479.05" cy="821.35" rx="2.33" ry="2.01" fill="#c24498"/>
<ellipse cx="489.00" cy="821.35" rx="2.24" ry="1.93" fill="#d4489a"/>
<ellipse cx="498.95" cy="821.35" rx="1.96" ry="1.69" fill="#eb7898"/>
<ellipse cx="508.90" cy="821.35" rx="2.24" ry="1.93" fill="#d4489a"/>
<ellipse cx="518.85" cy="821.35" rx="1.74" ry="1.50" fill="#fa9896"/>
<ellipse cx="528.80" cy="821.35" rx="1.86" ry="1.60" fill="#f28897"/>
<ellipse cx="538.75" cy="821.35" rx="2.06" ry="1.78" fill="#e36898"/>
<ellipse cx="548.70" cy="821.35" rx="1.92" ry="1.66" fill="#ee7e97"/>
<ellipse cx="558.65" cy="821.35" rx="1.47" ry="1.26" fill="#f8b18b"/>
<ellipse cx="568.60" cy="821.35" rx="2.10" ry="1.81" fill="#e06299"/>
<ellipse cx="578.55" cy="821.35" rx="2.33" ry="2.01" fill="#c24498"/>
<ellipse cx="588.50" cy="821.35" rx="2.02" ry="1.74" fill="#e66e98"/>
<ellipse cx="598.45" cy="821.35" rx="2.16" ry="1.86" fill="#dc5899"/>
<ellipse cx="608.40" cy="821.35" rx="2.90" ry="2.50" fill="#3c236d"/>
<ellipse cx="618.35" cy="821.35" rx="2.63" ry="2.27" fill="#7a3590"/>
<ellipse cx="628.30" cy="821.35" rx="1.66" ry="1.43" fill="#fa9f93"/>
<ellipse cx="638.25" cy="821.35" rx="2.33" ry="2.01" fill="#c24498"/>
<ellipse cx="648.20" cy="821.35" rx="1.74" ry="1.50" fill="#fa9896"/>
<text transform="translate(83.20,835.60)" font-size="7.2" text-anchor="end" fill="#111" style="letter-spacing:0.58px;stroke-width:0.32px">Macrophages_FABP4</text>
<line x1="83.30" y1="832.90" x2="85.30" y2="832.90" stroke="#555" stroke-width="0.6"/>
<ellipse cx="91.00" cy="832.90" rx="2.56" ry="2.21" fill="#8c3992"/>
<ellipse cx="100.95" cy="832.90" rx="1.86" ry="1.60" fill="#f28897"/>
<ellipse cx="110.90" cy="832.90" rx="2.90" ry="2.50" fill="#3c236d"/>
<ellipse cx="120.85" cy="832.90" rx="0.87" ry="0.75" fill="#f0d67e"/>
<ellipse cx="130.80" cy="832.90" rx="2.06" ry="1.78" fill="#e36898"/>
<ellipse cx="140.75" cy="832.90" rx="2.90" ry="2.50" fill="#3c236d"/>
<ellipse cx="150.70" cy="832.90" rx="2.90" ry="2.50" fill="#3c236d"/>
<ellipse cx="160.65" cy="832.90" rx="2.70" ry="2.33" fill="#6b3087"/>
<ellipse cx="170.60" cy="832.90" rx="2.83" ry="2.44" fill="#4c2776"/>
<ellipse cx="180.55" cy="832.90" rx="2.83" ry="2.44" fill="#4c2776"/>
<ellipse cx="190.50" cy="832.90" rx="2.33" ry="2.01" fill="#c24498"/>
<ellipse cx="200.45" cy="832.90" rx="2.90" ry="2.50" fill="#3c236d"/>
<ellipse cx="210.40" cy="832.90" rx="2.90" ry="2.50" fill="#3c236d"/>
<ellipse cx="220.35" cy="832.90" rx="2.90" ry="2.50" fill="#3c236d"/>
<ellipse cx="230.30" cy="832.90" rx="2.83" ry="2.44" fill="#4c2776"/>
<ellipse cx="240.25" cy="832.90" rx="2.90" ry="2.50" fill="#3c236d"/>
<ellipse cx="250.20" cy="832.90" rx="2.90" ry="2.50" fill="#3c236d"/>
<ellipse cx="260.15" cy="832.90" rx="2.63" ry="2.27" fill="#7a3590"/>
<ellipse cx="270.10" cy="832.90" rx="2.83" ry="2.44" fill="#4c2776"/>
<ellipse cx="280.05" cy="832.90" rx="2.90" ry="2.50" fill="#3c236d"/>
<ellipse cx="290.00" cy="832.90" rx="2.90" ry="2.50" fill="#3c236d"/>
<ellipse cx="299.95" cy="832.90" rx="2.90" ry="2.50" fill="#3c236d"/>
<ellipse cx="309.90" cy="832.90" rx="0.94" ry="0.81" fill="#f0d37f"/>
<ellipse cx="319.85" cy="832.90" rx="2.90" ry="2.50" fill="#3c236d"/>
<ellipse cx="329.80" cy="832.90" rx="0.94" ry="0.81" fill="#f0d37f"/>
<ellipse cx="339.75" cy="832.90" rx="0.94" ry="0.81" fill="#f0d37f"/>
<ellipse cx="349.70" cy="832.90" rx="2.90" ry="2.50" fill="#3c236d"/>
<ellipse cx="359.65" cy="832.90" rx="2.90" ry="2.50" fill="#3c236d"/>
<ellipse cx="369.60" cy="832.90" rx="0.94" ry="0.81" fill="#f0d37f"/>
<ellipse cx="379.55" cy="832.90" rx="2.33" ry="2.01" fill="#c24498"/>
<ellipse cx="389.50" cy="832.90" rx="1.61" ry="1.39" fill="#f9a491"/>
<ellipse cx="399.45" cy="832.90" rx="2.90" ry="2.50" fill="#3c236d"/>
<ellipse cx="409.40" cy="832.90" rx="2.90" ry="2.50" fill="#3c236d"/>
<ellipse cx="419.35" cy="832.90" rx="2.90" ry="2.50" fill="#3c236d"/>
<ellipse cx="429.30" cy="832.90" rx="2.90" ry="2.50" fill="#3c236d"/>
<ellipse cx="439.25" cy="832.90" rx="2.24" ry="1.93" fill="#d4489a"/>
<ellipse cx="449.20" cy="832.90" rx="2.33" ry="2.01" fill="#c24498"/>
<ellipse cx="459.15" cy="832.90" rx="2.90" ry="2.50" fill="#3c236d"/>
<ellipse cx="469.10" cy="832.90" rx="2.90" ry="2.50" fill="#3c236d"/>
<ellipse cx="479.05" cy="832.90" rx="2.90" ry="2.50" fill="#3c236d"/>
<ellipse cx="489.00" cy="832.90" rx="2.56" ry="2.21" fill="#8c3992"/>
<ellipse cx="498.95" cy="832.90" rx="1.96" ry="1.69" fill="#eb7898"/>
<ellipse cx="508.90" cy="832.90" rx="2.90" ry="2.50" fill="#3c236d"/>
<ellipse cx="518.85" cy="832.90" rx="2.90" ry="2.50" fill="#3c236d"/>
<ellipse cx="528.80" cy="832.90" rx="2.90" ry="2.50" fill="#3c236d"/>
<ellipse cx="538.75" cy="832.90" rx="2.90" ry="2.50" fill="#3c236d"/>
<ellipse cx="548.70" cy="832.90" rx="2.90" ry="2.50" fill="#3c236d"/>
<ellipse cx="558.65" cy="832.90" rx="2.90" ry="2.50" fill="#3c236d"/>
<ellipse cx="568.60" cy="832.90" rx="2.90" ry="2.50" fill="#3c236d"/>
<ellipse cx="578.55" cy="832.90" rx="2.90" ry="2.50" fill="#3c236d"/>
<ellipse cx="588.50" cy="832.90" rx="2.41" ry="2.08" fill="#b04096"/>
<ellipse cx="598.45" cy="832.90" rx="2.24" ry="1.93" fill="#d4489a"/>
<ellipse cx="608.40" cy="832.90" rx="2.49" ry="2.14" fill="#9e3d94"/>
<ellipse cx="618.35" cy="832.90" rx="2.90" ry="2.50" fill="#3c236d"/>
<ellipse cx="628.30" cy="832.90" rx="2.56" ry="2.21" fill="#8c3992"/>
<ellipse cx="638.25" cy="832.90" rx="2.90" ry="2.50" fill="#3c236d"/>
<ellipse cx="648.20" cy="832.90" rx="2.90" ry="2.50" fill="#3c236d"/>
<text transform="translate(83.20,847.15)" font-size="7.2" text-anchor="end" fill="#111" style="letter-spacing:0.58px;stroke-width:0.32px">Macrophages_CXCL3</text>
<line x1="83.30" y1="844.45" x2="85.30" y2="844.45" stroke="#555" stroke-width="0.6"/>
<ellipse cx="91.00" cy="844.45" rx="2.90" ry="2.50" fill="#3c236d"/>
<ellipse cx="100.95" cy="844.45" rx="0.94" ry="0.81" fill="#f0d37f"/>
<ellipse cx="110.90" cy="844.45" rx="2.24" ry="1.93" fill="#d4489a"/>
<ellipse cx="120.85" cy="844.45" rx="1.61" ry="1.39" fill="#f9a491"/>
<ellipse cx="130.80" cy="844.45" rx="2.33" ry="2.01" fill="#c24498"/>
<ellipse cx="140.75" cy="844.45" rx="2.33" ry="2.01" fill="#c24498"/>
<ellipse cx="150.70" cy="844.45" rx="1.86" ry="1.60" fill="#f28897"/>
<ellipse cx="160.65" cy="844.45" rx="2.90" ry="2.50" fill="#3c236d"/>
<ellipse cx="170.60" cy="844.45" rx="2.49" ry="2.14" fill="#9e3d94"/>
<ellipse cx="180.55" cy="844.45" rx="2.56" ry="2.21" fill="#8c3992"/>
<ellipse cx="190.50" cy="844.45" rx="2.90" ry="2.50" fill="#3c236d"/>
<ellipse cx="200.45" cy="844.45" rx="2.24" ry="1.93" fill="#d4489a"/>
<ellipse cx="210.40" cy="844.45" rx="1.96" ry="1.69" fill="#eb7898"/>
<ellipse cx="220.35" cy="844.45" rx="2.83" ry="2.44" fill="#4c2776"/>
<ellipse cx="230.30" cy="844.45" rx="2.24" ry="1.93" fill="#d4489a"/>
<ellipse cx="240.25" cy="844.45" rx="2.33" ry="2.01" fill="#c24498"/>
<ellipse cx="250.20" cy="844.45" rx="1.96" ry="1.69" fill="#eb7898"/>
<ellipse cx="260.15" cy="844.45" rx="2.33" ry="2.01" fill="#c24498"/>
<ellipse cx="270.10" cy="844.45" rx="2.77" ry="2.39" fill="#5b2c7e"/>
<ellipse cx="280.05" cy="844.45" rx="2.16" ry="1.86" fill="#dc5899"/>
<ellipse cx="290.00" cy="844.45" rx="2.16" ry="1.86" fill="#dc5899"/>
<ellipse cx="299.95" cy="844.45" rx="2.10" ry="1.81" fill="#e06299"/>
<ellipse cx="309.90" cy="844.45" rx="1.86" ry="1.60" fill="#f28897"/>
<ellipse cx="319.85" cy="844.45" rx="2.33" ry="2.01" fill="#c24498"/>
<ellipse cx="329.80" cy="844.45" rx="1.66" ry="1.43" fill="#fa9f93"/>
<ellipse cx="339.75" cy="844.45" rx="1.21" ry="1.04" fill="#f5c484"/>
<ellipse cx="349.70" cy="844.45" rx="2.33" ry="2.01" fill="#c24498"/>
<ellipse cx="359.65" cy="844.45" rx="2.77" ry="2.39" fill="#5b2c7e"/>
<ellipse cx="369.60" cy="844.45" rx="2.33" ry="2.01" fill="#c24498"/>
<ellipse cx="379.55" cy="844.45" rx="2.90" ry="2.50" fill="#3c236d"/>
<ellipse cx="389.50" cy="844.45" rx="1.07" ry="0.92" fill="#f2cd81"/>
<ellipse cx="399.45" cy="844.45" rx="2.10" ry="1.81" fill="#e06299"/>
<ellipse cx="409.40" cy="844.45" rx="2.41" ry="2.08" fill="#b04096"/>
<ellipse cx="419.35" cy="844.45" rx="1.37" ry="1.18" fill="#f8b888"/>
<ellipse cx="429.30" cy="844.45" rx="2.44" ry="2.10" fill="#a93f95"/>
<ellipse cx="439.25" cy="844.45" rx="2.24" ry="1.93" fill="#d4489a"/>
<ellipse cx="449.20" cy="844.45" rx="2.24" ry="1.93" fill="#d4489a"/>
<ellipse cx="459.15" cy="844.45" rx="2.41" ry="2.08" fill="#b04096"/>
<ellipse cx="469.10" cy="844.45" rx="2.06" ry="1.78" fill="#e36898"/>
<ellipse cx="479.05" cy="844.45" rx="2.56" ry="2.21" fill="#8c3992"/>
<ellipse cx="489.00" cy="844.45" rx="2.41" ry="2.08" fill="#b04096"/>
<ellipse cx="498.95" cy="844.45" rx="1.96" ry="1.69" fill="#eb7898"/>
<ellipse cx="508.90" cy="844.45" rx="2.63" ry="2.27" fill="#7a3590"/>
<ellipse cx="518.85" cy="844.45" rx="2.24" ry="1.93" fill="#d4489a"/>
<ellipse cx="528.80" cy="844.45" rx="2.41" ry="2.08" fill="#b04096"/>
<ellipse cx="538.75" cy="844.45" rx="2.33" ry="2.01" fill="#c24498"/>
<ellipse cx="548.70" cy="844.45" rx="2.56" ry="2.21" fill="#8c3992"/>
<ellipse cx="558.65" cy="844.45" rx="1.96" ry="1.69" fill="#eb7898"/>
<ellipse cx="568.60" cy="844.45" rx="2.24" ry="1.93" fill="#d4489a"/>
<ellipse cx="578.55" cy="844.45" rx="2.63" ry="2.27" fill="#7a3590"/>
<ellipse cx="588.50" cy="844.45" rx="1.07" ry="0.92" fill="#f2cd81"/>
<ellipse cx="598.45" cy="844.45" rx="1.86" ry="1.60" fill="#f28897"/>
<ellipse cx="608.40" cy="844.45" rx="2.33" ry="2.01" fill="#c24498"/>
<ellipse cx="618.35" cy="844.45" rx="2.56" ry="2.21" fill="#8c3992"/>
<ellipse cx="628.30" cy="844.45" rx="2.83" ry="2.44" fill="#4c2776"/>
<ellipse cx="638.25" cy="844.45" rx="2.24" ry="1.93" fill="#d4489a"/>
<ellipse cx="648.20" cy="844.45" rx="2.56" ry="2.21" fill="#8c3992"/>
<text transform="translate(83.20,858.70)" font-size="7.2" text-anchor="end" fill="#111" style="letter-spacing:0.58px;stroke-width:0.32px">Macrophages_CX3CR1</text>
<line x1="83.30" y1="856.00" x2="85.30" y2="856.00" stroke="#555" stroke-width="0.6"/>
<ellipse cx="91.00" cy="856.00" rx="1.61" ry="1.39" fill="#f9a491"/>
<ellipse cx="100.95" cy="856.00" rx="2.49" ry="2.14" fill="#9e3d94"/>
<ellipse cx="110.90" cy="856.00" rx="1.47" ry="1.26" fill="#f8b18b"/>
<ellipse cx="120.85" cy="856.00" rx="2.90" ry="2.50" fill="#3c236d"/>
<ellipse cx="130.80" cy="856.00" rx="2.33" ry="2.01" fill="#c24498"/>
<ellipse cx="140.75" cy="856.00" rx="1.86" ry="1.60" fill="#f28897"/>
<ellipse cx="150.70" cy="856.00" rx="1.86" ry="1.60" fill="#f28897"/>
<ellipse cx="160.65" cy="856.00" rx="1.74" ry="1.50" fill="#fa9896"/>
<ellipse cx="170.60" cy="856.00" rx="1.56" ry="1.34" fill="#f9a98e"/>
<ellipse cx="180.55" cy="856.00" rx="1.56" ry="1.34" fill="#f9a98e"/>
<ellipse cx="190.50" cy="856.00" rx="1.07" ry="0.92" fill="#f2cd81"/>
<ellipse cx="200.45" cy="856.00" rx="1.47" ry="1.26" fill="#f8b18b"/>
<ellipse cx="210.40" cy="856.00" rx="1.74" ry="1.50" fill="#fa9896"/>
<ellipse cx="220.35" cy="856.00" rx="1.86" ry="1.60" fill="#f28897"/>
<ellipse cx="230.30" cy="856.00" rx="1.74" ry="1.50" fill="#fa9896"/>
<ellipse cx="240.25" cy="856.00" rx="1.37" ry="1.18" fill="#f8b888"/>
<ellipse cx="250.20" cy="856.00" rx="1.47" ry="1.26" fill="#f8b18b"/>
<ellipse cx="260.15" cy="856.00" rx="1.37" ry="1.18" fill="#f8b888"/>
<ellipse cx="270.10" cy="856.00" rx="1.74" ry="1.50" fill="#fa9896"/>
<ellipse cx="280.05" cy="856.00" rx="1.47" ry="1.26" fill="#f8b18b"/>
<ellipse cx="290.00" cy="856.00" rx="1.47" ry="1.26" fill="#f8b18b"/>
<ellipse cx="299.95" cy="856.00" rx="1.07" ry="0.92" fill="#f2cd81"/>
<ellipse cx="309.90" cy="856.00" rx="2.33" ry="2.01" fill="#c24498"/>
<ellipse cx="319.85" cy="856.00" rx="1.37" ry="1.18" fill="#f8b888"/>
<ellipse cx="329.80" cy="856.00" rx="2.90" ry="2.50" fill="#3c236d"/>
<ellipse cx="339.75" cy="856.00" rx="2.24" ry="1.93" fill="#d4489a"/>
<ellipse cx="349.70" cy="856.00" rx="1.47" ry="1.26" fill="#f8b18b"/>
<ellipse cx="359.65" cy="856.00" rx="1.74" ry="1.50" fill="#fa9896"/>
<ellipse cx="369.60" cy="856.00" rx="2.06" ry="1.78" fill="#e36898"/>
<ellipse cx="379.55" cy="856.00" rx="1.07" ry="0.92" fill="#f2cd81"/>
<ellipse cx="389.50" cy="856.00" rx="1.86" ry="1.60" fill="#f28897"/>
<ellipse cx="399.45" cy="856.00" rx="1.37" ry="1.18" fill="#f8b888"/>
<ellipse cx="409.40" cy="856.00" rx="1.29" ry="1.11" fill="#f6be86"/>
<ellipse cx="419.35" cy="856.00" rx="1.47" ry="1.26" fill="#f8b18b"/>
<ellipse cx="429.30" cy="856.00" rx="1.07" ry="0.92" fill="#f2cd81"/>
<ellipse cx="439.25" cy="856.00" rx="1.47" ry="1.26" fill="#f8b18b"/>
<ellipse cx="449.20" cy="856.00" rx="1.74" ry="1.50" fill="#fa9896"/>
<ellipse cx="459.15" cy="856.00" rx="1.37" ry="1.18" fill="#f8b888"/>
<ellipse cx="469.10" cy="856.00" rx="1.07" ry="0.92" fill="#f2cd81"/>
<ellipse cx="479.05" cy="856.00" rx="1.74" ry="1.50" fill="#fa9896"/>
<ellipse cx="489.00" cy="856.00" rx="1.56" ry="1.34" fill="#f9a98e"/>
<ellipse cx="498.95" cy="856.00" rx="1.66" ry="1.43" fill="#fa9f93"/>
<ellipse cx="508.90" cy="856.00" rx="1.56" ry="1.34" fill="#f9a98e"/>
<ellipse cx="518.85" cy="856.00" rx="1.56" ry="1.34" fill="#f9a98e"/>
<ellipse cx="528.80" cy="856.00" rx="1.29" ry="1.11" fill="#f6be86"/>
<ellipse cx="538.75" cy="856.00" rx="1.86" ry="1.60" fill="#f28897"/>
<ellipse cx="548.70" cy="856.00" rx="1.86" ry="1.60" fill="#f28897"/>
<ellipse cx="558.65" cy="856.00" rx="1.61" ry="1.39" fill="#f9a491"/>
<ellipse cx="568.60" cy="856.00" rx="1.74" ry="1.50" fill="#fa9896"/>
<ellipse cx="578.55" cy="856.00" rx="1.66" ry="1.43" fill="#fa9f93"/>
<ellipse cx="588.50" cy="856.00" rx="2.24" ry="1.93" fill="#d4489a"/>
<ellipse cx="598.45" cy="856.00" rx="2.06" ry="1.78" fill="#e36898"/>
<ellipse cx="608.40" cy="856.00" rx="1.29" ry="1.11" fill="#f6be86"/>
<ellipse cx="618.35" cy="856.00" rx="1.66" ry="1.43" fill="#fa9f93"/>
<ellipse cx="628.30" cy="856.00" rx="1.07" ry="0.92" fill="#f2cd81"/>
<ellipse cx="638.25" cy="856.00" rx="1.81" ry="1.56" fill="#f58e96"/>
<ellipse cx="648.20" cy="856.00" rx="1.47" ry="1.26" fill="#f8b18b"/>
<text transform="translate(83.20,870.25)" font-size="7.2" text-anchor="end" fill="#111" style="letter-spacing:0.58px;stroke-width:0.32px">Macrophages_NUPR1</text>
<line x1="83.30" y1="867.55" x2="85.30" y2="867.55" stroke="#555" stroke-width="0.6"/>
<ellipse cx="91.00" cy="867.55" rx="2.63" ry="2.27" fill="#7a3590"/>
<ellipse cx="100.95" cy="867.55" rx="1.96" ry="1.69" fill="#eb7898"/>
<ellipse cx="110.90" cy="867.55" rx="2.33" ry="2.01" fill="#c24498"/>
<ellipse cx="120.85" cy="867.55" rx="2.16" ry="1.86" fill="#dc5899"/>
<ellipse cx="130.80" cy="867.55" rx="2.90" ry="2.50" fill="#3c236d"/>
<ellipse cx="140.75" cy="867.55" rx="2.77" ry="2.39" fill="#5b2c7e"/>
<ellipse cx="150.70" cy="867.55" rx="2.16" ry="1.86" fill="#dc5899"/>
<ellipse cx="160.65" cy="867.55" rx="2.83" ry="2.44" fill="#4c2776"/>
<ellipse cx="170.60" cy="867.55" rx="2.41" ry="2.08" fill="#b04096"/>
<ellipse cx="180.55" cy="867.55" rx="2.41" ry="2.08" fill="#b04096"/>
<ellipse cx="190.50" cy="867.55" rx="2.24" ry="1.93" fill="#d4489a"/>
<ellipse cx="200.45" cy="867.55" rx="2.24" ry="1.93" fill="#d4489a"/>
<ellipse cx="210.40" cy="867.55" rx="2.24" ry="1.93" fill="#d4489a"/>
<ellipse cx="220.35" cy="867.55" rx="2.49" ry="2.14" fill="#9e3d94"/>
<ellipse cx="230.30" cy="867.55" rx="2.56" ry="2.21" fill="#8c3992"/>
<ellipse cx="240.25" cy="867.55" rx="2.49" ry="2.14" fill="#9e3d94"/>
<ellipse cx="250.20" cy="867.55" rx="2.16" ry="1.86" fill="#dc5899"/>
<ellipse cx="260.15" cy="867.55" rx="2.90" ry="2.50" fill="#3c236d"/>
<ellipse cx="270.10" cy="867.55" rx="2.49" ry="2.14" fill="#9e3d94"/>
<ellipse cx="280.05" cy="867.55" rx="2.49" ry="2.14" fill="#9e3d94"/>
<ellipse cx="290.00" cy="867.55" rx="2.33" ry="2.01" fill="#c24498"/>
<ellipse cx="299.95" cy="867.55" rx="2.33" ry="2.01" fill="#c24498"/>
<ellipse cx="309.90" cy="867.55" rx="1.96" ry="1.69" fill="#eb7898"/>
<ellipse cx="319.85" cy="867.55" rx="2.56" ry="2.21" fill="#8c3992"/>
<ellipse cx="329.80" cy="867.55" rx="1.74" ry="1.50" fill="#fa9896"/>
<ellipse cx="339.75" cy="867.55" rx="1.86" ry="1.60" fill="#f28897"/>
<ellipse cx="349.70" cy="867.55" rx="2.33" ry="2.01" fill="#c24498"/>
<ellipse cx="359.65" cy="867.55" rx="2.16" ry="1.86" fill="#dc5899"/>
<ellipse cx="369.60" cy="867.55" rx="2.56" ry="2.21" fill="#8c3992"/>
<ellipse cx="379.55" cy="867.55" rx="2.49" ry="2.14" fill="#9e3d94"/>
<ellipse cx="389.50" cy="867.55" rx="1.07" ry="0.92" fill="#f2cd81"/>
<ellipse cx="399.45" cy="867.55" rx="2.63" ry="2.27" fill="#7a3590"/>
<ellipse cx="409.40" cy="867.55" rx="2.49" ry="2.14" fill="#9e3d94"/>
<ellipse cx="419.35" cy="867.55" rx="2.70" ry="2.33" fill="#6b3087"/>
<ellipse cx="429.30" cy="867.55" rx="2.16" ry="1.86" fill="#dc5899"/>
<ellipse cx="439.25" cy="867.55" rx="2.16" ry="1.86" fill="#dc5899"/>
<ellipse cx="449.20" cy="867.55" rx="2.24" ry="1.93" fill="#d4489a"/>
<ellipse cx="459.15" cy="867.55" rx="2.49" ry="2.14" fill="#9e3d94"/>
<ellipse cx="469.10" cy="867.55" rx="2.06" ry="1.78" fill="#e36898"/>
<ellipse cx="479.05" cy="867.55" rx="2.56" ry="2.21" fill="#8c3992"/>
<ellipse cx="489.00" cy="867.55" rx="2.16" ry="1.86" fill="#dc5899"/>
<ellipse cx="498.95" cy="867.55" rx="1.96" ry="1.69" fill="#eb7898"/>
<ellipse cx="508.90" cy="867.55" rx="2.63" ry="2.27" fill="#7a3590"/>
<ellipse cx="518.85" cy="867.55" rx="2.33" ry="2.01" fill="#c24498"/>
<ellipse cx="528.80" cy="867.55" rx="2.41" ry="2.08" fill="#b04096"/>
<ellipse cx="538.75" cy="867.55" rx="2.70" ry="2.33" fill="#6b3087"/>
<ellipse cx="548.70" cy="867.55" rx="2.56" ry="2.21" fill="#8c3992"/>
<ellipse cx="558.65" cy="867.55" rx="2.06" ry="1.78" fill="#e36898"/>
<ellipse cx="568.60" cy="867.55" rx="2.24" ry="1.93" fill="#d4489a"/>
<ellipse cx="578.55" cy="867.55" rx="2.24" ry="1.93" fill="#d4489a"/>
<ellipse cx="588.50" cy="867.55" rx="1.96" ry="1.69" fill="#eb7898"/>
<ellipse cx="598.45" cy="867.55" rx="2.24" ry="1.93" fill="#d4489a"/>
<ellipse cx="608.40" cy="867.55" rx="2.41" ry="2.08" fill="#b04096"/>
<ellipse cx="618.35" cy="867.55" rx="2.56" ry="2.21" fill="#8c3992"/>
<ellipse cx="628.30" cy="867.55" rx="2.90" ry="2.50" fill="#3c236d"/>
<ellipse cx="638.25" cy="867.55" rx="2.41" ry="2.08" fill="#b04096"/>
<ellipse cx="648.20" cy="867.55" rx="2.41" ry="2.08" fill="#b04096"/>
<text transform="translate(83.20,881.80)" font-size="7.2" text-anchor="end" fill="#111" style="letter-spacing:0.58px;stroke-width:0.32px">Macrophages_LYVE1</text>
<line x1="83.30" y1="879.10" x2="85.30" y2="879.10" stroke="#555" stroke-width="0.6"/>
<ellipse cx="91.00" cy="879.10" rx="0.94" ry="0.81" fill="#f0d37f"/>
<ellipse cx="100.95" cy="879.10" rx="2.06" ry="1.78" fill="#e36898"/>
<ellipse cx="110.90" cy="879.10" rx="1.74" ry="1.50" fill="#fa9896"/>
<ellipse cx="120.85" cy="879.10" rx="1.96" ry="1.69" fill="#eb7898"/>
<ellipse cx="130.80" cy="879.10" rx="1.07" ry="0.92" fill="#f2cd81"/>
<ellipse cx="140.75" cy="879.10" rx="1.07" ry="0.92" fill="#f2cd81"/>
<ellipse cx="150.70" cy="879.10" rx="1.47" ry="1.26" fill="#f8b18b"/>
<ellipse cx="160.65" cy="879.10" rx="1.07" ry="0.92" fill="#f2cd81"/>
<ellipse cx="170.60" cy="879.10" rx="1.47" ry="1.26" fill="#f8b18b"/>
<ellipse cx="180.55" cy="879.10" rx="1.07" ry="0.92" fill="#f2cd81"/>
<ellipse cx="190.50" cy="879.10" rx="1.66" ry="1.43" fill="#fa9f93"/>
<ellipse cx="200.45" cy="879.10" rx="1.07" ry="0.92" fill="#f2cd81"/>
<ellipse cx="210.40" cy="879.10" rx="1.07" ry="0.92" fill="#f2cd81"/>
<ellipse cx="220.35" cy="879.10" rx="1.07" ry="0.92" fill="#f2cd81"/>
<ellipse cx="230.30" cy="879.10" rx="1.07" ry="0.92" fill="#f2cd81"/>
<ellipse cx="240.25" cy="879.10" rx="1.47" ry="1.26" fill="#f8b18b"/>
<ellipse cx="250.20" cy="879.10" rx="1.07" ry="0.92" fill="#f2cd81"/>
<ellipse cx="260.15" cy="879.10" rx="1.07" ry="0.92" fill="#f2cd81"/>
<ellipse cx="270.10" cy="879.10" rx="1.07" ry="0.92" fill="#f2cd81"/>
<ellipse cx="280.05" cy="879.10" rx="1.86" ry="1.60" fill="#f28897"/>
<ellipse cx="290.00" cy="879.10" rx="1.86" ry="1.60" fill="#f28897"/>
<ellipse cx="299.95" cy="879.10" rx="1.66" ry="1.43" fill="#fa9f93"/>
<ellipse cx="309.90" cy="879.10" rx="1.96" ry="1.69" fill="#eb7898"/>
<ellipse cx="319.85" cy="879.10" rx="1.07" ry="0.92" fill="#f2cd81"/>
<ellipse cx="329.80" cy="879.10" rx="2.33" ry="2.01" fill="#c24498"/>
<ellipse cx="339.75" cy="879.10" rx="2.24" ry="1.93" fill="#d4489a"/>
<ellipse cx="349.70" cy="879.10" rx="1.74" ry="1.50" fill="#fa9896"/>
<ellipse cx="359.65" cy="879.10" rx="1.07" ry="0.92" fill="#f2cd81"/>
<ellipse cx="369.60" cy="879.10" rx="2.33" ry="2.01" fill="#c24498"/>
<ellipse cx="379.55" cy="879.10" rx="1.47" ry="1.26" fill="#f8b18b"/>
<ellipse cx="389.50" cy="879.10" rx="1.37" ry="1.18" fill="#f8b888"/>
<ellipse cx="399.45" cy="879.10" rx="2.06" ry="1.78" fill="#e36898"/>
<ellipse cx="409.40" cy="879.10" rx="1.07" ry="0.92" fill="#f2cd81"/>
<ellipse cx="419.35" cy="879.10" rx="1.29" ry="1.11" fill="#f6be86"/>
<ellipse cx="429.30" cy="879.10" rx="1.61" ry="1.39" fill="#f9a491"/>
<ellipse cx="439.25" cy="879.10" rx="1.07" ry="0.92" fill="#f2cd81"/>
<ellipse cx="449.20" cy="879.10" rx="1.07" ry="0.92" fill="#f2cd81"/>
<ellipse cx="459.15" cy="879.10" rx="2.24" ry="1.93" fill="#d4489a"/>
<ellipse cx="469.10" cy="879.10" rx="1.56" ry="1.34" fill="#f9a98e"/>
<ellipse cx="479.05" cy="879.10" rx="1.07" ry="0.92" fill="#f2cd81"/>
<ellipse cx="489.00" cy="879.10" rx="1.07" ry="0.92" fill="#f2cd81"/>
<ellipse cx="498.95" cy="879.10" rx="1.07" ry="0.92" fill="#f2cd81"/>
<ellipse cx="508.90" cy="879.10" rx="1.07" ry="0.92" fill="#f2cd81"/>
<ellipse cx="518.85" cy="879.10" rx="2.16" ry="1.86" fill="#dc5899"/>
<ellipse cx="528.80" cy="879.10" rx="2.16" ry="1.86" fill="#dc5899"/>
<ellipse cx="538.75" cy="879.10" rx="2.24" ry="1.93" fill="#d4489a"/>
<ellipse cx="548.70" cy="879.10" rx="1.66" ry="1.43" fill="#fa9f93"/>
<ellipse cx="558.65" cy="879.10" rx="1.29" ry="1.11" fill="#f6be86"/>
<ellipse cx="568.60" cy="879.10" rx="2.16" ry="1.86" fill="#dc5899"/>
<ellipse cx="578.55" cy="879.10" rx="1.66" ry="1.43" fill="#fa9f93"/>
<ellipse cx="588.50" cy="879.10" rx="1.29" ry="1.11" fill="#f6be86"/>
<ellipse cx="598.45" cy="879.10" rx="1.07" ry="0.92" fill="#f2cd81"/>
<ellipse cx="608.40" cy="879.10" rx="1.07" ry="0.92" fill="#f2cd81"/>
<ellipse cx="618.35" cy="879.10" rx="1.86" ry="1.60" fill="#f28897"/>
<ellipse cx="628.30" cy="879.10" rx="1.29" ry="1.11" fill="#f6be86"/>
<ellipse cx="638.25" cy="879.10" rx="1.07" ry="0.92" fill="#f2cd81"/>
<ellipse cx="648.20" cy="879.10" rx="1.07" ry="0.92" fill="#f2cd81"/>
<text transform="translate(83.20,893.35)" font-size="7.2" text-anchor="end" fill="#111" style="letter-spacing:0.58px;stroke-width:0.32px">Macrophages_IL1B</text>
<line x1="83.30" y1="890.65" x2="85.30" y2="890.65" stroke="#555" stroke-width="0.6"/>
<ellipse cx="91.00" cy="890.65" rx="1.61" ry="1.39" fill="#f9a491"/>
<ellipse cx="100.95" cy="890.65" rx="2.49" ry="2.14" fill="#9e3d94"/>
<ellipse cx="110.90" cy="890.65" rx="1.07" ry="0.92" fill="#f2cd81"/>
<ellipse cx="120.85" cy="890.65" rx="2.90" ry="2.50" fill="#3c236d"/>
<ellipse cx="130.80" cy="890.65" rx="2.90" ry="2.50" fill="#3c236d"/>
<ellipse cx="140.75" cy="890.65" rx="1.86" ry="1.60" fill="#f28897"/>
<ellipse cx="150.70" cy="890.65" rx="1.07" ry="0.92" fill="#f2cd81"/>
<ellipse cx="160.65" cy="890.65" rx="1.96" ry="1.69" fill="#eb7898"/>
<ellipse cx="170.60" cy="890.65" rx="1.07" ry="0.92" fill="#f2cd81"/>
<ellipse cx="180.55" cy="890.65" rx="1.47" ry="1.26" fill="#f8b18b"/>
<ellipse cx="190.50" cy="890.65" rx="2.49" ry="2.14" fill="#9e3d94"/>
<ellipse cx="200.45" cy="890.65" rx="1.47" ry="1.26" fill="#f8b18b"/>
<ellipse cx="210.40" cy="890.65" rx="1.07" ry="0.92" fill="#f2cd81"/>
<ellipse cx="220.35" cy="890.65" rx="1.86" ry="1.60" fill="#f28897"/>
<ellipse cx="230.30" cy="890.65" rx="1.61" ry="1.39" fill="#f9a491"/>
<ellipse cx="240.25" cy="890.65" rx="1.07" ry="0.92" fill="#f2cd81"/>
<ellipse cx="250.20" cy="890.65" rx="1.37" ry="1.18" fill="#f8b888"/>
<ellipse cx="260.15" cy="890.65" rx="1.74" ry="1.50" fill="#fa9896"/>
<ellipse cx="270.10" cy="890.65" rx="1.74" ry="1.50" fill="#fa9896"/>
<ellipse cx="280.05" cy="890.65" rx="1.07" ry="0.92" fill="#f2cd81"/>
<ellipse cx="290.00" cy="890.65" rx="1.07" ry="0.92" fill="#f2cd81"/>
<ellipse cx="299.95" cy="890.65" rx="1.29" ry="1.11" fill="#f6be86"/>
<ellipse cx="309.90" cy="890.65" rx="2.90" ry="2.50" fill="#3c236d"/>
<ellipse cx="319.85" cy="890.65" rx="1.37" ry="1.18" fill="#f8b888"/>
<ellipse cx="329.80" cy="890.65" rx="2.63" ry="2.27" fill="#7a3590"/>
<ellipse cx="339.75" cy="890.65" rx="2.33" ry="2.01" fill="#c24498"/>
<ellipse cx="349.70" cy="890.65" rx="1.07" ry="0.92" fill="#f2cd81"/>
<ellipse cx="359.65" cy="890.65" rx="1.74" ry="1.50" fill="#fa9896"/>
<ellipse cx="369.60" cy="890.65" rx="2.90" ry="2.50" fill="#3c236d"/>
<ellipse cx="379.55" cy="890.65" rx="1.61" ry="1.39" fill="#f9a491"/>
<ellipse cx="389.50" cy="890.65" rx="2.06" ry="1.78" fill="#e36898"/>
<ellipse cx="399.45" cy="890.65" rx="1.07" ry="0.92" fill="#f2cd81"/>
<ellipse cx="409.40" cy="890.65" rx="1.29" ry="1.11" fill="#f6be86"/>
<ellipse cx="419.35" cy="890.65" rx="1.07" ry="0.92" fill="#f2cd81"/>
<ellipse cx="429.30" cy="890.65" rx="1.37" ry="1.18" fill="#f8b888"/>
<ellipse cx="439.25" cy="890.65" rx="1.21" ry="1.04" fill="#f5c484"/>
<ellipse cx="449.20" cy="890.65" rx="1.74" ry="1.50" fill="#fa9896"/>
<ellipse cx="459.15" cy="890.65" rx="1.07" ry="0.92" fill="#f2cd81"/>
<ellipse cx="469.10" cy="890.65" rx="1.37" ry="1.18" fill="#f8b888"/>
<ellipse cx="479.05" cy="890.65" rx="1.74" ry="1.50" fill="#fa9896"/>
<ellipse cx="489.00" cy="890.65" rx="1.37" ry="1.18" fill="#f8b888"/>
<ellipse cx="498.95" cy="890.65" rx="1.47" ry="1.26" fill="#f8b18b"/>
<ellipse cx="508.90" cy="890.65" rx="1.61" ry="1.39" fill="#f9a491"/>
<ellipse cx="518.85" cy="890.65" rx="1.07" ry="0.92" fill="#f2cd81"/>
<ellipse cx="528.80" cy="890.65" rx="1.07" ry="0.92" fill="#f2cd81"/>
<ellipse cx="538.75" cy="890.65" rx="1.86" ry="1.60" fill="#f28897"/>
<ellipse cx="548.70" cy="890.65" rx="1.37" ry="1.18" fill="#f8b888"/>
<ellipse cx="558.65" cy="890.65" rx="1.07" ry="0.92" fill="#f2cd81"/>
<ellipse cx="568.60" cy="890.65" rx="1.07" ry="0.92" fill="#f2cd81"/>
<ellipse cx="578.55" cy="890.65" rx="1.07" ry="0.92" fill="#f2cd81"/>
<ellipse cx="588.50" cy="890.65" rx="1.96" ry="1.69" fill="#eb7898"/>
<ellipse cx="598.45" cy="890.65" rx="1.29" ry="1.11" fill="#f6be86"/>
<ellipse cx="608.40" cy="890.65" rx="1.37" ry="1.18" fill="#f8b888"/>
<ellipse cx="618.35" cy="890.65" rx="1.07" ry="0.92" fill="#f2cd81"/>
<ellipse cx="628.30" cy="890.65" rx="1.61" ry="1.39" fill="#f9a491"/>
<ellipse cx="638.25" cy="890.65" rx="1.61" ry="1.39" fill="#f9a491"/>
<ellipse cx="648.20" cy="890.65" rx="1.47" ry="1.26" fill="#f8b18b"/>
<line x1="91.00" y1="897.40" x2="91.00" y2="899.20" stroke="#555" stroke-width="0.6"/>
<text transform="translate(96.60,901.6) scale(1.15,1) rotate(-45)" font-size="4.45" text-anchor="end" fill="#333" style="stroke-width:0.12px;stroke:#333">Alanine, aspartate and glutamate metabolism</text>
<line x1="100.95" y1="897.40" x2="100.95" y2="899.20" stroke="#555" stroke-width="0.6"/>
<text transform="translate(106.55,901.6) scale(1.15,1) rotate(-45)" font-size="4.45" text-anchor="end" fill="#333" style="stroke-width:0.12px;stroke:#333">alpha−Linolenic acid metabolism</text>
<line x1="110.90" y1="897.40" x2="110.90" y2="899.20" stroke="#555" stroke-width="0.6"/>
<text transform="translate(116.50,901.6) scale(1.15,1) rotate(-45)" font-size="4.45" text-anchor="end" fill="#333" style="stroke-width:0.12px;stroke:#333">Amino sugar and nucleotide sugar metabolism</text>
<line x1="120.85" y1="897.40" x2="120.85" y2="899.20" stroke="#555" stroke-width="0.6"/>
<text transform="translate(126.45,901.6) scale(1.15,1) rotate(-45)" font-size="4.45" text-anchor="end" fill="#333" style="stroke-width:0.12px;stroke:#333">Arachidonic acid metabolism</text>
<line x1="130.80" y1="897.40" x2="130.80" y2="899.20" stroke="#555" stroke-width="0.6"/>
<text transform="translate(136.40,901.6) scale(1.15,1) rotate(-45)" font-size="4.45" text-anchor="end" fill="#333" style="stroke-width:0.12px;stroke:#333">Arginine and proline metabolism</text>
<line x1="140.75" y1="897.40" x2="140.75" y2="899.20" stroke="#555" stroke-width="0.6"/>
<text transform="translate(146.35,901.6) scale(1.15,1) rotate(-45)" font-size="4.45" text-anchor="end" fill="#333" style="stroke-width:0.12px;stroke:#333">beta−Alanine metabolism</text>
<line x1="150.70" y1="897.40" x2="150.70" y2="899.20" stroke="#555" stroke-width="0.6"/>
<text transform="translate(156.30,901.6) scale(1.15,1) rotate(-45)" font-size="4.45" text-anchor="end" fill="#333" style="stroke-width:0.12px;stroke:#333">Butanoate metabolism</text>
<line x1="160.65" y1="897.40" x2="160.65" y2="899.20" stroke="#555" stroke-width="0.6"/>
<text transform="translate(166.25,901.6) scale(1.15,1) rotate(-45)" font-size="4.45" text-anchor="end" fill="#333" style="stroke-width:0.12px;stroke:#333">Cysteine and methionine metabolism</text>
<line x1="170.60" y1="897.40" x2="170.60" y2="899.20" stroke="#555" stroke-width="0.6"/>
<text transform="translate(176.20,901.6) scale(1.15,1) rotate(-45)" font-size="4.45" text-anchor="end" fill="#333" style="stroke-width:0.12px;stroke:#333">Drug metabolism − cytochrome P450</text>
<line x1="180.55" y1="897.40" x2="180.55" y2="899.20" stroke="#555" stroke-width="0.6"/>
<text transform="translate(186.15,901.6) scale(1.15,1) rotate(-45)" font-size="4.45" text-anchor="end" fill="#333" style="stroke-width:0.12px;stroke:#333">Drug metabolism − other enzymes</text>
<line x1="190.50" y1="897.40" x2="190.50" y2="899.20" stroke="#555" stroke-width="0.6"/>
<text transform="translate(196.10,901.6) scale(1.15,1) rotate(-45)" font-size="4.45" text-anchor="end" fill="#333" style="stroke-width:0.12px;stroke:#333">Fatty acid biosynthesis</text>
<line x1="200.45" y1="897.40" x2="200.45" y2="899.20" stroke="#555" stroke-width="0.6"/>
<text transform="translate(206.05,901.6) scale(1.15,1) rotate(-45)" font-size="4.45" text-anchor="end" fill="#333" style="stroke-width:0.12px;stroke:#333">Fatty acid degradation</text>
<line x1="210.40" y1="897.40" x2="210.40" y2="899.20" stroke="#555" stroke-width="0.6"/>
<text transform="translate(216.00,901.6) scale(1.15,1) rotate(-45)" font-size="4.45" text-anchor="end" fill="#333" style="stroke-width:0.12px;stroke:#333">Fatty acid elongation</text>
<line x1="220.35" y1="897.40" x2="220.35" y2="899.20" stroke="#555" stroke-width="0.6"/>
<text transform="translate(225.95,901.6) scale(1.15,1) rotate(-45)" font-size="4.45" text-anchor="end" fill="#333" style="stroke-width:0.12px;stroke:#333">Fructose and mannose metabolism</text>
<line x1="230.30" y1="897.40" x2="230.30" y2="899.20" stroke="#555" stroke-width="0.6"/>
<text transform="translate(235.90,901.6) scale(1.15,1) rotate(-45)" font-size="4.45" text-anchor="end" fill="#333" style="stroke-width:0.12px;stroke:#333">Galactose metabolism</text>
<line x1="240.25" y1="897.40" x2="240.25" y2="899.20" stroke="#555" stroke-width="0.6"/>
<text transform="translate(245.85,901.6) scale(1.15,1) rotate(-45)" font-size="4.45" text-anchor="end" fill="#333" style="stroke-width:0.12px;stroke:#333">Glutathione metabolism</text>
<line x1="250.20" y1="897.40" x2="250.20" y2="899.20" stroke="#555" stroke-width="0.6"/>
<text transform="translate(255.80,901.6) scale(1.15,1) rotate(-45)" font-size="4.45" text-anchor="end" fill="#333" style="stroke-width:0.12px;stroke:#333">Glycerolipid metabolism</text>
<line x1="260.15" y1="897.40" x2="260.15" y2="899.20" stroke="#555" stroke-width="0.6"/>
<text transform="translate(265.75,901.6) scale(1.15,1) rotate(-45)" font-size="4.45" text-anchor="end" fill="#333" style="stroke-width:0.12px;stroke:#333">Glycine, serine and threonine metabolism</text>
<line x1="270.10" y1="897.40" x2="270.10" y2="899.20" stroke="#555" stroke-width="0.6"/>
<text transform="translate(275.70,901.6) scale(1.15,1) rotate(-45)" font-size="4.45" text-anchor="end" fill="#333" style="stroke-width:0.12px;stroke:#333">Glycolysis / Gluconeogenesis</text>
<line x1="280.05" y1="897.40" x2="280.05" y2="899.20" stroke="#555" stroke-width="0.6"/>
<text transform="translate(285.65,901.6) scale(1.15,1) rotate(-45)" font-size="4.45" text-anchor="end" fill="#333" style="stroke-width:0.12px;stroke:#333">Glycosaminoglycan degradation</text>
<line x1="290.00" y1="897.40" x2="290.00" y2="899.20" stroke="#555" stroke-width="0.6"/>
<text transform="translate(295.60,901.6) scale(1.15,1) rotate(-45)" font-size="4.45" text-anchor="end" fill="#333" style="stroke-width:0.12px;stroke:#333">Glycosphingolipid biosynthesis − ganglio series</text>
<line x1="299.95" y1="897.40" x2="299.95" y2="899.20" stroke="#555" stroke-width="0.6"/>
<text transform="translate(305.55,901.6) scale(1.15,1) rotate(-45)" font-size="4.45" text-anchor="end" fill="#333" style="stroke-width:0.12px;stroke:#333">Glycosphingolipid biosynthesis − globo and isoglobo series</text>
<line x1="309.90" y1="897.40" x2="309.90" y2="899.20" stroke="#555" stroke-width="0.6"/>
<text transform="translate(315.50,901.6) scale(1.15,1) rotate(-45)" font-size="4.45" text-anchor="end" fill="#333" style="stroke-width:0.12px;stroke:#333">Glycosphingolipid biosynthesis − lacto and neolacto series</text>
<line x1="319.85" y1="897.40" x2="319.85" y2="899.20" stroke="#555" stroke-width="0.6"/>
<text transform="translate(325.45,901.6) scale(1.15,1) rotate(-45)" font-size="4.45" text-anchor="end" fill="#333" style="stroke-width:0.12px;stroke:#333">Glyoxylate and dicarboxylate metabolism</text>
<line x1="329.80" y1="897.40" x2="329.80" y2="899.20" stroke="#555" stroke-width="0.6"/>
<text transform="translate(335.40,901.6) scale(1.15,1) rotate(-45)" font-size="4.45" text-anchor="end" fill="#333" style="stroke-width:0.12px;stroke:#333">Inositol phosphate metabolism</text>
<line x1="339.75" y1="897.40" x2="339.75" y2="899.20" stroke="#555" stroke-width="0.6"/>
<text transform="translate(345.35,901.6) scale(1.15,1) rotate(-45)" font-size="4.45" text-anchor="end" fill="#333" style="stroke-width:0.12px;stroke:#333">Linoleic acid metabolism</text>
<line x1="349.70" y1="897.40" x2="349.70" y2="899.20" stroke="#555" stroke-width="0.6"/>
<text transform="translate(355.30,901.6) scale(1.15,1) rotate(-45)" font-size="4.45" text-anchor="end" fill="#333" style="stroke-width:0.12px;stroke:#333">Metabolism of xenobiotics by cytochrome P450</text>
<line x1="359.65" y1="897.40" x2="359.65" y2="899.20" stroke="#555" stroke-width="0.6"/>
<text transform="translate(365.25,901.6) scale(1.15,1) rotate(-45)" font-size="4.45" text-anchor="end" fill="#333" style="stroke-width:0.12px;stroke:#333">Neomycin, kanamycin and gentamicin biosynthesis</text>
<line x1="369.60" y1="897.40" x2="369.60" y2="899.20" stroke="#555" stroke-width="0.6"/>
<text transform="translate(375.20,901.6) scale(1.15,1) rotate(-45)" font-size="4.45" text-anchor="end" fill="#333" style="stroke-width:0.12px;stroke:#333">Nicotinate and nicotinamide metabolism</text>
<line x1="379.55" y1="897.40" x2="379.55" y2="899.20" stroke="#555" stroke-width="0.6"/>
<text transform="translate(385.15,901.6) scale(1.15,1) rotate(-45)" font-size="4.45" text-anchor="end" fill="#333" style="stroke-width:0.12px;stroke:#333">Nitrogen metabolism</text>
<line x1="389.50" y1="897.40" x2="389.50" y2="899.20" stroke="#555" stroke-width="0.6"/>
<text transform="translate(395.10,901.6) scale(1.15,1) rotate(-45)" font-size="4.45" text-anchor="end" fill="#333" style="stroke-width:0.12px;stroke:#333">One carbon pool by folate</text>
<line x1="399.45" y1="897.40" x2="399.45" y2="899.20" stroke="#555" stroke-width="0.6"/>
<text transform="translate(405.05,901.6) scale(1.15,1) rotate(-45)" font-size="4.45" text-anchor="end" fill="#333" style="stroke-width:0.12px;stroke:#333">Other glycan degradation</text>
<line x1="409.40" y1="897.40" x2="409.40" y2="899.20" stroke="#555" stroke-width="0.6"/>
<text transform="translate(415.00,901.6) scale(1.15,1) rotate(-45)" font-size="4.45" text-anchor="end" fill="#333" style="stroke-width:0.12px;stroke:#333">Oxidative phosphorylation</text>
<line x1="419.35" y1="897.40" x2="419.35" y2="899.20" stroke="#555" stroke-width="0.6"/>
<text transform="translate(424.95,901.6) scale(1.15,1) rotate(-45)" font-size="4.45" text-anchor="end" fill="#333" style="stroke-width:0.12px;stroke:#333">Pentose and glucuronate interconversions</text>
<line x1="429.30" y1="897.40" x2="429.30" y2="899.20" stroke="#555" stroke-width="0.6"/>
<text transform="translate(434.90,901.6) scale(1.15,1) rotate(-45)" font-size="4.45" text-anchor="end" fill="#333" style="stroke-width:0.12px;stroke:#333">Pentose phosphate pathway</text>
<line x1="439.25" y1="897.40" x2="439.25" y2="899.20" stroke="#555" stroke-width="0.6"/>
<text transform="translate(444.85,901.6) scale(1.15,1) rotate(-45)" font-size="4.45" text-anchor="end" fill="#333" style="stroke-width:0.12px;stroke:#333">Phenylalanine metabolism</text>
<line x1="449.20" y1="897.40" x2="449.20" y2="899.20" stroke="#555" stroke-width="0.6"/>
<text transform="translate(454.80,901.6) scale(1.15,1) rotate(-45)" font-size="4.45" text-anchor="end" fill="#333" style="stroke-width:0.12px;stroke:#333">Phenylalanine, tyrosine and tryptophan biosynthesis</text>
<line x1="459.15" y1="897.40" x2="459.15" y2="899.20" stroke="#555" stroke-width="0.6"/>
<text transform="translate(464.75,901.6) scale(1.15,1) rotate(-45)" font-size="4.45" text-anchor="end" fill="#333" style="stroke-width:0.12px;stroke:#333">Porphyrin and chlorophyll metabolism</text>
<line x1="469.10" y1="897.40" x2="469.10" y2="899.20" stroke="#555" stroke-width="0.6"/>
<text transform="translate(474.70,901.6) scale(1.15,1) rotate(-45)" font-size="4.45" text-anchor="end" fill="#333" style="stroke-width:0.12px;stroke:#333">Primary bile acid biosynthesis</text>
<line x1="479.05" y1="897.40" x2="479.05" y2="899.20" stroke="#555" stroke-width="0.6"/>
<text transform="translate(484.65,901.6) scale(1.15,1) rotate(-45)" font-size="4.45" text-anchor="end" fill="#333" style="stroke-width:0.12px;stroke:#333">Propanoate metabolism</text>
<line x1="489.00" y1="897.40" x2="489.00" y2="899.20" stroke="#555" stroke-width="0.6"/>
<text transform="translate(494.60,901.6) scale(1.15,1) rotate(-45)" font-size="4.45" text-anchor="end" fill="#333" style="stroke-width:0.12px;stroke:#333">Purine metabolism</text>
<line x1="498.95" y1="897.40" x2="498.95" y2="899.20" stroke="#555" stroke-width="0.6"/>
<text transform="translate(504.55,901.6) scale(1.15,1) rotate(-45)" font-size="4.45" text-anchor="end" fill="#333" style="stroke-width:0.12px;stroke:#333">Pyrimidine metabolism</text>
<line x1="508.90" y1="897.40" x2="508.90" y2="899.20" stroke="#555" stroke-width="0.6"/>
<text transform="translate(514.50,901.6) scale(1.15,1) rotate(-45)" font-size="4.45" text-anchor="end" fill="#333" style="stroke-width:0.12px;stroke:#333">Pyruvate metabolism</text>
<line x1="518.85" y1="897.40" x2="518.85" y2="899.20" stroke="#555" stroke-width="0.6"/>
<text transform="translate(524.45,901.6) scale(1.15,1) rotate(-45)" font-size="4.45" text-anchor="end" fill="#333" style="stroke-width:0.12px;stroke:#333">Retinol metabolism</text>
<line x1="528.80" y1="897.40" x2="528.80" y2="899.20" stroke="#555" stroke-width="0.6"/>
<text transform="translate(534.40,901.6) scale(1.15,1) rotate(-45)" font-size="4.45" text-anchor="end" fill="#333" style="stroke-width:0.12px;stroke:#333">Riboflavin metabolism</text>
<line x1="538.75" y1="897.40" x2="538.75" y2="899.20" stroke="#555" stroke-width="0.6"/>
<text transform="translate(544.35,901.6) scale(1.15,1) rotate(-45)" font-size="4.45" text-anchor="end" fill="#333" style="stroke-width:0.12px;stroke:#333">Sphingolipid metabolism</text>
<line x1="548.70" y1="897.40" x2="548.70" y2="899.20" stroke="#555" stroke-width="0.6"/>
<text transform="translate(554.30,901.6) scale(1.15,1) rotate(-45)" font-size="4.45" text-anchor="end" fill="#333" style="stroke-width:0.12px;stroke:#333">Starch and sucrose metabolism</text>
<line x1="558.65" y1="897.40" x2="558.65" y2="899.20" stroke="#555" stroke-width="0.6"/>
<text transform="translate(564.25,901.6) scale(1.15,1) rotate(-45)" font-size="4.45" text-anchor="end" fill="#333" style="stroke-width:0.12px;stroke:#333">Steroid biosynthesis</text>
<line x1="568.60" y1="897.40" x2="568.60" y2="899.20" stroke="#555" stroke-width="0.6"/>
<text transform="translate(574.20,901.6) scale(1.15,1) rotate(-45)" font-size="4.45" text-anchor="end" fill="#333" style="stroke-width:0.12px;stroke:#333">Steroid hormone biosynthesis</text>
<line x1="578.55" y1="897.40" x2="578.55" y2="899.20" stroke="#555" stroke-width="0.6"/>
<text transform="translate(584.15,901.6) scale(1.15,1) rotate(-45)" font-size="4.45" text-anchor="end" fill="#333" style="stroke-width:0.12px;stroke:#333">Sulfur metabolism</text>
<line x1="588.50" y1="897.40" x2="588.50" y2="899.20" stroke="#555" stroke-width="0.6"/>
<text transform="translate(594.10,901.6) scale(1.15,1) rotate(-45)" font-size="4.45" text-anchor="end" fill="#333" style="stroke-width:0.12px;stroke:#333">Synthesis and degradation of ketone bodies</text>
<line x1="598.45" y1="897.40" x2="598.45" y2="899.20" stroke="#555" stroke-width="0.6"/>
<text transform="translate(604.05,901.6) scale(1.15,1) rotate(-45)" font-size="4.45" text-anchor="end" fill="#333" style="stroke-width:0.12px;stroke:#333">Thiamine metabolism</text>
<line x1="608.40" y1="897.40" x2="608.40" y2="899.20" stroke="#555" stroke-width="0.6"/>
<text transform="translate(614.00,901.6) scale(1.15,1) rotate(-45)" font-size="4.45" text-anchor="end" fill="#333" style="stroke-width:0.12px;stroke:#333">Tryptophan metabolism</text>
<line x1="618.35" y1="897.40" x2="618.35" y2="899.20" stroke="#555" stroke-width="0.6"/>
<text transform="translate(623.95,901.6) scale(1.15,1) rotate(-45)" font-size="4.45" text-anchor="end" fill="#333" style="stroke-width:0.12px;stroke:#333">Tyrosine metabolism</text>
<line x1="628.30" y1="897.40" x2="628.30" y2="899.20" stroke="#555" stroke-width="0.6"/>
<text transform="translate(633.90,901.6) scale(1.15,1) rotate(-45)" font-size="4.45" text-anchor="end" fill="#333" style="stroke-width:0.12px;stroke:#333">Valine, leucine and isoleucine biosynthesis</text>
<line x1="638.25" y1="897.40" x2="638.25" y2="899.20" stroke="#555" stroke-width="0.6"/>
<text transform="translate(643.85,901.6) scale(1.15,1) rotate(-45)" font-size="4.45" text-anchor="end" fill="#333" style="stroke-width:0.12px;stroke:#333">Valine, leucine and isoleucine degradation</text>
<line x1="648.20" y1="897.40" x2="648.20" y2="899.20" stroke="#555" stroke-width="0.6"/>
<text transform="translate(653.80,901.6) scale(1.15,1) rotate(-45)" font-size="4.45" text-anchor="end" fill="#333" style="stroke-width:0.12px;stroke:#333">Vitamin B6 metabolism</text>
<text transform="translate(661.40,811.00) scale(1.200,1)" font-size="6.4" text-anchor="start" fill="#111">Value</text>
<circle cx="664.80" cy="816.90" r="0.42" fill="#000"/>
<text transform="translate(670.60,819.10) scale(1.200,1)" font-size="6.3" text-anchor="start" fill="#111">0.00</text>
<circle cx="664.80" cy="823.30" r="1.60" fill="#000"/>
<text transform="translate(670.60,825.50) scale(1.200,1)" font-size="6.3" text-anchor="start" fill="#111">0.25</text>
<circle cx="664.80" cy="829.50" r="2.15" fill="#000"/>
<text transform="translate(670.60,831.70) scale(1.200,1)" font-size="6.3" text-anchor="start" fill="#111">0.50</text>
<circle cx="664.80" cy="836.10" r="2.40" fill="#000"/>
<text transform="translate(670.60,838.30) scale(1.200,1)" font-size="6.3" text-anchor="start" fill="#111">0.75</text>
<circle cx="664.80" cy="842.80" r="2.95" fill="#000"/>
<text transform="translate(670.60,845.00) scale(1.200,1)" font-size="6.3" text-anchor="start" fill="#111">1.00</text>
<text transform="translate(661.40,855.40) scale(1.200,1)" font-size="6.4" text-anchor="start" fill="#111">Value</text>
<defs><linearGradient id="gH" x1="0" y1="1" x2="0" y2="0"><stop offset="0.0" stop-color="rgb(238, 220, 124)"/><stop offset="0.12" stop-color="rgb(248, 184, 136)"/><stop offset="0.25" stop-color="rgb(250, 152, 150)"/><stop offset="0.5" stop-color="rgb(212, 72, 154)"/><stop offset="0.75" stop-color="rgb(122, 53, 144)"/><stop offset="1.0" stop-color="rgb(45, 30, 100)"/></linearGradient></defs>
<rect x="661.00" y="860.10" width="7.80" height="32.70" fill="url(#gH)"/>
<text transform="translate(670.60,862.30) scale(1.200,1)" font-size="6.3" text-anchor="start" fill="#111">1.00</text>
<text transform="translate(670.60,870.50) scale(1.200,1)" font-size="6.3" text-anchor="start" fill="#111">0.75</text>
<text transform="translate(670.60,878.70) scale(1.200,1)" font-size="6.3" text-anchor="start" fill="#111">0.50</text>
<text transform="translate(670.60,886.80) scale(1.200,1)" font-size="6.3" text-anchor="start" fill="#111">0.25</text>
<text transform="translate(670.60,895.00) scale(1.200,1)" font-size="6.3" text-anchor="start" fill="#111">0.00</text>
</svg>
</body></html>
